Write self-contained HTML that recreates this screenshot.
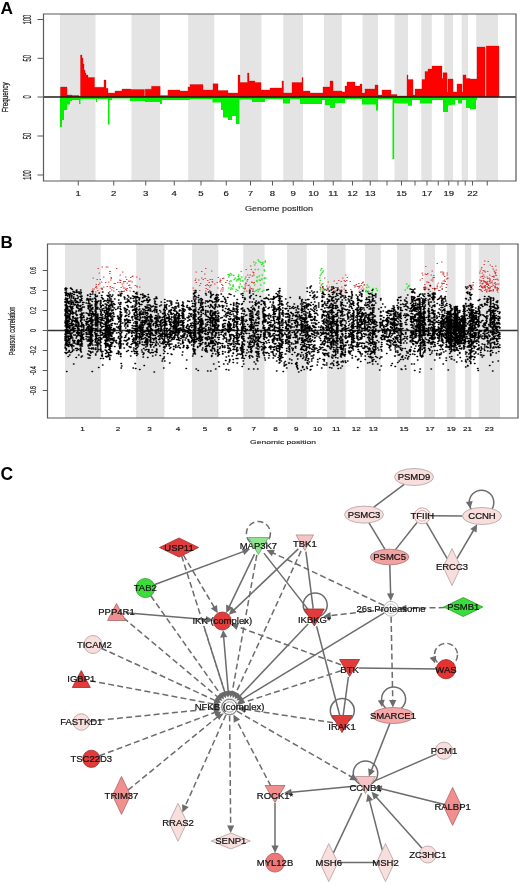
<!DOCTYPE html>
<html><head><meta charset="utf-8"><style>
html,body{margin:0;padding:0;background:#fff;width:520px;height:886px;overflow:hidden}
svg{display:block;filter:blur(0.35px)}
</style></head><body>
<svg width="520" height="886" viewBox="0 0 520 886">
<rect x="60" y="14" width="35.50" height="167" fill="#e4e4e4"/>
<rect x="131.5" y="14" width="28.50" height="167" fill="#e4e4e4"/>
<rect x="188.25" y="14" width="26.00" height="167" fill="#e4e4e4"/>
<rect x="240" y="14" width="21.50" height="167" fill="#e4e4e4"/>
<rect x="283.25" y="14" width="19.75" height="167" fill="#e4e4e4"/>
<rect x="324" y="14" width="17.75" height="167" fill="#e4e4e4"/>
<rect x="362.5" y="14" width="15.50" height="167" fill="#e4e4e4"/>
<rect x="394.5" y="14" width="13.50" height="167" fill="#e4e4e4"/>
<rect x="421.25" y="14" width="10.50" height="167" fill="#e4e4e4"/>
<rect x="444.25" y="14" width="8.75" height="167" fill="#e4e4e4"/>
<rect x="461.75" y="14" width="6.25" height="167" fill="#e4e4e4"/>
<rect x="476.25" y="14" width="21.75" height="167" fill="#e4e4e4"/>
<path d="M60.5 97 L60.5 87 L67 87 L67 95 L72 95 L72 95.5 L79 95.5 L79 96.5 L80.5 96.5 L80.5 55 L82 55 L82 58 L83 58 L83 64 L84 64 L84 70 L85 70 L85 73 L86 73 L86 75 L88 75 L88 77.5 L94.5 77.5 L94.5 87.3 L97 87.3 L97 87.3 L104 87.3 L104 80 L106 80 L106 88.3 L108 88.3 L108 93 L115 93 L115 91 L122 91 L122 89 L131 89 L131 89.5 L144.4 89.5 L144.4 96 L145.2 96 L145.2 89.2 L151.5 89.2 L151.5 86.3 L160.2 86.3 L160.2 95.5 L167.9 95.5 L167.9 90 L180 90 L180 91 L188 91 L188 87 L190 87 L190 84.5 L203 84.5 L203 90 L213 90 L213 83.7 L218 83.7 L218 90.5 L228 90.5 L228 93 L238 93 L238 75 L240 75 L240 82.5 L247.5 82.5 L247.5 73 L249 73 L249 81 L255 81 L255 82.5 L261 82.5 L261 90 L270 90 L270 88 L282 88 L282 81 L283.5 81 L283.5 93 L292 93 L292 82.5 L302 82.5 L302 77.5 L303 77.5 L303 91 L310 91 L310 93 L323 93 L323 87 L330 87 L330 81 L333 81 L333 91 L342 91 L342 92 L345 92 L345 86 L347 86 L347 82 L350 82 L350 82 L355 82 L355 86 L360 86 L360 84 L362 84 L362 93 L365 93 L365 89 L375 89 L375 85 L378 85 L378 95 L382 95 L382 90 L391 90 L391 94.5 L397 94.5 L397 96 L407 96 L407 75 L408 75 L408 79.6 L413 79.6 L413 95 L415 95 L415 89 L422 89 L422 79.6 L425 79.6 L425 71.5 L428 71.5 L428 69 L432 69 L432 66 L442 66 L442 78.5 L443 78.5 L443 72.7 L447 72.7 L447 92 L448 92 L448 79 L453 79 L453 92 L457 92 L457 84 L462 84 L462 92 L463 92 L463 75 L466 75 L466 78.5 L470 78.5 L470 79 L477 79 L477 47 L485 47 L485 96 L486.2 96 L486.2 46 L499 46 L499 97Z" fill="#ff0000" stroke="#c00000" stroke-width="0.3"/>
<path d="M60 97 L60 127 L62 127 L62 120 L64 120 L64 110 L67 110 L67 104.5 L70 104.5 L70 101 L72 101 L72 100 L79 100 L79 104 L80.5 104 L80.5 99 L96 99 L96 102 L97 102 L97 99 L108 99 L108 124.5 L109.5 124.5 L109.5 100 L112 100 L112 98.5 L130 98.5 L130 101 L145 101 L145 102 L160 102 L160 104 L162 104 L162 100 L190 100 L190 99 L212.5 99 L212.5 102.5 L221 102.5 L221 110 L223 110 L223 117.4 L228 117.4 L228 120 L232 120 L232 116 L236 116 L236 124 L239.5 124 L239.5 99.5 L252 99.5 L252 102 L265 102 L265 99 L283 99 L283 103.5 L290 103.5 L290 99 L300 99 L300 104 L322 104 L322 100 L325 100 L325 105 L330 105 L330 108 L335 108 L335 103 L345 103 L345 99 L362 99 L362 104.5 L376 104.5 L376 110.5 L378 110.5 L378 99 L392.5 99 L392.5 159 L394.2 159 L394.2 103 L398 103 L398 103.5 L408 103.5 L408 105.8 L412 105.8 L412 100 L420 100 L420 103.5 L432 103.5 L432 100 L443 100 L443 112 L448 112 L448 105 L452 105 L452 104.7 L455 104.7 L455 100 L458 100 L458 103.5 L462 103.5 L462 100 L466 100 L466 108 L470 108 L470 109.3 L476 109.3 L476 100 L477 100 L477 97Z" fill="#00f000"/>
<line x1="43.5" y1="97" x2="516" y2="97" stroke="#1a1a1a" stroke-width="1.6"/>
<path d="M43.5 14H516V181H43.5Z" fill="none" stroke="#5a5a5a" stroke-width="1.2"/>
<line x1="37.5" y1="19.5" x2="43.5" y2="19.5" stroke="#5a5a5a" stroke-width="1"/>
<text transform="translate(30.6,19.5) scale(1.95,1) rotate(-90)" font-size="6" text-anchor="middle" fill="#222" stroke="#222" stroke-width="0.15" font-family="'Liberation Sans', sans-serif" textLength="9.600000000000001" lengthAdjust="spacingAndGlyphs">100</text>
<line x1="37.5" y1="58.3" x2="43.5" y2="58.3" stroke="#5a5a5a" stroke-width="1"/>
<text transform="translate(30.6,58.3) scale(1.95,1) rotate(-90)" font-size="6" text-anchor="middle" fill="#222" stroke="#222" stroke-width="0.15" font-family="'Liberation Sans', sans-serif" textLength="6.4" lengthAdjust="spacingAndGlyphs">50</text>
<line x1="37.5" y1="97" x2="43.5" y2="97" stroke="#5a5a5a" stroke-width="1"/>
<text transform="translate(30.6,97) scale(1.95,1) rotate(-90)" font-size="6" text-anchor="middle" fill="#222" stroke="#222" stroke-width="0.15" font-family="'Liberation Sans', sans-serif" textLength="3.2" lengthAdjust="spacingAndGlyphs">0</text>
<line x1="37.5" y1="136" x2="43.5" y2="136" stroke="#5a5a5a" stroke-width="1"/>
<text transform="translate(30.6,136) scale(1.95,1) rotate(-90)" font-size="6" text-anchor="middle" fill="#222" stroke="#222" stroke-width="0.15" font-family="'Liberation Sans', sans-serif" textLength="6.4" lengthAdjust="spacingAndGlyphs">50</text>
<line x1="37.5" y1="175" x2="43.5" y2="175" stroke="#5a5a5a" stroke-width="1"/>
<text transform="translate(30.6,175) scale(1.95,1) rotate(-90)" font-size="6" text-anchor="middle" fill="#222" stroke="#222" stroke-width="0.15" font-family="'Liberation Sans', sans-serif" textLength="9.600000000000001" lengthAdjust="spacingAndGlyphs">100</text>
<text transform="translate(7.9,97.3) scale(1.55,1) rotate(-90)" font-size="6.4" text-anchor="middle" fill="#222" stroke="#222" stroke-width="0.2" font-family="'Liberation Sans', sans-serif" textLength="30" lengthAdjust="spacingAndGlyphs">Frequency</text>
<line x1="78.25" y1="181" x2="78.25" y2="185.5" stroke="#5a5a5a" stroke-width="1"/>
<line x1="113.75" y1="181" x2="113.75" y2="185.5" stroke="#5a5a5a" stroke-width="1"/>
<line x1="145.75" y1="181" x2="145.75" y2="185.5" stroke="#5a5a5a" stroke-width="1"/>
<line x1="174.25" y1="181" x2="174.25" y2="185.5" stroke="#5a5a5a" stroke-width="1"/>
<line x1="201" y1="181" x2="201" y2="185.5" stroke="#5a5a5a" stroke-width="1"/>
<line x1="226.25" y1="181" x2="226.25" y2="185.5" stroke="#5a5a5a" stroke-width="1"/>
<line x1="250.5" y1="181" x2="250.5" y2="185.5" stroke="#5a5a5a" stroke-width="1"/>
<line x1="272.5" y1="181" x2="272.5" y2="185.5" stroke="#5a5a5a" stroke-width="1"/>
<line x1="293.25" y1="181" x2="293.25" y2="185.5" stroke="#5a5a5a" stroke-width="1"/>
<line x1="313.5" y1="181" x2="313.5" y2="185.5" stroke="#5a5a5a" stroke-width="1"/>
<line x1="333.25" y1="181" x2="333.25" y2="185.5" stroke="#5a5a5a" stroke-width="1"/>
<line x1="352.5" y1="181" x2="352.5" y2="185.5" stroke="#5a5a5a" stroke-width="1"/>
<line x1="370.25" y1="181" x2="370.25" y2="185.5" stroke="#5a5a5a" stroke-width="1"/>
<line x1="387" y1="181" x2="387" y2="185.5" stroke="#5a5a5a" stroke-width="1"/>
<line x1="401.5" y1="181" x2="401.5" y2="185.5" stroke="#5a5a5a" stroke-width="1"/>
<line x1="415" y1="181" x2="415" y2="185.5" stroke="#5a5a5a" stroke-width="1"/>
<line x1="427" y1="181" x2="427" y2="185.5" stroke="#5a5a5a" stroke-width="1"/>
<line x1="438.25" y1="181" x2="438.25" y2="185.5" stroke="#5a5a5a" stroke-width="1"/>
<line x1="448.75" y1="181" x2="448.75" y2="185.5" stroke="#5a5a5a" stroke-width="1"/>
<line x1="458" y1="181" x2="458" y2="185.5" stroke="#5a5a5a" stroke-width="1"/>
<line x1="465.25" y1="181" x2="465.25" y2="185.5" stroke="#5a5a5a" stroke-width="1"/>
<line x1="472.5" y1="181" x2="472.5" y2="185.5" stroke="#5a5a5a" stroke-width="1"/>
<line x1="487.25" y1="181" x2="487.25" y2="185.5" stroke="#5a5a5a" stroke-width="1"/>
<text x="78.25" y="196" font-size="6.6" text-anchor="middle" fill="#1a1a1a" stroke="#1a1a1a" stroke-width="0.15" font-family="'Liberation Sans', sans-serif" transform="translate(78.25,0) scale(1.45,1) translate(-78.25,0)">1</text>
<text x="113.75" y="196" font-size="6.6" text-anchor="middle" fill="#1a1a1a" stroke="#1a1a1a" stroke-width="0.15" font-family="'Liberation Sans', sans-serif" transform="translate(113.75,0) scale(1.45,1) translate(-113.75,0)">2</text>
<text x="145.75" y="196" font-size="6.6" text-anchor="middle" fill="#1a1a1a" stroke="#1a1a1a" stroke-width="0.15" font-family="'Liberation Sans', sans-serif" transform="translate(145.75,0) scale(1.45,1) translate(-145.75,0)">3</text>
<text x="174.25" y="196" font-size="6.6" text-anchor="middle" fill="#1a1a1a" stroke="#1a1a1a" stroke-width="0.15" font-family="'Liberation Sans', sans-serif" transform="translate(174.25,0) scale(1.45,1) translate(-174.25,0)">4</text>
<text x="201" y="196" font-size="6.6" text-anchor="middle" fill="#1a1a1a" stroke="#1a1a1a" stroke-width="0.15" font-family="'Liberation Sans', sans-serif" transform="translate(201,0) scale(1.45,1) translate(-201,0)">5</text>
<text x="226.25" y="196" font-size="6.6" text-anchor="middle" fill="#1a1a1a" stroke="#1a1a1a" stroke-width="0.15" font-family="'Liberation Sans', sans-serif" transform="translate(226.25,0) scale(1.45,1) translate(-226.25,0)">6</text>
<text x="250.5" y="196" font-size="6.6" text-anchor="middle" fill="#1a1a1a" stroke="#1a1a1a" stroke-width="0.15" font-family="'Liberation Sans', sans-serif" transform="translate(250.5,0) scale(1.45,1) translate(-250.5,0)">7</text>
<text x="272.5" y="196" font-size="6.6" text-anchor="middle" fill="#1a1a1a" stroke="#1a1a1a" stroke-width="0.15" font-family="'Liberation Sans', sans-serif" transform="translate(272.5,0) scale(1.45,1) translate(-272.5,0)">8</text>
<text x="293.25" y="196" font-size="6.6" text-anchor="middle" fill="#1a1a1a" stroke="#1a1a1a" stroke-width="0.15" font-family="'Liberation Sans', sans-serif" transform="translate(293.25,0) scale(1.45,1) translate(-293.25,0)">9</text>
<text x="313.5" y="196" font-size="6.6" text-anchor="middle" fill="#1a1a1a" stroke="#1a1a1a" stroke-width="0.15" font-family="'Liberation Sans', sans-serif" transform="translate(313.5,0) scale(1.45,1) translate(-313.5,0)">10</text>
<text x="333.25" y="196" font-size="6.6" text-anchor="middle" fill="#1a1a1a" stroke="#1a1a1a" stroke-width="0.15" font-family="'Liberation Sans', sans-serif" transform="translate(333.25,0) scale(1.45,1) translate(-333.25,0)">11</text>
<text x="352.5" y="196" font-size="6.6" text-anchor="middle" fill="#1a1a1a" stroke="#1a1a1a" stroke-width="0.15" font-family="'Liberation Sans', sans-serif" transform="translate(352.5,0) scale(1.45,1) translate(-352.5,0)">12</text>
<text x="370.25" y="196" font-size="6.6" text-anchor="middle" fill="#1a1a1a" stroke="#1a1a1a" stroke-width="0.15" font-family="'Liberation Sans', sans-serif" transform="translate(370.25,0) scale(1.45,1) translate(-370.25,0)">13</text>
<text x="401.5" y="196" font-size="6.6" text-anchor="middle" fill="#1a1a1a" stroke="#1a1a1a" stroke-width="0.15" font-family="'Liberation Sans', sans-serif" transform="translate(401.5,0) scale(1.45,1) translate(-401.5,0)">15</text>
<text x="427" y="196" font-size="6.6" text-anchor="middle" fill="#1a1a1a" stroke="#1a1a1a" stroke-width="0.15" font-family="'Liberation Sans', sans-serif" transform="translate(427,0) scale(1.45,1) translate(-427,0)">17</text>
<text x="448.75" y="196" font-size="6.6" text-anchor="middle" fill="#1a1a1a" stroke="#1a1a1a" stroke-width="0.15" font-family="'Liberation Sans', sans-serif" transform="translate(448.75,0) scale(1.45,1) translate(-448.75,0)">19</text>
<text x="472.5" y="196" font-size="6.6" text-anchor="middle" fill="#1a1a1a" stroke="#1a1a1a" stroke-width="0.15" font-family="'Liberation Sans', sans-serif" transform="translate(472.5,0) scale(1.45,1) translate(-472.5,0)">22</text>
<text x="279" y="211" font-size="6.5" text-anchor="middle" fill="#222" stroke="#222" stroke-width="0.12" font-family="'Liberation Sans', sans-serif" textLength="68" lengthAdjust="spacingAndGlyphs">Genome position</text>
<text x="0.6" y="13.5" font-size="17.3" font-weight="bold" fill="#000" font-family="'Liberation Sans', sans-serif">A</text>
<rect x="65" y="244" width="35.75" height="174" fill="#e4e4e4"/>
<rect x="136.25" y="244" width="28.00" height="174" fill="#e4e4e4"/>
<rect x="192" y="244" width="26.25" height="174" fill="#e4e4e4"/>
<rect x="243.25" y="244" width="21.25" height="174" fill="#e4e4e4"/>
<rect x="287" y="244" width="19.75" height="174" fill="#e4e4e4"/>
<rect x="327" y="244" width="18.50" height="174" fill="#e4e4e4"/>
<rect x="365" y="244" width="15.75" height="174" fill="#e4e4e4"/>
<rect x="397" y="244" width="13.75" height="174" fill="#e4e4e4"/>
<rect x="424.25" y="244" width="10.75" height="174" fill="#e4e4e4"/>
<rect x="446.75" y="244" width="8.75" height="174" fill="#e4e4e4"/>
<rect x="465" y="244" width="6.25" height="174" fill="#e4e4e4"/>
<rect x="478.75" y="244" width="21.25" height="174" fill="#e4e4e4"/>
<line x1="47.5" y1="330.5" x2="518" y2="330.5" stroke="#333" stroke-width="1.5"/>
<path d="M130 577h1m-1 3h1m-1 5h1m-1 14h1m-1 4h1m-1 2h1m-1 5h1m-1 9h1m-1 2h1m-1 1h1m-1 6h1m-1 2h1m-1 1h1m-1 11h1m-1 3h1m-1 1h1m-1 6h1m-1 8h1m-1 8h1m-1 1h1m-1 4h1m-1 3h1m-1 1h1m-1 2h1m-1 1h1m-1 1h1m-1 9h1m-1 4h1m-1 2h1m-1 9h1m0 -129h1m-1 1h1m-1 1h1m-1 1h1m-1 1h1m-1 5h1m-1 3h1m-1 3h1m-1 5h1m-1 7h1m-1 1h1m-1 1h1m-1 7h1m-1 4h1m-1 2h1m-1 4h1m-1 1h1m-1 3h1m-1 1h1m-1 2h1m-1 1h1m-1 2h1m-1 2h1m-1 4h1m-1 7h1m-1 2h1m-1 1h1m-1 3h1m-1 9h1m-1 3h1m-1 2h1m-1 4h1m-1 1h1m-1 6h1m-1 4h1m-1 2h1m-1 4h1m-1 2h1m-1 1h1m-1 1h1m0 -110h1m-1 4h1m-1 4h1m-1 2h1m-1 7h1m-1 12h1m-1 1h1m-1 2h1m-1 5h1m-1 4h1m-1 9h1m-1 3h1m-1 1h1m-1 1h1m-1 1h1m-1 2h1m-1 1h1m-1 2h1m-1 2h1m-1 3h1m-1 9h1m-1 7h1m-1 3h1m-1 9h1m-1 1h1m-1 2h1m-1 2h1m-1 6h1m-1 1h1m-1 3h1m-1 8h1m-1 1h1m-1 2h1m-1 7h1m0 -130h1m-1 13h1m-1 10h1m-1 6h1m-1 7h1m-1 1h1m-1 1h1m-1 1h1m-1 1h1m-1 2h1m-1 4h1m-1 1h1m-1 1h1m-1 6h1m-1 1h1m-1 5h1m-1 3h1m-1 3h1m-1 1h1m-1 1h1m-1 1h1m-1 3h1m-1 3h1m-1 1h1m-1 2h1m-1 3h1m-1 5h1m-1 2h1m-1 3h1m-1 5h1m-1 1h1m-1 5h1m-1 3h1m-1 1h1m-1 4h1m-1 1h1m-1 3h1m-1 52h1m0 -156h1m-1 12h1m-1 2h1m-1 11h1m-1 12h1m-1 12h1m-1 17h1m-1 9h1m-1 10h1m-1 33h1m0 -113h1m-1 5h1m-1 6h1m-1 10h1m-1 3h1m-1 1h1m-1 2h1m-1 1h1m-1 6h1m-1 5h1m-1 2h1m-1 8h1m-1 2h1m-1 2h1m-1 2h1m-1 2h1m-1 2h1m-1 2h1m-1 2h1m-1 5h1m-1 6h1m-1 1h1m-1 17h1m-1 4h1m-1 3h1m0 -104h1m-1 18h1m-1 23h1m-1 12h1m-1 2h1m-1 7h1m-1 11h1m-1 3h1m-1 13h1m-1 5h1m-1 11h1m-1 21h1m0 -124h1m-1 17h1m-1 1h1m-1 15h1m-1 6h1m-1 5h1m-1 1h1m-1 2h1m-1 4h1m-1 1h1m-1 14h1m-1 12h1m-1 5h1m-1 1h1m-1 4h1m-1 1h1m-1 12h1m-1 3h1m-1 11h1m0 -101h1m-1 19h1m-1 21h1m-1 10h1m-1 13h1m-1 1h1m-1 18h1m-1 16h1m-1 1h1m0 -113h1m-1 2h1m-1 2h1m-1 3h1m-1 7h1m-1 10h1m-1 7h1m-1 3h1m-1 6h1m-1 2h1m-1 3h1m-1 3h1m-1 2h1m-1 8h1m-1 4h1m-1 4h1m-1 2h1m-1 6h1m-1 10h1m-1 7h1m-1 4h1m-1 4h1m-1 22h1m0 -124h1m-1 22h1m-1 4h1m-1 2h1m-1 9h1m-1 5h1m-1 10h1m-1 9h1m-1 21h1m-1 4h1m-1 5h1m0 -101h1m-1 1h1m-1 11h1m-1 12h1m-1 4h1m-1 11h1m-1 1h1m-1 6h1m-1 3h1m-1 1h1m-1 26h1m-1 8h1m-1 1h1m-1 5h1m-1 2h1m-1 6h1m-1 15h1m-1 2h1m-1 14h1m0 -128h1m-1 28h1m-1 9h1m-1 2h1m-1 11h1m-1 23h1m-1 1h1m-1 19h1m0 -79h1m-1 2h1m-1 3h1m-1 5h1m-1 4h1m-1 1h1m-1 3h1m-1 10h1m-1 21h1m-1 4h1m-1 2h1m-1 13h1m-1 1h1m-1 13h1m-1 3h1m-1 13h1m-1 4h1m0 -114h1m-1 8h1m-1 17h1m-1 10h1m-1 8h1m-1 20h1m-1 1h1m-1 5h1m-1 3h1m-1 5h1m-1 4h1m-1 6h1m-1 25h1m-1 5h1m-1 7h1m0 -90h1m-1 4h1m-1 7h1m-1 1h1m-1 3h1m-1 5h1m-1 3h1m-1 4h1m-1 1h1m-1 9h1m-1 7h1m-1 19h1m-1 4h1m-1 11h1m-1 9h1m0 -117h1m-1 22h1m-1 28h1m-1 2h1m-1 1h1m-1 12h1m-1 6h1m-1 1h1m-1 27h1m-1 4h1m0 -103h1m-1 1h1m-1 5h1m-1 5h1m-1 3h1m-1 11h1m-1 18h1m-1 10h1m-1 5h1m-1 8h1m-1 5h1m-1 3h1m-1 3h1m-1 3h1m-1 1h1m-1 6h1m-1 12h1m-1 4h1m-1 6h1m-1 8h1m-1 28h1m0 -139h1m-1 13h1m-1 8h1m-1 73h1m-1 2h1m0 -100h1m-1 58h1m-1 19h1m-1 19h1m-1 5h1m0 -87h1m-1 10h1m-1 17h1m-1 11h1m-1 5h1m-1 10h1m-1 5h1m-1 13h1m0 -73h1m-1 4h1m-1 4h1m-1 21h1m-1 10h1m-1 4h1m-1 2h1m-1 1h1m-1 1h1m-1 4h1m-1 3h1m-1 46h1m0 -115h1m-1 22h1m-1 1h1m-1 17h1m-1 1h1m-1 6h1m-1 13h1m-1 34h1m-1 12h1m-1 27h1m0 -135h1m-1 5h1m-1 26h1m-1 2h1m-1 2h1m-1 16h1m-1 6h1m-1 8h1m-1 8h1m-1 12h1m-1 1h1m-1 6h1m-1 1h1m-1 24h1m-1 4h1m0 -117h1m-1 7h1m-1 12h1m-1 27h1m-1 10h1m-1 4h1m-1 6h1m-1 14h1m-1 3h1m-1 17h1m-1 13h1m0 -100h1m-1 8h1m-1 4h1m-1 5h1m-1 22h1m-1 7h1m-1 3h1m-1 8h1m-1 1h1m-1 2h1m-1 4h1m-1 2h1m-1 1h1m-1 3h1m-1 1h1m-1 13h1m-1 6h1m-1 1h1m-1 1h1m0 -95h1m-1 23h1m-1 28h1m-1 14h1m-1 12h1m-1 9h1m-1 1h1m-1 18h1m0 -115h1m-1 21h1m-1 6h1m-1 10h1m-1 1h1m-1 24h1m-1 2h1m-1 1h1m-1 3h1m-1 5h1m-1 8h1m-1 2h1m-1 16h1m-1 1h1m-1 2h1m-1 3h1m-1 21h1m0 -123h1m-1 73h1m-1 5h1m-1 1h1m-1 4h1m0 -70h1m-1 19h1m-1 34h1m-1 28h1m0 -97h1m-1 9h1m-1 11h1m-1 9h1m-1 4h1m-1 1h1m-1 11h1m-1 6h1m-1 17h1m-1 14h1m-1 6h1m-1 18h1m-1 2h1m-1 5h1m-1 3h1m0 -120h1m-1 4h1m-1 4h1m-1 6h1m-1 7h1m-1 10h1m-1 11h1m-1 11h1m-1 3h1m-1 5h1m-1 2h1m-1 19h1m-1 4h1m-1 7h1m-1 1h1m-1 4h1m-1 2h1m-1 3h1m-1 5h1m-1 8h1m-1 3h1m-1 3h1m0 -117h1m-1 7h1m-1 7h1m-1 19h1m-1 10h1m-1 3h1m-1 5h1m-1 3h1m-1 1h1m-1 29h1m-1 1h1m-1 7h1m-1 2h1m-1 2h1m-1 8h1m-1 3h1m-1 12h1m-1 10h1m0 -122h1m-1 1h1m-1 4h1m-1 4h1m-1 15h1m-1 4h1m-1 6h1m-1 1h1m-1 4h1m-1 4h1m-1 1h1m-1 2h1m-1 1h1m-1 1h1m-1 5h1m-1 1h1m-1 1h1m-1 2h1m-1 1h1m-1 1h1m-1 3h1m-1 5h1m-1 1h1m-1 4h1m-1 1h1m-1 3h1m-1 7h1m-1 7h1m-1 2h1m-1 3h1m-1 1h1m0 -61h1m-1 2h1m-1 42h1m-1 2h1m-1 5h1m-1 10h1m-1 4h1m-1 20h1m0 -107h1m-1 4h1m-1 5h1m-1 21h1m-1 16h1m-1 9h1m-1 9h1m0 -20h1m-1 26h1m-1 2h1m0 -72h1m-1 21h1m-1 6h1m-1 3h1m-1 16h1m-1 2h1m-1 2h1m-1 3h1m-1 5h1m-1 5h1m-1 11h1m0 -65h1m-1 26h1m2 3h1m-1 17h1m0 -54h1m-1 20h1m-1 21h1m-1 3h1m-1 9h1m-1 1h1m-1 5h1m-1 3h1m-1 5h1m-1 5h1m0 -78h1m-1 39h1m-1 4h1m-1 2h1m-1 2h1m-1 1h1m-1 8h1m-1 13h1m0 -72h1m-1 2h1m-1 37h1m-1 46h1m0 -92h1m-1 1h1m-1 36h1m-1 10h1m-1 6h1m-1 2h1m-1 8h1m-1 15h1m-1 6h1m-1 34h1m0 -110h1m-1 9h1m-1 4h1m-1 1h1m-1 2h1m-1 3h1m-1 11h1m-1 21h1m-1 5h1m-1 3h1m-1 1h1m-1 2h1m-1 4h1m-1 15h1m-1 11h1m-1 2h1m-1 24h1m0 -115h1m-1 3h1m-1 8h1m-1 3h1m-1 3h1m-1 13h1m-1 12h1m-1 6h1m-1 8h1m-1 7h1m-1 4h1m-1 6h1m-1 5h1m-1 2h1m-1 1h1m-1 9h1m-1 5h1m-1 6h1m0 -71h1m-1 10h1m-1 1h1m-1 9h1m-1 2h1m-1 1h1m-1 6h1m-1 1h1m-1 8h1m-1 9h1m-1 4h1m-1 8h1m-1 20h1m0 -112h1m-1 9h1m-1 1h1m-1 13h1m-1 3h1m-1 4h1m-1 9h1m-1 4h1m-1 17h1m-1 4h1m-1 1h1m-1 2h1m-1 2h1m-1 7h1m-1 8h1m-1 5h1m-1 2h1m-1 8h1m-1 19h1m0 -128h1m-1 5h1m-1 18h1m-1 2h1m-1 7h1m-1 2h1m-1 5h1m-1 9h1m-1 2h1m-1 2h1m-1 14h1m-1 9h1m-1 12h1m-1 4h1m-1 2h1m-1 2h1m-1 8h1m-1 12h1m-1 8h1m0 -122h1m-1 9h1m-1 1h1m-1 1h1m-1 12h1m-1 4h1m-1 4h1m-1 7h1m-1 13h1m-1 3h1m-1 4h1m-1 8h1m-1 4h1m-1 2h1m-1 1h1m-1 4h1m-1 2h1m-1 1h1m-1 1h1m-1 1h1m-1 2h1m-1 1h1m-1 3h1m-1 9h1m-1 1h1m-1 2h1m-1 16h1m-1 1h1m0 -86h1m-1 7h1m-1 4h1m-1 9h1m-1 2h1m-1 2h1m-1 4h1m-1 4h1m-1 4h1m-1 1h1m-1 3h1m-1 2h1m-1 3h1m-1 2h1m-1 1h1m-1 4h1m-1 6h1m-1 1h1m-1 2h1m0 -71h1m-1 1h1m-1 7h1m-1 11h1m-1 4h1m-1 1h1m-1 1h1m-1 3h1m-1 6h1m-1 2h1m-1 7h1m-1 1h1m-1 2h1m-1 4h1m-1 1h1m-1 1h1m-1 7h1m-1 7h1m-1 3h1m-1 1h1m-1 4h1m-1 3h1m-1 9h1m-1 1h1m-1 1h1m0 -115h1m-1 20h1m-1 14h1m-1 6h1m-1 6h1m-1 12h1m-1 2h1m-1 1h1m-1 7h1m-1 5h1m-1 4h1m-1 4h1m-1 5h1m-1 3h1m-1 10h1m-1 1h1m-1 21h1m-1 39h1m0 -160h1m-1 1h1m-1 4h1m-1 10h1m-1 17h1m-1 3h1m-1 6h1m-1 2h1m-1 2h1m-1 12h1m-1 2h1m-1 2h1m-1 5h1m-1 2h1m-1 7h1m-1 14h1m-1 9h1m-1 9h1m-1 14h1m0 -77h1m-1 13h1m-1 56h1m0 -67h1m-1 3h1m-1 25h1m-1 41h1m1 -102h1m-1 32h1m-1 37h1m0 -76h1m-1 1h1m-1 7h1m-1 6h1m-1 5h1m-1 1h1m-1 3h1m-1 8h1m-1 2h1m-1 1h1m-1 4h1m-1 3h1m-1 6h1m-1 1h1m-1 1h1m-1 1h1m-1 2h1m-1 5h1m-1 3h1m-1 1h1m-1 10h1m-1 1h1m-1 7h1m-1 11h1m-1 5h1m-1 6h1m0 -97h1m-1 6h1m-1 1h1m-1 4h1m-1 1h1m-1 1h1m-1 1h1m-1 1h1m-1 6h1m-1 2h1m-1 1h1m-1 2h1m-1 2h1m-1 5h1m-1 1h1m-1 1h1m-1 3h1m-1 1h1m-1 2h1m-1 2h1m-1 2h1m-1 4h1m-1 3h1m-1 3h1m-1 3h1m-1 1h1m-1 5h1m-1 4h1m-1 1h1m-1 5h1m-1 1h1m-1 2h1m-1 2h1m-1 1h1m-1 4h1m-1 1h1m-1 1h1m-1 2h1m-1 2h1m-1 1h1m-1 12h1m-1 3h1m-1 9h1m-1 2h1m0 -95h1m-1 9h1m-1 5h1m-1 4h1m-1 1h1m-1 3h1m-1 3h1m-1 9h1m-1 2h1m-1 7h1m-1 2h1m-1 9h1m-1 6h1m-1 3h1m0 -85h1m-1 10h1m-1 7h1m-1 4h1m-1 1h1m-1 20h1m-1 2h1m-1 9h1m-1 6h1m-1 15h1m-1 1h1m-1 2h1m-1 2h1m-1 14h1m-1 4h1m-1 14h1m0 -112h1m-1 14h1m-1 12h1m-1 21h1m-1 5h1m-1 7h1m-1 26h1m-1 8h1m-1 3h1m0 -85h1m-1 12h1m-1 13h1m-1 2h1m-1 1h1m-1 1h1m-1 2h1m-1 2h1m-1 5h1m-1 1h1m-1 2h1m-1 2h1m-1 3h1m-1 3h1m-1 4h1m-1 4h1m-1 3h1m-1 19h1m-1 9h1m-1 3h1m-1 4h1m-1 4h1m0 -65h1m-1 1h1m-1 33h1m-1 7h1m-1 3h1m-1 7h1m0 -86h1m-1 41h1m-1 43h1m-1 13h1m-1 36h1m0 -149h1m-1 32h1m-1 26h1m-1 31h1m0 -40h1m-1 27h1m-1 18h1m-1 8h1m0 -80h1m-1 31h1m-1 9h1m-1 10h1m-1 8h1m-1 5h1m-1 4h1m-1 7h1m0 -81h1m-1 2h1m-1 2h1m-1 2h1m-1 4h1m-1 1h1m-1 3h1m-1 5h1m-1 3h1m-1 5h1m-1 2h1m-1 5h1m-1 4h1m-1 1h1m-1 4h1m-1 2h1m-1 4h1m-1 2h1m-1 6h1m-1 3h1m-1 2h1m-1 7h1m-1 1h1m-1 5h1m-1 1h1m-1 2h1m-1 5h1m-1 1h1m-1 6h1m-1 1h1m-1 4h1m-1 3h1m-1 2h1m-1 1h1m-1 15h1m0 -105h1m-1 1h1m-1 11h1m-1 2h1m-1 9h1m-1 42h1m-1 25h1m0 -111h1m-1 4h1m-1 36h1m-1 10h1m-1 14h1m-1 23h1m-1 26h1m-1 7h1m0 -115h1m-1 22h1m-1 19h1m-1 2h1m-1 7h1m-1 7h1m-1 12h1m-1 4h1m-1 1h1m-1 38h1m-1 3h1m-1 2h1m0 -129h1m-1 13h1m-1 1h1m-1 12h1m-1 11h1m-1 8h1m-1 5h1m-1 13h1m-1 6h1m-1 15h1m-1 2h1m-1 33h1m-1 27h1m0 -132h1m-1 13h1m-1 42h1m-1 14h1m-1 8h1m-1 42h1m0 -114h1m-1 14h1m-1 24h1m-1 19h1m-1 7h1m-1 6h1m0 -49h1m-1 13h1m-1 12h1m-1 18h1m0 -66h1m-1 20h1m-1 39h1m-1 11h1m-1 16h1m0 -79h1m-1 6h1m-1 7h1m-1 5h1m-1 5h1m-1 3h1m-1 10h1m-1 2h1m-1 2h1m-1 5h1m-1 5h1m-1 3h1m-1 3h1m-1 5h1m-1 1h1m-1 2h1m-1 3h1m-1 5h1m-1 1h1m-1 6h1m-1 1h1m-1 12h1m0 -92h1m-1 6h1m-1 15h1m-1 6h1m-1 10h1m-1 5h1m-1 1h1m-1 1h1m-1 1h1m-1 1h1m-1 2h1m-1 1h1m-1 1h1m-1 2h1m-1 1h1m-1 3h1m-1 1h1m-1 3h1m-1 1h1m-1 5h1m-1 6h1m-1 2h1m-1 1h1m-1 2h1m-1 1h1m-1 1h1m-1 2h1m-1 1h1m-1 1h1m-1 1h1m-1 3h1m-1 12h1m-1 6h1m0 -111h1m-1 15h1m-1 10h1m-1 6h1m-1 5h1m-1 9h1m-1 2h1m-1 2h1m-1 4h1m-1 4h1m-1 1h1m-1 15h1m-1 6h1m-1 1h1m-1 5h1m-1 14h1m0 -92h1m-1 2h1m-1 5h1m-1 1h1m-1 3h1m-1 3h1m-1 2h1m-1 2h1m-1 13h1m-1 2h1m-1 2h1m-1 1h1m-1 2h1m-1 5h1m-1 3h1m-1 3h1m-1 2h1m-1 2h1m-1 2h1m-1 4h1m-1 3h1m-1 3h1m-1 1h1m-1 1h1m-1 1h1m-1 3h1m-1 1h1m-1 11h1m-1 10h1m-1 1h1m-1 10h1m-1 1h1m0 -123h1m-1 35h1m-1 2h1m-1 5h1m-1 4h1m-1 4h1m-1 1h1m-1 1h1m-1 9h1m-1 6h1m-1 1h1m-1 11h1m-1 5h1m-1 2h1m-1 5h1m-1 5h1m-1 1h1m-1 3h1m-1 14h1m0 -107h1m-1 3h1m-1 4h1m-1 13h1m-1 6h1m-1 2h1m-1 2h1m-1 2h1m-1 2h1m-1 4h1m-1 2h1m-1 1h1m-1 12h1m-1 3h1m-1 1h1m-1 4h1m-1 3h1m-1 4h1m-1 8h1m-1 13h1m-1 1h1m-1 1h1m-1 3h1m-1 20h1m0 -120h1m-1 1h1m-1 37h1m-1 3h1m-1 5h1m-1 5h1m-1 3h1m-1 4h1m-1 1h1m-1 4h1m-1 8h1m-1 5h1m-1 11h1m-1 2h1m-1 25h1m0 -120h1m-1 16h1m-1 4h1m-1 5h1m-1 1h1m-1 2h1m-1 3h1m-1 3h1m-1 2h1m-1 4h1m-1 6h1m-1 8h1m-1 3h1m-1 1h1m-1 6h1m-1 6h1m-1 1h1m-1 9h1m-1 5h1m-1 2h1m-1 5h1m-1 12h1m-1 9h1m-1 6h1m-1 4h1m-1 4h1m0 -123h1m-1 27h1m-1 42h1m-1 4h1m-1 2h1m-1 11h1m-1 6h1m-1 11h1m-1 1h1m-1 16h1m0 -116h1m-1 2h1m-1 4h1m-1 2h1m-1 8h1m-1 3h1m-1 6h1m-1 1h1m-1 7h1m-1 1h1m-1 1h1m-1 3h1m-1 18h1m-1 2h1m-1 1h1m-1 3h1m-1 4h1m-1 1h1m-1 1h1m-1 7h1m-1 7h1m-1 19h1m-1 3h1m-1 18h1m-1 3h1m0 -129h1m-1 39h1m-1 2h1m-1 10h1m-1 2h1m-1 14h1m-1 1h1m-1 6h1m-1 3h1m-1 5h1m-1 5h1m-1 1h1m-1 12h1m-1 7h1m-1 4h1m-1 4h1m0 -94h1m-1 5h1m-1 10h1m-1 6h1m-1 2h1m-1 5h1m-1 3h1m-1 25h1m-1 3h1m-1 2h1m-1 8h1m-1 5h1m-1 4h1m-1 3h1m-1 1h1m-1 9h1m-1 9h1m0 -113h1m-1 4h1m-1 4h1m-1 3h1m-1 19h1m-1 20h1m-1 7h1m0 -62h1m-1 11h1m-1 16h1m-1 2h1m-1 5h1m-1 11h1m-1 13h1m-1 8h1m-1 6h1m-1 5h1m-1 3h1m-1 4h1m-1 1h1m-1 1h1m-1 6h1m-1 1h1m-1 2h1m-1 4h1m-1 12h1m0 -92h1m-1 9h1m-1 11h1m-1 4h1m-1 2h1m-1 9h1m0 -57h1m-1 13h1m-1 7h1m-1 4h1m-1 6h1m-1 12h1m-1 4h1m-1 4h1m-1 1h1m-1 24h1m-1 2h1m-1 10h1m-1 1h1m-1 2h1m-1 5h1m-1 1h1m0 -79h1m-1 13h1m-1 5h1m-1 35h1m-1 4h1m0 -57h1m-1 21h1m-1 29h1m-1 19h1m-1 6h1m0 -66h1m-1 17h1m-1 43h1m-1 4h1m-1 1h1m0 -83h1m-1 11h1m-1 38h1m-1 11h1m-1 1h1m-1 3h1m-1 31h1m0 -45h1m0 -29h1m-1 65h1m0 -3h1m0 -27h1m-1 12h1m-1 20h1m-1 21h1m0 -59h1m0 -31h1m-1 15h1m-1 1h1m0 -43h1m-1 24h1m-1 22h1m-1 1h1m-1 19h1m-1 20h1m-1 26h1m-1 4h1m0 -115h1m-1 9h1m-1 6h1m-1 29h1m-1 2h1m-1 1h1m-1 1h1m-1 5h1m-1 9h1m-1 3h1m-1 9h1m-1 8h1m-1 15h1m-1 16h1m-1 4h1m0 -22h1m-1 6h1m-1 12h1m0 -95h1m-1 26h1m-1 7h1m-1 10h1m-1 1h1m-1 5h1m-1 1h1m-1 19h1m-1 5h1m-1 1h1m-1 4h1m-1 4h1m-1 3h1m-1 2h1m0 -109h1m-1 25h1m-1 4h1m-1 6h1m-1 1h1m-1 4h1m-1 2h1m-1 4h1m-1 1h1m-1 1h1m-1 1h1m-1 6h1m-1 6h1m-1 7h1m-1 2h1m-1 4h1m-1 5h1m-1 1h1m-1 2h1m-1 6h1m-1 2h1m-1 2h1m-1 5h1m0 -95h1m-1 1h1m-1 1h1m-1 13h1m-1 3h1m-1 11h1m-1 6h1m-1 4h1m-1 3h1m-1 1h1m-1 2h1m-1 1h1m-1 3h1m-1 1h1m-1 3h1m-1 1h1m-1 3h1m-1 5h1m-1 1h1m-1 1h1m-1 4h1m-1 12h1m-1 2h1m-1 4h1m-1 5h1m-1 2h1m-1 4h1m-1 4h1m-1 2h1m-1 3h1m-1 11h1m-1 2h1m-1 4h1m0 -88h1m-1 8h1m-1 33h1m-1 22h1m-1 39h1m-1 9h1m0 -153h1m-1 4h1m-1 43h1m-1 34h1m-1 10h1m-1 58h1m1 -86h1m0 42h1m1 -94h1m-1 22h1m-1 65h1m-1 15h1m0 -101h1m-1 3h1m-1 22h1m-1 19h1m-1 3h1m-1 10h1m-1 23h1m-1 6h1m0 -64h1m-1 7h1m-1 9h1m-1 7h1m-1 6h1m-1 3h1m0 -44h1m-1 26h1m-1 1h1m-1 24h1m-1 15h1m-1 3h1m-1 8h1m0 -60h1m-1 25h1m-1 15h1m-1 20h1m0 -63h1m-1 7h1m-1 5h1m-1 7h1m-1 2h1m-1 28h1m-1 20h1m-1 1h1m-1 14h1m0 -105h1m-1 6h1m-1 7h1m-1 8h1m-1 26h1m-1 7h1m-1 28h1m-1 10h1m0 -99h1m-1 11h1m-1 10h1m-1 28h1m-1 3h1m-1 1h1m-1 6h1m-1 3h1m-1 7h1m-1 3h1m-1 23h1m0 -72h1m-1 28h1m-1 37h1m-1 22h1m0 -107h1m-1 6h1m-1 29h1m-1 4h1m-1 7h1m-1 1h1m-1 4h1m-1 18h1m-1 3h1m-1 10h1m-1 2h1m-1 1h1m0 -76h1m-1 19h1m-1 55h1m-1 16h1m0 -67h1m-1 15h1m-1 19h1m-1 4h1m-1 30h1m0 -53h1m-1 4h1m0 -49h1m-1 1h1m-1 8h1m-1 89h1m-1 1h1m-1 17h1m0 -98h1m-1 75h1m0 -55h1m-1 30h1m-1 3h1m-1 6h1m-1 30h1m0 -67h1m-1 15h1m-1 5h1m-1 6h1m-1 9h1m-1 16h1m0 -95h1m-1 20h1m-1 2h1m-1 6h1m-1 1h1m-1 12h1m-1 7h1m-1 24h1m-1 15h1m-1 4h1m0 -86h1m-1 55h1m-1 84h1m0 -153h1m-1 10h1m-1 9h1m-1 17h1m-1 27h1m-1 11h1m-1 8h1m-1 11h1m-1 5h1m-1 5h1m-1 10h1m-1 4h1m0 -80h1m-1 6h1m-1 3h1m-1 37h1m-1 12h1m-1 25h1m0 -108h1m-1 19h1m-1 4h1m-1 1h1m-1 11h1m-1 2h1m-1 29h1m-1 23h1m-1 23h1m0 -114h1m-1 9h1m-1 8h1m-1 3h1m-1 6h1m-1 6h1m-1 10h1m-1 1h1m-1 1h1m-1 6h1m-1 8h1m-1 2h1m-1 4h1m-1 3h1m-1 1h1m-1 10h1m-1 13h1m-1 2h1m-1 41h1m0 -140h1m-1 6h1m-1 5h1m-1 8h1m-1 5h1m-1 10h1m-1 2h1m-1 2h1m-1 6h1m-1 7h1m-1 5h1m-1 1h1m-1 3h1m-1 4h1m-1 2h1m-1 9h1m-1 1h1m-1 8h1m-1 2h1m-1 2h1m-1 2h1m-1 3h1m-1 5h1m-1 1h1m-1 1h1m-1 1h1m-1 4h1m-1 5h1m-1 1h1m-1 5h1m-1 34h1m0 -135h1m-1 3h1m-1 12h1m-1 19h1m-1 2h1m-1 8h1m-1 7h1m-1 5h1m-1 1h1m-1 2h1m-1 3h1m-1 1h1m-1 2h1m-1 2h1m-1 2h1m-1 3h1m-1 1h1m-1 2h1m-1 1h1m-1 1h1m-1 11h1m-1 8h1m-1 5h1m0 -118h1m-1 2h1m-1 1h1m-1 7h1m-1 6h1m-1 1h1m-1 5h1m-1 1h1m-1 8h1m-1 3h1m-1 4h1m-1 3h1m-1 4h1m-1 1h1m-1 12h1m-1 1h1m-1 2h1m-1 4h1m-1 3h1m-1 4h1m-1 9h1m-1 1h1m-1 2h1m-1 3h1m-1 1h1m-1 1h1m-1 2h1m-1 1h1m-1 9h1m-1 1h1m-1 1h1m-1 1h1m-1 1h1m-1 16h1m-1 1h1m-1 4h1m0 -123h1m-1 5h1m-1 36h1m-1 5h1m-1 5h1m-1 5h1m-1 3h1m-1 9h1m-1 5h1m-1 1h1m-1 1h1m-1 9h1m-1 23h1m-1 8h1m0 -70h1m-1 1h1m-1 4h1m-1 14h1m-1 5h1m-1 1h1m-1 2h1m-1 2h1m-1 12h1m-1 9h1m-1 25h1m0 -113h1m-1 93h1m-1 4h1m0 -87h1m-1 1h1m-1 14h1m-1 35h1m-1 12h1m0 -71h1m-1 3h1m-1 1h1m-1 7h1m-1 6h1m-1 15h1m-1 1h1m-1 11h1m-1 33h1m-1 2h1m-1 3h1m0 -82h1m-1 13h1m-1 9h1m-1 6h1m-1 1h1m-1 6h1m-1 8h1m-1 2h1m-1 9h1m-1 3h1m-1 3h1m-1 2h1m-1 4h1m-1 6h1m-1 1h1m-1 2h1m-1 11h1m-1 3h1m-1 2h1m-1 52h1m0 -105h1m-1 2h1m-1 39h1m0 -86h1m-1 37h1m-1 2h1m-1 1h1m-1 7h1m-1 10h1m-1 4h1m-1 3h1m-1 1h1m-1 2h1m-1 3h1m-1 2h1m-1 3h1m-1 8h1m-1 3h1m0 -66h1m-1 13h1m-1 7h1m-1 15h1m-1 8h1m-1 14h1m-1 10h1m-1 3h1m0 -76h1m-1 6h1m-1 51h1m-1 1h1m-1 8h1m-1 5h1m-1 26h1m0 -97h1m-1 25h1m-1 13h1m-1 5h1m-1 3h1m-1 6h1m-1 3h1m-1 7h1m-1 2h1m-1 1h1m-1 16h1m-1 5h1m-1 15h1m0 -116h1m-1 2h1m-1 5h1m-1 1h1m-1 8h1m-1 14h1m-1 8h1m-1 8h1m-1 1h1m-1 6h1m-1 3h1m-1 7h1m-1 5h1m-1 3h1m-1 2h1m-1 1h1m-1 3h1m-1 3h1m-1 3h1m-1 1h1m-1 6h1m0 -54h1m-1 4h1m-1 1h1m-1 15h1m-1 10h1m-1 14h1m-1 22h1m-1 19h1m-1 5h1m0 -120h1m-1 8h1m-1 18h1m-1 24h1m-1 1h1m-1 5h1m-1 27h1m-1 20h1m-1 9h1m-1 1h1m0 -116h1m-1 10h1m-1 18h1m-1 45h1m-1 5h1m-1 62h1m0 -139h1m-1 2h1m-1 30h1m-1 9h1m-1 3h1m-1 5h1m-1 2h1m-1 1h1m-1 4h1m-1 15h1m-1 1h1m-1 20h1m-1 1h1m-1 5h1m0 -98h1m-1 21h1m-1 15h1m-1 6h1m-1 8h1m-1 4h1m-1 29h1m-1 25h1m0 -107h1m-1 23h1m-1 5h1m-1 4h1m-1 15h1m-1 1h1m-1 1h1m-1 2h1m-1 36h1m-1 2h1m-1 1h1m-1 2h1m-1 9h1m0 -93h1m-1 37h1m-1 3h1m-1 3h1m-1 18h1m-1 5h1m-1 4h1m-1 7h1m-1 3h1m-1 1h1m-1 6h1m0 -90h1m-1 16h1m-1 12h1m-1 5h1m-1 4h1m-1 2h1m-1 1h1m-1 4h1m-1 1h1m-1 1h1m-1 12h1m-1 11h1m-1 10h1m-1 1h1m-1 1h1m-1 2h1m-1 3h1m-1 5h1m-1 10h1m0 -101h1m-1 12h1m-1 4h1m-1 2h1m-1 9h1m-1 11h1m-1 1h1m-1 11h1m-1 8h1m-1 1h1m-1 3h1m-1 2h1m-1 6h1m-1 1h1m-1 3h1m-1 12h1m-1 5h1m-1 1h1m-1 2h1m0 -91h1m-1 4h1m-1 11h1m-1 5h1m-1 6h1m-1 1h1m-1 21h1m-1 8h1m-1 11h1m-1 11h1m-1 1h1m-1 2h1m-1 2h1m-1 1h1m-1 1h1m-1 29h1m0 -126h1m-1 5h1m-1 10h1m-1 16h1m-1 13h1m-1 7h1m-1 14h1m-1 6h1m-1 43h1m0 -108h1m-1 7h1m-1 8h1m-1 5h1m-1 4h1m-1 2h1m-1 12h1m-1 1h1m-1 7h1m-1 6h1m-1 1h1m-1 2h1m-1 3h1m-1 7h1m-1 3h1m-1 3h1m-1 7h1m-1 2h1m-1 24h1m-1 2h1m-1 2h1m-1 1h1m0 -103h1m-1 43h1m-1 4h1m0 -49h1m-1 1h1m-1 10h1m-1 23h1m-1 36h1m-1 13h1m0 -65h1m-1 5h1m-1 10h1m-1 1h1m-1 2h1m-1 1h1m-1 2h1m-1 9h1m-1 4h1m-1 1h1m-1 2h1m-1 1h1m-1 6h1m-1 2h1m-1 4h1m-1 5h1m-1 3h1m-1 4h1m-1 10h1m-1 17h1m0 -94h1m-1 8h1m-1 9h1m-1 2h1m-1 3h1m-1 2h1m-1 2h1m-1 1h1m-1 3h1m-1 5h1m-1 3h1m-1 1h1m-1 1h1m-1 1h1m-1 4h1m-1 2h1m-1 1h1m-1 4h1m-1 3h1m-1 1h1m-1 1h1m-1 2h1m-1 4h1m-1 3h1m-1 2h1m-1 3h1m-1 1h1m-1 1h1m-1 6h1m-1 3h1m0 -80h1m-1 17h1m-1 1h1m-1 10h1m-1 15h1m0 -23h1m-1 5h1m-1 3h1m-1 2h1m-1 15h1m-1 6h1m-1 1h1m-1 39h1m0 -82h1m-1 11h1m-1 27h1m-1 6h1m-1 22h1m-1 11h1m0 -87h1m-1 29h1m-1 18h1m-1 10h1m-1 7h1m-1 8h1m-1 27h1m0 -100h1m-1 37h1m-1 2h1m-1 20h1m-1 34h1m0 -84h1m-1 26h1m-1 23h1m-1 9h1m-1 1h1m-1 5h1m-1 9h1m0 -96h1m-1 146h1m0 -142h1m-1 4h1m-1 12h1m-1 6h1m-1 13h1m-1 40h1m0 -74h1m-1 5h1m-1 5h1m-1 2h1m-1 5h1m-1 15h1m-1 2h1m-1 1h1m-1 6h1m-1 17h1m-1 3h1m-1 7h1m-1 20h1m-1 12h1m0 -106h1m-1 18h1m-1 5h1m-1 11h1m-1 13h1m-1 3h1m-1 4h1m-1 2h1m-1 2h1m-1 6h1m-1 6h1m-1 8h1m-1 3h1m-1 10h1m-1 22h1m0 -116h1m-1 15h1m-1 27h1m-1 6h1m-1 5h1m-1 3h1m-1 10h1m-1 2h1m-1 2h1m-1 2h1m-1 11h1m-1 5h1m-1 2h1m-1 7h1m0 -95h1m-1 1h1m-1 12h1m-1 5h1m-1 5h1m-1 3h1m-1 1h1m-1 2h1m-1 10h1m-1 2h1m-1 1h1m-1 3h1m-1 4h1m-1 3h1m-1 12h1m-1 2h1m-1 2h1m-1 1h1m-1 3h1m-1 17h1m-1 13h1m-1 1h1m-1 3h1m-1 3h1m0 -73h1m-1 17h1m-1 1h1m0 2h1m-1 7h1m0 -31h1m-1 8h1m-1 4h1m-1 3h1m-1 10h1m-1 20h1m-1 15h1m0 -56h1m-1 25h1m-1 1h1m-1 3h1m-1 3h1m-1 8h1m-1 7h1m0 -30h1m-1 18h1m-1 4h1m0 -59h1m-1 9h1m-1 13h1m-1 2h1m-1 8h1m-1 23h1m-1 9h1m-1 2h1m-1 1h1m-1 5h1m-1 8h1m0 -58h1m-1 18h1m-1 59h1m0 -87h1m-1 17h1m-1 2h1m-1 3h1m-1 3h1m-1 7h1m-1 4h1m-1 1h1m-1 2h1m-1 6h1m-1 1h1m-1 2h1m-1 1h1m0 -69h1m-1 6h1m-1 31h1m-1 15h1m-1 2h1m-1 29h1m0 -47h1m-1 1h1m-1 11h1m-1 1h1m-1 6h1m-1 17h1m0 -41h1m-1 4h1m-1 7h1m-1 21h1m-1 3h1m-1 7h1m-1 45h1m0 -95h1m-1 18h1m-1 19h1m-1 3h1m-1 6h1m-1 11h1m-1 2h1m-1 32h1m0 -90h1m-1 22h1m-1 29h1m-1 9h1m0 -69h1m-1 1h1m-1 13h1m-1 1h1m-1 10h1m-1 24h1m-1 14h1m-1 13h1m-1 5h1m-1 7h1m-1 10h1m-1 19h1m0 -118h1m-1 6h1m-1 2h1m-1 13h1m-1 2h1m-1 2h1m-1 8h1m-1 6h1m-1 2h1m-1 2h1m-1 18h1m-1 7h1m-1 7h1m-1 21h1m0 -115h1m-1 6h1m-1 5h1m-1 2h1m-1 3h1m-1 9h1m-1 1h1m-1 6h1m-1 3h1m-1 3h1m-1 1h1m-1 3h1m-1 1h1m-1 1h1m-1 3h1m-1 3h1m-1 1h1m-1 2h1m-1 2h1m-1 2h1m-1 5h1m-1 3h1m-1 2h1m-1 1h1m-1 2h1m-1 2h1m-1 2h1m-1 3h1m-1 6h1m-1 3h1m-1 9h1m-1 2h1m-1 7h1m-1 19h1m0 -101h1m-1 7h1m-1 12h1m-1 8h1m-1 3h1m-1 18h1m-1 1h1m0 -39h1m-1 12h1m-1 3h1m-1 26h1m-1 17h1m0 -77h1m-1 3h1m-1 34h1m-1 8h1m-1 4h1m-1 23h1m-1 5h1m-1 3h1m0 -83h1m-1 9h1m-1 17h1m-1 2h1m-1 6h1m-1 5h1m-1 2h1m-1 8h1m-1 8h1m-1 2h1m-1 2h1m0 -68h1m-1 55h1m-1 6h1m-1 9h1m-1 1h1m-1 1h1m-1 2h1m0 -48h1m-1 7h1m-1 1h1m-1 1h1m-1 32h1m-1 16h1m-1 3h1m-1 19h1m0 -33h1m-1 5h1m-1 3h1m0 -58h1m-1 6h1m-1 11h1m-1 27h1m-1 15h1m-1 1h1m-1 5h1m0 -87h1m-1 10h1m-1 9h1m-1 12h1m-1 3h1m-1 3h1m-1 4h1m-1 16h1m-1 2h1m-1 8h1m-1 19h1m-1 4h1m0 -49h1m-1 2h1m-1 4h1m-1 9h1m-1 7h1m-1 8h1m-1 2h1m-1 2h1m-1 5h1m-1 7h1m-1 8h1m-1 29h1m0 -104h1m-1 24h1m-1 22h1m-1 1h1m-1 1h1m-1 18h1m0 -86h1m-1 4h1m-1 15h1m-1 4h1m-1 3h1m-1 10h1m-1 10h1m-1 3h1m-1 1h1m-1 4h1m-1 6h1m-1 3h1m-1 7h1m-1 2h1m-1 8h1m-1 13h1m0 -85h1m-1 9h1m-1 2h1m-1 5h1m-1 2h1m-1 16h1m-1 5h1m-1 59h1m0 -104h1m-1 4h1m-1 21h1m-1 5h1m-1 1h1m-1 5h1m-1 4h1m-1 19h1m-1 6h1m-1 2h1m-1 4h1m-1 4h1m-1 9h1m-1 21h1m0 -94h1m-1 38h1m-1 14h1m-1 9h1m0 -10h1m-1 13h1m0 -63h1m-1 11h1m-1 18h1m-1 1h1m-1 6h1m-1 4h1m-1 2h1m-1 5h1m0 -42h1m-1 13h1m-1 9h1m-1 1h1m-1 2h1m-1 1h1m-1 4h1m-1 2h1m-1 1h1m-1 2h1m-1 9h1m-1 9h1m-1 1h1m-1 18h1m-1 5h1m-1 1h1m0 -67h1m-1 3h1m-1 1h1m-1 2h1m-1 3h1m-1 1h1m-1 11h1m-1 3h1m-1 10h1m-1 1h1m-1 11h1m0 -64h1m-1 4h1m-1 1h1m-1 3h1m-1 7h1m-1 15h1m-1 5h1m-1 2h1m-1 3h1m-1 2h1m-1 2h1m-1 8h1m-1 1h1m-1 4h1m-1 3h1m-1 1h1m0 -37h1m-1 6h1m-1 2h1m-1 6h1m-1 11h1m-1 6h1m0 -56h1m-1 9h1m-1 10h1m-1 3h1m-1 5h1m-1 1h1m-1 1h1m-1 8h1m-1 4h1m-1 2h1m-1 1h1m-1 1h1m-1 1h1m-1 2h1m-1 2h1m-1 27h1m-1 1h1m-1 1h1m-1 3h1m0 -89h1m-1 10h1m-1 14h1m-1 23h1m-1 1h1m-1 11h1m-1 1h1m-1 4h1m0 -46h1m-1 3h1m-1 11h1m-1 4h1m-1 4h1m-1 2h1m-1 4h1m-1 1h1m-1 2h1m-1 3h1m-1 2h1m-1 1h1m-1 18h1m0 -78h1m-1 36h1m-1 1h1m-1 6h1m-1 2h1m-1 12h1m-1 6h1m0 -52h1m-1 14h1m-1 9h1m-1 1h1m-1 8h1m-1 3h1m-1 5h1m-1 7h1m-1 5h1m-1 1h1m-1 5h1m-1 1h1m-1 3h1m-1 5h1m-1 15h1m0 -88h1m-1 1h1m-1 24h1m-1 1h1m-1 5h1m-1 5h1m-1 1h1m-1 2h1m-1 3h1m-1 3h1m-1 16h1m-1 8h1m-1 5h1m-1 6h1m0 -76h1m-1 4h1m-1 14h1m-1 3h1m-1 1h1m-1 3h1m-1 3h1m-1 3h1m-1 1h1m-1 1h1m-1 1h1m-1 1h1m-1 1h1m-1 4h1m-1 7h1m-1 2h1m-1 1h1m-1 1h1m-1 3h1m-1 2h1m-1 1h1m-1 1h1m-1 7h1m-1 1h1m-1 3h1m-1 7h1m-1 5h1m0 -69h1m-1 6h1m-1 5h1m-1 24h1m-1 4h1m0 -41h1m-1 1h1m-1 10h1m-1 6h1m-1 20h1m-1 7h1m-1 17h1m-1 14h1m0 -50h1m-1 11h1m-1 1h1m-1 39h1m0 -75h1m-1 21h1m-1 8h1m-1 10h1m-1 12h1m-1 5h1m-1 11h1m0 -47h1m-1 18h1m0 -48h1m-1 20h1m-1 29h1m0 -43h1m-1 7h1m-1 2h1m-1 1h1m-1 7h1m-1 10h1m-1 1h1m-1 4h1m-1 2h1m-1 5h1m-1 16h1m-1 2h1m-1 1h1m-1 35h1m0 -106h1m-1 5h1m-1 8h1m-1 1h1m-1 2h1m-1 4h1m-1 1h1m-1 4h1m-1 3h1m-1 5h1m-1 5h1m-1 5h1m-1 1h1m-1 14h1m-1 2h1m-1 11h1m-1 5h1m-1 3h1m-1 1h1m-1 1h1m-1 2h1m-1 17h1m0 -98h1m-1 5h1m-1 1h1m-1 1h1m-1 8h1m-1 6h1m-1 2h1m-1 18h1m-1 6h1m-1 2h1m-1 4h1m-1 11h1m-1 1h1m-1 3h1m-1 11h1m-1 10h1m0 -82h1m-1 5h1m-1 1h1m-1 11h1m-1 4h1m-1 2h1m-1 5h1m-1 4h1m-1 6h1m-1 3h1m-1 4h1m-1 1h1m-1 4h1m-1 7h1m-1 3h1m-1 2h1m-1 16h1m-1 2h1m0 -70h1m-1 44h1m-1 4h1m0 -11h1m0 -40h1m-1 18h1m-1 26h1m-1 4h1m-1 12h1m0 -18h1m-1 14h1m0 -21h1m-1 21h1m-1 61h1m0 -123h1m-1 39h1m-1 42h1m-1 25h1m0 -109h1m-1 24h1m-1 16h1m-1 6h1m-1 5h1m-1 3h1m-1 5h1m-1 3h1m-1 18h1m-1 6h1m0 -95h1m-1 13h1m-1 27h1m-1 7h1m-1 2h1m-1 13h1m-1 28h1m0 -56h1m-1 43h1m-1 3h1m-1 13h1m0 -77h1m-1 14h1m-1 25h1m-1 3h1m-1 3h1m-1 4h1m-1 13h1m-1 2h1m0 -79h1m-1 24h1m-1 7h1m-1 6h1m-1 13h1m-1 1h1m-1 11h1m-1 18h1m-1 1h1m0 -69h1m-1 5h1m-1 19h1m-1 1h1m-1 13h1m-1 6h1m-1 7h1m-1 5h1m-1 15h1m0 -69h1m-1 51h1m-1 4h1m-1 1h1m0 -45h1m-1 2h1m-1 17h1m-1 4h1m-1 10h1m-1 3h1m-1 5h1m-1 5h1m0 -55h1m-1 9h1m-1 5h1m-1 17h1m-1 15h1m-1 2h1m-1 5h1m-1 3h1m-1 9h1m0 -82h1m-1 26h1m-1 23h1m-1 4h1m-1 17h1m-1 5h1m-1 4h1m-1 9h1m0 -77h1m-1 33h1m0 -39h1m-1 5h1m-1 52h1m-1 15h1m-1 3h1m-1 30h1m0 -91h1m-1 10h1m-1 4h1m-1 3h1m-1 13h1m-1 1h1m-1 15h1m-1 8h1m-1 5h1m-1 2h1m-1 15h1m-1 1h1m-1 1h1m-1 9h1m0 -121h1m-1 1h1m-1 6h1m-1 4h1m-1 23h1m-1 3h1m-1 5h1m-1 5h1m-1 2h1m-1 11h1m-1 12h1m-1 9h1m-1 3h1m-1 14h1m-1 4h1m-1 3h1m-1 1h1m-1 5h1m-1 2h1m-1 2h1m0 -89h1m-1 6h1m-1 14h1m-1 3h1m-1 6h1m-1 1h1m-1 1h1m-1 3h1m-1 3h1m-1 2h1m-1 3h1m-1 3h1m-1 1h1m-1 5h1m-1 3h1m-1 1h1m-1 1h1m-1 2h1m-1 7h1m-1 1h1m-1 3h1m-1 2h1m-1 2h1m-1 17h1m-1 3h1m0 -121h1m-1 1h1m-1 5h1m-1 1h1m-1 1h1m-1 8h1m-1 1h1m-1 1h1m-1 4h1m-1 12h1m-1 3h1m-1 2h1m-1 3h1m-1 1h1m-1 5h1m-1 1h1m-1 2h1m-1 1h1m-1 2h1m-1 1h1m-1 2h1m-1 2h1m-1 3h1m-1 1h1m-1 3h1m-1 1h1m-1 1h1m-1 2h1m-1 2h1m-1 3h1m-1 1h1m-1 2h1m-1 1h1m-1 4h1m-1 1h1m-1 2h1m-1 1h1m-1 1h1m-1 1h1m-1 1h1m-1 4h1m-1 1h1m-1 3h1m-1 2h1m-1 1h1m-1 13h1m-1 1h1m-1 4h1m-1 2h1m0 -125h1m-1 3h1m-1 25h1m-1 1h1m-1 2h1m-1 11h1m-1 5h1m-1 3h1m-1 1h1m-1 8h1m-1 2h1m-1 1h1m-1 4h1m-1 1h1m-1 2h1m-1 1h1m-1 3h1m-1 2h1m-1 6h1m-1 1h1m-1 1h1m-1 2h1m-1 2h1m-1 3h1m-1 8h1m-1 5h1m-1 16h1m-1 8h1m0 -127h1m-1 2h1m-1 2h1m-1 13h1m-1 8h1m-1 10h1m-1 4h1m-1 2h1m-1 7h1m-1 1h1m-1 3h1m-1 6h1m-1 3h1m-1 6h1m-1 4h1m-1 2h1m-1 1h1m-1 2h1m-1 1h1m-1 8h1m-1 4h1m-1 3h1m0 -79h1m-1 89h1m-1 55h1m0 -94h1m-1 4h1m-1 28h1m-1 3h1m1 -55h1m-1 42h1m-1 12h1m-1 15h1m-1 2h1m0 -100h1m-1 41h1m-1 2h1m-1 9h1m-1 10h1m-1 4h1m-1 4h1m-1 1h1m-1 75h1m0 -150h1m-1 9h1m-1 4h1m-1 1h1m-1 14h1m-1 6h1m-1 3h1m-1 7h1m-1 9h1m-1 15h1m-1 8h1m-1 1h1m-1 8h1m-1 5h1m0 -42h1m-1 22h1m-1 1h1m-1 10h1m-1 2h1m-1 13h1m0 -71h1m-1 18h1m-1 6h1m-1 2h1m-1 2h1m-1 6h1m-1 4h1m-1 1h1m-1 3h1m-1 2h1m-1 4h1m-1 1h1m-1 1h1m-1 1h1m-1 2h1m-1 7h1m-1 2h1m-1 14h1m0 -94h1m-1 17h1m-1 39h1m-1 10h1m-1 7h1m-1 12h1m-1 5h1m-1 3h1m0 -85h1m-1 2h1m-1 3h1m-1 11h1m-1 11h1m-1 5h1m-1 4h1m-1 3h1m-1 2h1m-1 1h1m-1 1h1m-1 2h1m-1 2h1m-1 7h1m-1 2h1m-1 8h1m-1 2h1m-1 3h1m-1 5h1m-1 7h1m-1 2h1m0 -92h1m-1 4h1m-1 3h1m-1 21h1m-1 4h1m-1 1h1m-1 23h1m-1 21h1m-1 5h1m-1 9h1m0 -87h1m-1 12h1m-1 7h1m-1 17h1m-1 2h1m-1 1h1m-1 2h1m-1 1h1m-1 4h1m-1 3h1m-1 1h1m-1 1h1m-1 4h1m-1 3h1m-1 6h1m-1 10h1m-1 2h1m-1 4h1m-1 7h1m-1 25h1m0 -114h1m-1 9h1m-1 7h1m-1 6h1m-1 19h1m-1 17h1m-1 2h1m-1 4h1m-1 3h1m-1 13h1m-1 21h1m0 -95h1m-1 1h1m-1 7h1m-1 2h1m-1 1h1m-1 2h1m-1 1h1m-1 23h1m-1 2h1m-1 1h1m-1 3h1m-1 8h1m-1 7h1m-1 11h1m-1 11h1m-1 11h1m0 -77h1m-1 2h1m-1 6h1m-1 21h1m-1 9h1m-1 6h1m1 -7h1m0 11h1m-1 33h1m0 -94h1m-1 23h1m-1 32h1m-1 2h1m-1 13h1m-1 10h1m-1 2h1m0 -101h1m-1 15h1m-1 11h1m-1 8h1m-1 1h1m-1 3h1m-1 1h1m-1 13h1m-1 1h1m-1 8h1m-1 4h1m-1 1h1m-1 5h1m-1 1h1m-1 2h1m-1 1h1m-1 5h1m-1 1h1m-1 1h1m-1 9h1m-1 7h1m-1 1h1m-1 1h1m-1 1h1m-1 5h1m-1 4h1m-1 3h1m-1 3h1m0 -113h1m-1 40h1m-1 2h1m-1 43h1m-1 22h1m-1 2h1m0 -23h1m-1 16h1m-1 1h1m-1 8h1m0 -99h1m-1 37h1m-1 6h1m-1 5h1m-1 30h1m-1 11h1m-1 13h1m0 -100h1m-1 18h1m-1 2h1m-1 9h1m-1 6h1m-1 10h1m-1 16h1m-1 4h1m-1 9h1m-1 64h1m0 -130h1m-1 12h1m-1 10h1m-1 9h1m-1 25h1m-1 5h1m-1 1h1m0 -90h1m-1 19h1m-1 32h1m-1 20h1m-1 3h1m-1 1h1m-1 6h1m-1 21h1m-1 1h1m-1 2h1m-1 2h1m0 -17h1m-1 4h1m0 -77h1m-1 14h1m-1 23h1m-1 2h1m-1 5h1m-1 19h1m-1 23h1m-1 6h1m0 -69h1m-1 3h1m-1 2h1m-1 6h1m-1 15h1m-1 9h1m-1 17h1m0 -92h1m-1 3h1m-1 6h1m-1 2h1m-1 14h1m-1 1h1m-1 2h1m-1 9h1m-1 2h1m-1 2h1m-1 6h1m-1 6h1m-1 3h1m-1 2h1m-1 3h1m-1 1h1m-1 6h1m-1 4h1m-1 24h1m-1 3h1m-1 2h1m-1 15h1m-1 1h1m-1 41h1m0 -152h1m-1 12h1m-1 34h1m-1 30h1m-1 21h1m0 -97h1m-1 1h1m-1 21h1m-1 21h1m-1 2h1m-1 23h1m-1 12h1m-1 4h1m-1 3h1m-1 6h1m-1 17h1m-1 2h1m-1 9h1m-1 2h1m0 -110h1m-1 19h1m-1 8h1m-1 12h1m-1 4h1m-1 20h1m-1 2h1m-1 14h1m-1 1h1m-1 2h1m-1 11h1m0 -92h1m-1 1h1m-1 9h1m-1 1h1m-1 11h1m-1 1h1m-1 4h1m-1 4h1m-1 3h1m-1 3h1m-1 2h1m-1 1h1m-1 2h1m-1 2h1m-1 1h1m-1 1h1m-1 2h1m-1 1h1m-1 8h1m-1 3h1m-1 1h1m-1 5h1m-1 5h1m-1 2h1m-1 4h1m-1 5h1m-1 1h1m-1 5h1m-1 2h1m-1 3h1m-1 10h1m0 -118h1m-1 39h1m-1 23h1m-1 8h1m-1 16h1m-1 8h1m0 -44h1m-1 47h1m-1 5h1m-1 37h1m0 -111h1m-1 7h1m-1 3h1m-1 9h1m-1 3h1m-1 1h1m-1 10h1m-1 2h1m-1 8h1m-1 1h1m-1 2h1m-1 34h1m0 -99h1m-1 6h1m-1 6h1m-1 6h1m-1 2h1m-1 7h1m-1 3h1m-1 1h1m-1 9h1m-1 2h1m-1 4h1m-1 5h1m-1 4h1m-1 2h1m-1 2h1m-1 15h1m-1 8h1m-1 7h1m-1 13h1m-1 2h1m0 -105h1m-1 17h1m-1 17h1m-1 12h1m-1 3h1m-1 5h1m-1 4h1m-1 5h1m-1 10h1m-1 4h1m-1 15h1m-1 1h1m0 -95h1m-1 4h1m-1 4h1m-1 5h1m-1 2h1m-1 3h1m-1 10h1m-1 1h1m-1 2h1m-1 5h1m-1 1h1m-1 3h1m-1 4h1m-1 6h1m-1 7h1m-1 8h1m-1 5h1m-1 2h1m-1 1h1m-1 2h1m-1 1h1m-1 12h1m-1 25h1m-1 30h1m0 -147h1m-1 4h1m-1 37h1m-1 10h1m-1 5h1m-1 9h1m-1 11h1m-1 17h1m0 -95h1m-1 8h1m-1 3h1m-1 1h1m-1 3h1m-1 34h1m-1 4h1m-1 8h1m-1 11h1m-1 5h1m0 -72h1m-1 47h1m-1 14h1m-1 3h1m-1 1h1m-1 27h1m-1 17h1m0 -108h1m-1 19h1m-1 8h1m-1 5h1m-1 8h1m-1 4h1m-1 4h1m-1 11h1m-1 2h1m-1 19h1m-1 12h1m-1 2h1m-1 5h1m-1 5h1m-1 2h1m-1 4h1m-1 7h1m0 -122h1m-1 12h1m-1 29h1m-1 8h1m-1 11h1m-1 3h1m-1 54h1m-1 3h1m0 -111h1m-1 11h1m-1 16h1m-1 7h1m-1 5h1m-1 4h1m-1 1h1m-1 8h1m-1 9h1m-1 5h1m-1 1h1m-1 4h1m-1 5h1m-1 4h1m-1 6h1m-1 20h1m-1 19h1m0 -54h1m-1 5h1m-1 34h1m-1 24h1m0 -121h1m-1 1h1m-1 73h1m-1 11h1m0 -36h1m-1 33h1m0 -58h1m-1 51h1m0 -99h1m-1 15h1m-1 62h1m-1 4h1m1 -58h1m-1 1h1m-1 23h1m-1 24h1m-1 2h1m-1 1h1m-1 29h1m0 -88h1m-1 12h1m-1 5h1m-1 1h1m-1 28h1m-1 2h1m-1 3h1m-1 10h1m-1 23h1m-1 6h1m-1 2h1m-1 8h1m-1 4h1m-1 1h1m0 -115h1m-1 55h1m-1 7h1m-1 5h1m-1 11h1m-1 7h1m0 -66h1m-1 29h1m-1 13h1m-1 5h1m-1 11h1m-1 3h1m-1 55h1m0 -96h1m-1 8h1m-1 13h1m-1 21h1m0 -78h1m-1 2h1m-1 25h1m-1 24h1m-1 5h1m-1 15h1m-1 9h1m-1 16h1m-1 3h1m0 -90h1m-1 42h1m-1 10h1m-1 47h1m0 -104h1m-1 3h1m-1 14h1m-1 12h1m-1 12h1m-1 25h1m-1 1h1m-1 3h1m-1 51h1m0 -95h1m-1 6h1m-1 2h1m-1 25h1m-1 17h1m-1 7h1m-1 31h1m-1 25h1m0 -132h1m-1 5h1m-1 14h1m-1 53h1m-1 1h1m-1 4h1m1 -89h1m-1 24h1m-1 8h1m-1 4h1m-1 17h1m-1 1h1m-1 2h1m-1 3h1m-1 4h1m-1 2h1m-1 2h1m-1 1h1m-1 28h1m-1 5h1m-1 32h1m0 -104h1m-1 2h1m-1 24h1m-1 2h1m-1 10h1m-1 25h1m-1 5h1m-1 13h1m0 -88h1m-1 21h1m-1 5h1m-1 2h1m-1 8h1m-1 7h1m-1 3h1m-1 2h1m-1 17h1m-1 14h1m-1 1h1m-1 5h1m-1 3h1m-1 7h1m-1 28h1m0 -152h1m-1 32h1m-1 25h1m-1 6h1m-1 1h1m-1 4h1m-1 23h1m-1 17h1m-1 28h1m0 -96h1m-1 5h1m-1 14h1m-1 1h1m-1 3h1m-1 7h1m-1 5h1m-1 6h1m-1 2h1m-1 1h1m-1 10h1m-1 5h1m-1 10h1m-1 5h1m-1 17h1m-1 2h1m0 -100h1m-1 4h1m-1 14h1m-1 13h1m-1 2h1m-1 3h1m-1 17h1m-1 5h1m-1 11h1m-1 8h1m0 -109h1m-1 20h1m-1 28h1m-1 11h1m-1 2h1m-1 10h1m-1 10h1m-1 4h1m-1 3h1m-1 24h1m0 -72h1m-1 21h1m-1 7h1m-1 2h1m-1 30h1m0 -67h1m-1 47h1m-1 18h1m0 -64h1m-1 47h1m-1 42h1m0 -73h1m-1 3h1m-1 18h1m0 -44h1m-1 3h1m-1 4h1m-1 5h1m-1 27h1m-1 15h1m-1 11h1m-1 3h1m-1 9h1m-1 6h1m-1 7h1m-1 1h1m-1 12h1m-1 6h1m0 -119h1m-1 2h1m-1 2h1m-1 1h1m-1 21h1m-1 6h1m-1 8h1m-1 3h1m-1 1h1m-1 3h1m-1 1h1m-1 6h1m-1 12h1m-1 1h1m-1 4h1m-1 3h1m-1 8h1m-1 1h1m-1 9h1m0 -106h1m-1 46h1m-1 2h1m-1 10h1m-1 5h1m-1 17h1m-1 12h1m-1 10h1m-1 5h1m0 -81h1m-1 4h1m-1 10h1m-1 4h1m-1 6h1m-1 2h1m-1 17h1m-1 14h1m0 17h1m0 -5h1m0 -79h1m-1 4h1m-1 12h1m-1 8h1m-1 3h1m-1 1h1m-1 7h1m-1 2h1m-1 5h1m-1 3h1m-1 13h1m-1 5h1m-1 4h1m-1 1h1m-1 7h1m-1 5h1m-1 11h1m-1 18h1m0 -112h1m-1 8h1m-1 4h1m-1 2h1m-1 7h1m-1 7h1m-1 3h1m-1 3h1m-1 9h1m-1 5h1m-1 8h1m-1 8h1m-1 8h1m-1 2h1m-1 9h1m-1 8h1m-1 6h1m-1 1h1m-1 8h1m0 -112h1m-1 15h1m-1 8h1m-1 7h1m-1 6h1m-1 4h1m-1 6h1m-1 2h1m-1 6h1m-1 2h1m-1 1h1m-1 1h1m-1 4h1m-1 3h1m-1 7h1m-1 3h1m-1 9h1m-1 12h1m-1 1h1m-1 30h1m0 -119h1m-1 5h1m-1 1h1m-1 1h1m-1 5h1m-1 4h1m-1 2h1m-1 10h1m-1 2h1m-1 6h1m-1 5h1m-1 9h1m-1 2h1m-1 1h1m-1 7h1m-1 8h1m-1 2h1m-1 4h1m-1 3h1m-1 3h1m-1 1h1m-1 12h1m-1 1h1m-1 7h1m-1 9h1m0 -57h1m0 8h1m-1 7h1m-1 6h1m0 -73h1m-1 28h1m-1 3h1m-1 33h1m-1 16h1m-1 1h1m-1 19h1m0 -39h1m0 -20h1m-1 47h1m0 -1h1m-1 5h1m-1 9h1m0 -121h1m-1 30h1m-1 18h1m-1 5h1m-1 5h1m-1 19h1m-1 2h1m-1 2h1m-1 26h1m-1 2h1m-1 11h1m0 -99h1m-1 8h1m-1 10h1m-1 6h1m-1 1h1m-1 1h1m-1 5h1m-1 6h1m-1 8h1m-1 2h1m-1 2h1m-1 3h1m-1 3h1m-1 9h1m-1 1h1m-1 2h1m-1 15h1m-1 3h1m-1 2h1m-1 1h1m-1 1h1m-1 4h1m-1 2h1m-1 4h1m-1 8h1m0 -109h1m-1 11h1m-1 20h1m-1 3h1m-1 2h1m-1 1h1m-1 20h1m-1 20h1m-1 2h1m-1 3h1m-1 3h1m-1 2h1m-1 3h1m-1 10h1m-1 1h1m-1 25h1m0 -146h1m-1 4h1m-1 4h1m-1 21h1m-1 6h1m-1 13h1m-1 4h1m-1 6h1m-1 3h1m-1 1h1m-1 2h1m-1 3h1m-1 1h1m-1 1h1m-1 2h1m-1 2h1m-1 12h1m-1 2h1m-1 4h1m-1 15h1m-1 2h1m-1 3h1m-1 5h1m-1 2h1m-1 6h1m-1 2h1m-1 3h1m0 -79h1m-1 30h1m-1 6h1m-1 27h1m-1 22h1m0 -119h1m-1 18h1m-1 7h1m-1 5h1m-1 7h1m-1 2h1m-1 10h1m-1 2h1m-1 2h1m-1 5h1m-1 7h1m-1 5h1m-1 4h1m-1 3h1m-1 2h1m-1 6h1m-1 11h1m-1 5h1m-1 24h1m0 -108h1m-1 8h1m-1 20h1m-1 5h1m-1 36h1m-1 1h1m-1 27h1m0 -121h1m-1 3h1m-1 24h1m-1 40h1m-1 19h1m0 -84h1m-1 55h1m-1 4h1m0 -26h1m-1 12h1m-1 17h1m-1 2h1m-1 4h1m-1 45h1m0 -71h1m0 -10h1m-1 11h1m-1 26h1m-1 39h1m0 -47h1m-1 41h1m0 -83h1m-1 32h1m-1 35h1m0 -8h1m-1 17h1m0 -74h1m-1 58h1m-1 18h1m-1 9h1m-1 34h1m0 -116h1m-1 31h1m-1 14h1m-1 20h1m-1 1h1m-1 2h1m-1 4h1m-1 19h1m0 -132h1m-1 2h1m-1 3h1m-1 8h1m-1 10h1m-1 24h1m-1 4h1m-1 5h1m-1 2h1m-1 13h1m-1 2h1m-1 18h1m-1 2h1m-1 11h1m-1 2h1m-1 24h1m-1 5h1m0 -120h1m-1 27h1m-1 14h1m-1 4h1m-1 18h1m-1 1h1m-1 22h1m-1 2h1m-1 11h1m0 -103h1m-1 29h1m-1 6h1m-1 1h1m-1 5h1m-1 7h1m-1 9h1m-1 3h1m-1 2h1m-1 3h1m-1 1h1m-1 14h1m-1 4h1m-1 13h1m-1 4h1m-1 6h1m-1 4h1m0 -112h1m-1 24h1m-1 11h1m-1 5h1m-1 6h1m-1 3h1m-1 2h1m-1 3h1m-1 5h1m-1 9h1m-1 19h1m-1 19h1m-1 8h1m0 -66h1m-1 6h1m-1 3h1m-1 2h1m-1 1h1m-1 1h1m-1 2h1m-1 2h1m-1 15h1m-1 1h1m-1 5h1m-1 8h1m-1 16h1m-1 2h1m-1 9h1m0 -108h1m-1 19h1m-1 12h1m-1 14h1m-1 33h1m-1 11h1m-1 1h1m0 -82h1m-1 6h1m-1 1h1m-1 7h1m-1 4h1m-1 3h1m-1 2h1m-1 4h1m-1 15h1m-1 30h1m-1 8h1m-1 22h1m0 -126h1m-1 47h1m-1 6h1m-1 16h1m-1 5h1m-1 3h1m-1 5h1m-1 4h1m-1 4h1m0 -80h1m-1 18h1m-1 36h1m-1 1h1m-1 13h1m-1 14h1m-1 12h1m-1 46h1m0 -121h1m-1 29h1m-1 2h1m-1 6h1m-1 19h1m-1 12h1m-1 2h1m-1 2h1m-1 35h1m0 -105h1m-1 2h1m-1 46h1m-1 3h1m-1 2h1m-1 9h1m0 -76h1m-1 4h1m-1 35h1m-1 14h1m-1 25h1m-1 1h1m0 -77h1m-1 4h1m-1 18h1m-1 11h1m-1 5h1m-1 6h1m-1 9h1m-1 4h1m-1 11h1m-1 3h1m-1 26h1m-1 24h1m0 -137h1m-1 11h1m-1 5h1m-1 33h1m-1 5h1m-1 1h1m-1 16h1m-1 3h1m-1 9h1m-1 2h1m-1 20h1m-1 7h1m0 -95h1m-1 19h1m-1 3h1m-1 16h1m-1 5h1m-1 31h1m-1 7h1m-1 7h1m-1 9h1m-1 7h1m-1 8h1m0 -96h1m-1 12h1m-1 15h1m-1 9h1m-1 2h1m-1 7h1m-1 7h1m-1 10h1m-1 6h1m-1 16h1m-1 9h1m0 -86h1m-1 20h1m-1 6h1m-1 4h1m-1 19h1m-1 1h1m-1 8h1m-1 3h1m-1 6h1m-1 5h1m-1 10h1m-1 9h1m-1 16h1m0 -133h1m-1 1h1m-1 16h1m-1 14h1m-1 1h1m-1 8h1m-1 16h1m-1 1h1m-1 7h1m-1 4h1m-1 6h1m-1 1h1m-1 8h1m-1 3h1m-1 2h1m-1 5h1m-1 6h1m0 -100h1m-1 1h1m-1 8h1m-1 3h1m-1 8h1m-1 4h1m-1 6h1m-1 2h1m-1 2h1m-1 6h1m-1 3h1m-1 28h1m-1 8h1m-1 15h1m-1 5h1m-1 4h1m-1 3h1m0 -104h1m-1 31h1m-1 40h1m-1 37h1m0 -39h1m-1 8h1m-1 11h1m0 -101h1m-1 81h1m0 -12h1m-1 7h1m-1 3h1m0 -70h1m-1 7h1m-1 55h1m-1 21h1m0 -84h1m-1 92h1m-1 7h1m0 -2h1m0 -80h1m-1 6h1m-1 19h1m-1 2h1m-1 3h1m-1 50h1m0 -95h1m-1 15h1m-1 3h1m-1 1h1m-1 5h1m-1 3h1m-1 4h1m-1 8h1m-1 12h1m-1 1h1m-1 1h1m-1 1h1m-1 28h1m-1 4h1m-1 6h1m-1 3h1m-1 7h1m-1 2h1m0 -101h1m-1 1h1m-1 8h1m-1 12h1m-1 3h1m-1 2h1m-1 4h1m-1 4h1m-1 4h1m-1 7h1m-1 6h1m-1 9h1m-1 2h1m-1 2h1m-1 3h1m-1 4h1m-1 11h1m-1 14h1m-1 6h1m0 -111h1m-1 7h1m-1 14h1m-1 24h1m-1 1h1m-1 14h1m-1 4h1m-1 10h1m-1 1h1m-1 2h1m-1 5h1m-1 7h1m-1 1h1m-1 5h1m-1 6h1m-1 13h1m0 -107h1m-1 3h1m-1 3h1m-1 11h1m-1 10h1m-1 2h1m-1 2h1m-1 3h1m-1 2h1m-1 3h1m-1 1h1m-1 11h1m-1 3h1m-1 1h1m-1 2h1m-1 5h1m-1 1h1m-1 1h1m-1 7h1m-1 18h1m-1 2h1m-1 1h1m-1 20h1m0 -106h1m-1 19h1m-1 3h1m-1 12h1m-1 17h1m-1 3h1m-1 4h1m-1 2h1m-1 4h1m-1 31h1m-1 15h1m0 -123h1m-1 17h1m-1 26h1m-1 3h1m-1 18h1m-1 22h1m-1 12h1m0 -100h1m-1 45h1m-1 66h1m0 -126h1m-1 51h1m-1 1h1m-1 43h1m-1 1h1m-1 10h1m0 -27h1m-1 5h1m-1 41h1m0 -108h1m-1 47h1m-1 3h1m0 -68h1m-1 38h1m-1 14h1m-1 5h1m-1 22h1m-1 10h1m-1 13h1m0 -91h1m-1 9h1m-1 32h1m-1 1h1m-1 13h1m-1 10h1m-1 10h1m-1 7h1m-1 8h1m-1 27h1m-1 9h1m0 -101h1m-1 13h1m-1 10h1m-1 13h1m-1 6h1m-1 2h1m-1 26h1m-1 10h1m-1 16h1m0 -67h1m-1 6h1m-1 6h1m-1 10h1m-1 3h1m-1 2h1m-1 22h1m0 -89h1m-1 47h1m-1 10h1m-1 7h1m-1 5h1m-1 1h1m0 -76h1m-1 33h1m-1 3h1m-1 11h1m-1 4h1m-1 4h1m-1 20h1m-1 19h1m-1 3h1m-1 3h1m0 -57h1m-1 11h1m-1 42h1m-1 10h1m0 -90h1m-1 58h1m0 -74h1m-1 12h1m-1 44h1m-1 26h1m0 -60h1m-1 31h1m-1 9h1m-1 1h1m-1 10h1m-1 8h1m-1 4h1m-1 2h1m-1 9h1m-1 9h1m-1 2h1m0 -106h1m-1 5h1m-1 2h1m-1 23h1m-1 4h1m-1 2h1m-1 6h1m-1 8h1m-1 19h1m-1 10h1m-1 30h1m-1 8h1m0 -123h1m-1 3h1m-1 15h1m-1 3h1m-1 2h1m-1 3h1m-1 3h1m-1 3h1m-1 2h1m-1 1h1m-1 6h1m-1 3h1m-1 3h1m-1 37h1m-1 4h1m-1 1h1m-1 13h1m-1 4h1m-1 12h1m0 -115h1m-1 1h1m-1 17h1m-1 5h1m-1 8h1m-1 14h1m-1 13h1m-1 3h1m-1 1h1m-1 9h1m-1 5h1m-1 2h1m-1 1h1m-1 3h1m-1 9h1m-1 12h1m-1 1h1m0 -86h1m-1 1h1m-1 1h1m-1 2h1m-1 5h1m-1 4h1m-1 1h1m-1 1h1m-1 15h1m-1 2h1m-1 1h1m-1 5h1m-1 3h1m-1 6h1m-1 14h1m-1 2h1m-1 11h1m-1 5h1m0 -98h1m-1 32h1m-1 6h1m-1 22h1m-1 8h1m-1 25h1m-1 24h1m0 -42h1m-1 8h1m-1 9h1m0 -100h1m-1 7h1m-1 24h1m-1 4h1m-1 72h1m-1 4h1m-1 10h1m0 -89h1m-1 20h1m-1 6h1m-1 10h1m-1 15h1m-1 8h1m-1 19h1m-1 4h1m-1 21h1m-1 20h1m0 -149h1m-1 41h1m-1 22h1m-1 15h1m-1 6h1m-1 4h1m-1 10h1m0 -102h1m-1 3h1m-1 1h1m-1 26h1m-1 18h1m-1 26h1m-1 8h1m-1 9h1m-1 23h1m0 -120h1m-1 27h1m-1 6h1m-1 3h1m-1 20h1m-1 7h1m-1 2h1m-1 45h1m-1 4h1m-1 18h1m0 -123h1m-1 9h1m-1 33h1m-1 3h1m-1 2h1m-1 3h1m-1 3h1m-1 12h1m-1 5h1m-1 7h1m-1 1h1m-1 16h1m-1 5h1m0 -105h1m-1 10h1m-1 1h1m-1 12h1m-1 6h1m-1 2h1m-1 5h1m-1 4h1m-1 2h1m-1 2h1m-1 2h1m-1 6h1m-1 6h1m-1 1h1m-1 2h1m-1 7h1m-1 1h1m-1 5h1m-1 1h1m-1 2h1m-1 9h1m-1 4h1m-1 1h1m-1 16h1m-1 9h1m-1 9h1m-1 8h1m-1 7h1m0 -149h1m-1 4h1m-1 1h1m-1 9h1m-1 1h1m-1 1h1m-1 2h1m-1 1h1m-1 1h1m-1 2h1m-1 2h1m-1 1h1m-1 1h1m-1 3h1m-1 7h1m-1 4h1m-1 8h1m-1 1h1m-1 4h1m-1 2h1m-1 1h1m-1 1h1m-1 2h1m-1 2h1m-1 6h1m-1 1h1m-1 1h1m-1 1h1m-1 1h1m-1 3h1m-1 3h1m-1 1h1m-1 3h1m-1 2h1m-1 1h1m-1 3h1m-1 1h1m-1 3h1m-1 4h1m-1 3h1m-1 2h1m-1 3h1m-1 7h1m-1 1h1m-1 3h1m-1 4h1m-1 2h1m-1 1h1m-1 1h1m-1 6h1m-1 2h1m-1 1h1m-1 5h1m-1 4h1m-1 2h1m-1 2h1m-1 4h1m0 -128h1m-1 23h1m-1 44h1m-1 30h1m-1 12h1m-1 2h1m0 -89h1m-1 59h1m-1 36h1m-1 3h1m0 -110h1m-1 2h1m-1 50h1m-1 7h1m-1 14h1m-1 2h1m-1 6h1m-1 4h1m-1 19h1m-1 11h1m0 -129h1m-1 9h1m-1 1h1m-1 4h1m-1 3h1m-1 18h1m-1 13h1m-1 2h1m-1 3h1m-1 4h1m-1 1h1m-1 8h1m-1 3h1m-1 4h1m-1 2h1m-1 2h1m-1 4h1m-1 8h1m-1 2h1m-1 4h1m-1 2h1m-1 5h1m-1 10h1m-1 4h1m-1 5h1m0 -89h1m-1 1h1m-1 12h1m-1 30h1m-1 1h1m-1 1h1m-1 20h1m-1 5h1m-1 10h1m0 -96h1m-1 1h1m-1 6h1m-1 5h1m-1 3h1m-1 5h1m-1 10h1m-1 3h1m-1 8h1m-1 5h1m-1 6h1m-1 11h1m-1 7h1m-1 4h1m-1 2h1m-1 1h1m-1 29h1m0 -89h1m-1 6h1m-1 14h1m-1 24h1m-1 16h1m-1 57h1m1 -17h1m-1 4h1m-1 2h1m0 -66h1m0 -49h1m-1 11h1m-1 17h1m-1 24h1m-1 39h1m-1 15h1m0 -125h1m-1 20h1m-1 16h1m-1 8h1m-1 3h1m-1 1h1m-1 8h1m-1 3h1m-1 12h1m-1 11h1m-1 2h1m-1 1h1m-1 4h1m-1 21h1m-1 22h1m0 -84h1m-1 8h1m-1 26h1m-1 5h1m-1 44h1m0 -121h1m-1 9h1m-1 10h1m-1 1h1m-1 21h1m-1 3h1m-1 5h1m-1 1h1m-1 4h1m-1 8h1m-1 3h1m-1 2h1m-1 11h1m-1 11h1m-1 4h1m-1 1h1m-1 34h1m0 -102h1m-1 15h1m-1 30h1m0 -74h1m-1 7h1m-1 21h1m-1 17h1m0 -29h1m-1 1h1m-1 5h1m-1 2h1m-1 13h1m-1 7h1m-1 8h1m-1 3h1m-1 8h1m-1 6h1m-1 1h1m-1 7h1m-1 2h1m-1 4h1m0 -49h1m-1 1h1m-1 1h1m-1 2h1m-1 2h1m-1 5h1m-1 15h1m-1 7h1m-1 3h1m-1 2h1m-1 6h1m-1 1h1m-1 10h1m-1 9h1m-1 23h1m0 -96h1m-1 5h1m-1 5h1m-1 12h1m-1 1h1m-1 24h1m-1 5h1m-1 3h1m-1 12h1m-1 2h1m-1 27h1m0 -113h1m-1 4h1m-1 14h1m-1 1h1m-1 4h1m-1 4h1m-1 4h1m-1 8h1m-1 11h1m-1 3h1m-1 6h1m-1 1h1m-1 2h1m-1 2h1m-1 8h1m-1 5h1m-1 3h1m-1 7h1m-1 4h1m-1 14h1m0 -123h1m-1 57h1m-1 22h1m-1 2h1m0 -51h1m-1 27h1m-1 1h1m-1 3h1m-1 14h1m0 -45h1m0 -9h1m-1 11h1m-1 14h1m-1 7h1m-1 38h1m-1 2h1m-1 8h1m-1 24h1m-1 7h1m0 -112h1m-1 22h1m-1 11h1m-1 6h1m-1 11h1m-1 44h1m0 -77h1m-1 67h1m-1 2h1m0 -88h1m-1 15h1m-1 2h1m-1 45h1m-1 22h1m0 -80h1m-1 24h1m-1 47h1m0 -80h1m-1 46h1m-1 9h1m-1 2h1m0 -24h1m-1 4h1m-1 21h1m-1 3h1m-1 1h1m-1 35h1m0 -90h1m-1 16h1m-1 16h1m-1 21h1m-1 6h1m-1 1h1m-1 7h1m-1 12h1m0 -69h1m-1 8h1m-1 9h1m-1 2h1m-1 7h1m-1 19h1m-1 5h1m-1 8h1m-1 3h1m-1 1h1m-1 6h1m-1 3h1m-1 31h1m-1 1h1m0 -108h1m-1 13h1m-1 7h1m-1 19h1m-1 13h1m-1 12h1m-1 45h1m0 -99h1m-1 12h1m-1 9h1m-1 2h1m-1 1h1m-1 5h1m-1 7h1m-1 5h1m-1 2h1m-1 12h1m-1 27h1m-1 13h1m-1 2h1m-1 6h1m0 -117h1m-1 8h1m-1 9h1m-1 5h1m-1 5h1m-1 1h1m-1 7h1m-1 3h1m-1 20h1m-1 57h1m-1 4h1m0 -123h1m-1 1h1m-1 13h1m-1 8h1m-1 11h1m-1 1h1m-1 2h1m-1 15h1m-1 1h1m-1 14h1m-1 4h1m-1 2h1m-1 2h1m-1 22h1m-1 2h1m-1 8h1m-1 19h1m-1 1h1m0 -104h1m0 -16h1m-1 6h1m-1 36h1m-1 48h1m-1 36h1m0 -114h1m-1 4h1m-1 4h1m-1 12h1m-1 10h1m-1 18h1m0 -84h1m-1 3h1m-1 35h1m-1 2h1m-1 4h1m-1 22h1m-1 16h1m0 -8h1m-1 2h1m0 -62h1m-1 26h1m-1 2h1m-1 5h1m-1 8h1m-1 40h1m-1 10h1m-1 11h1m-1 3h1m0 -93h1m-1 15h1m-1 11h1m-1 2h1m-1 4h1m-1 1h1m-1 2h1m-1 2h1m-1 4h1m-1 36h1m-1 2h1m-1 42h1m0 -141h1m-1 2h1m-1 2h1m-1 4h1m-1 4h1m-1 4h1m-1 2h1m-1 3h1m-1 4h1m-1 6h1m-1 4h1m-1 2h1m-1 5h1m-1 1h1m-1 6h1m-1 3h1m-1 5h1m-1 3h1m-1 3h1m-1 3h1m-1 10h1m-1 2h1m-1 3h1m-1 4h1m-1 9h1m-1 1h1m-1 2h1m-1 2h1m-1 6h1m0 -106h1m-1 23h1m-1 16h1m-1 13h1m-1 4h1m-1 3h1m-1 13h1m-1 5h1m0 -68h1m-1 10h1m-1 1h1m-1 16h1m-1 3h1m-1 5h1m-1 5h1m-1 5h1m-1 23h1m-1 2h1m-1 3h1m-1 1h1m-1 3h1m-1 5h1m-1 27h1m-1 16h1m-1 2h1m0 -122h1m-1 23h1m-1 3h1m-1 15h1m-1 8h1m-1 31h1m-1 6h1m-1 11h1m0 -105h1m-1 8h1m-1 10h1m-1 5h1m-1 22h1m-1 4h1m-1 4h1m-1 4h1m-1 3h1m-1 6h1m-1 11h1m-1 3h1m-1 29h1m0 -71h1m-1 17h1m-1 30h1m-1 11h1m-1 38h1m0 -127h1m-1 2h1m-1 1h1m-1 3h1m-1 4h1m-1 14h1m-1 2h1m-1 3h1m-1 2h1m-1 3h1m-1 5h1m-1 8h1m-1 6h1m-1 14h1m-1 1h1m-1 7h1m-1 4h1m-1 2h1m0 -87h1m-1 22h1m-1 3h1m-1 5h1m-1 6h1m-1 10h1m-1 4h1m-1 13h1m-1 11h1m-1 2h1m-1 38h1m0 -120h1m-1 6h1m-1 18h1m-1 5h1m-1 6h1m-1 4h1m-1 11h1m-1 2h1m-1 2h1m-1 4h1m-1 4h1m-1 10h1m-1 2h1m-1 5h1m-1 14h1m-1 5h1m-1 9h1m-1 11h1m-1 2h1m0 -109h1m-1 21h1m-1 6h1m-1 7h1m-1 6h1m-1 5h1m-1 10h1m-1 4h1m-1 11h1m-1 17h1m-1 3h1m-1 10h1m-1 1h1m-1 3h1m0 -106h1m-1 3h1m-1 1h1m-1 2h1m-1 1h1m-1 20h1m-1 7h1m-1 3h1m-1 10h1m-1 1h1m-1 1h1m-1 5h1m-1 7h1m-1 2h1m-1 5h1m-1 12h1m-1 5h1m-1 1h1m-1 3h1m-1 11h1m-1 4h1m-1 21h1m0 -158h1m-1 7h1m-1 29h1m-1 14h1m-1 18h1m-1 7h1m-1 43h1m-1 11h1m-1 5h1m-1 15h1m-1 1h1m-1 11h1m0 -138h1m-1 9h1m-1 4h1m-1 31h1m-1 6h1m-1 1h1m-1 4h1m-1 3h1m-1 6h1m-1 2h1m-1 3h1m-1 10h1m-1 4h1m-1 2h1m-1 37h1m0 -109h1m-1 7h1m-1 35h1m-1 4h1m-1 12h1m-1 5h1m-1 9h1m-1 33h1m-1 11h1m0 -129h1m-1 9h1m-1 2h1m-1 22h1m-1 2h1m-1 22h1m-1 17h1m-1 10h1m-1 6h1m-1 6h1m-1 8h1m-1 15h1m0 -92h1m-1 4h1m-1 4h1m-1 19h1m-1 3h1m-1 36h1m-1 14h1m-1 18h1m0 -139h1m-1 24h1m-1 14h1m-1 9h1m-1 20h1m-1 5h1m-1 2h1m-1 3h1m-1 9h1m-1 8h1m-1 1h1m-1 16h1m-1 1h1m-1 10h1m-1 1h1m0 -134h1m-1 2h1m-1 15h1m-1 37h1m-1 3h1m-1 4h1m-1 20h1m-1 18h1m-1 4h1m-1 7h1m-1 6h1m-1 50h1m0 -129h1m-1 7h1m-1 11h1m-1 5h1m-1 6h1m-1 32h1m-1 11h1m-1 1h1m-1 49h1m-1 6h1m0 -167h1m-1 33h1m-1 28h1m-1 7h1m-1 64h1m-1 8h1m0 -130h1m-1 59h1m-1 5h1m-1 11h1m-1 3h1m-1 7h1m-1 14h1m-1 8h1m-1 9h1m-1 20h1m-1 4h1m0 -102h1m-1 14h1m-1 6h1m-1 22h1m-1 6h1m-1 1h1m-1 11h1m-1 19h1m-1 33h1m0 -146h1m-1 9h1m-1 56h1m-1 1h1m-1 22h1m-1 20h1m-1 9h1m-1 9h1m0 -103h1m-1 107h1m0 -124h1m-1 2h1m-1 22h1m-1 6h1m-1 16h1m-1 8h1m-1 6h1m-1 2h1m-1 9h1m-1 6h1m-1 14h1m-1 8h1m-1 3h1m-1 1h1m-1 7h1m-1 8h1m0 -126h1m-1 14h1m-1 25h1m-1 16h1m-1 16h1m-1 10h1m-1 31h1m-1 3h1m-1 4h1m0 -113h1m-1 2h1m-1 12h1m-1 9h1m-1 6h1m-1 8h1m-1 6h1m-1 3h1m-1 3h1m-1 2h1m-1 13h1m-1 12h1m-1 5h1m-1 5h1m-1 6h1m-1 8h1m-1 1h1m-1 8h1m0 -65h1m-1 12h1m-1 14h1m-1 1h1m-1 14h1m0 -64h1m-1 15h1m-1 21h1m-1 2h1m-1 6h1m-1 11h1m-1 30h1m0 -101h1m-1 17h1m-1 4h1m0 5h1m-1 6h1m-1 14h1m-1 7h1m-1 24h1m-1 25h1m0 -113h1m-1 10h1m-1 70h1m-1 4h1m-1 62h1m0 -100h1m-1 71h1m-1 4h1m-1 14h1m-1 5h1m0 -58h1m0 -60h1m-1 4h1m-1 4h1m-1 31h1m-1 9h1m-1 14h1m-1 36h1m0 -30h1m-1 25h1m0 -5h1m-1 23h1m0 -40h1m0 -22h1m-1 4h1m-1 6h1m-1 6h1m-1 10h1m-1 8h1m-1 7h1m-1 2h1m0 -79h1m-1 33h1m0 -49h1m-1 16h1m-1 17h1m-1 31h1m-1 2h1m-1 20h1m-1 47h1m0 -149h1m-1 5h1m-1 3h1m-1 6h1m-1 2h1m-1 7h1m-1 3h1m-1 17h1m-1 2h1m-1 1h1m-1 2h1m-1 7h1m-1 44h1m-1 9h1m0 -121h1m-1 10h1m-1 27h1m-1 1h1m-1 1h1m-1 16h1m-1 13h1m-1 12h1m-1 2h1m-1 2h1m-1 8h1m-1 2h1m-1 16h1m-1 11h1m-1 11h1m0 -120h1m-1 23h1m-1 13h1m-1 1h1m-1 6h1m-1 14h1m-1 4h1m-1 8h1m-1 9h1m-1 36h1m-1 19h1m-1 10h1m0 -140h1m-1 5h1m-1 31h1m-1 5h1m-1 10h1m-1 1h1m-1 2h1m-1 1h1m-1 1h1m-1 2h1m-1 9h1m-1 3h1m-1 9h1m-1 14h1m-1 6h1m-1 1h1m-1 19h1m-1 1h1m0 -85h1m-1 7h1m-1 17h1m-1 41h1m-1 1h1m-1 10h1m-1 19h1m-1 3h1m0 -143h1m-1 10h1m-1 15h1m-1 3h1m-1 9h1m-1 7h1m-1 9h1m-1 6h1m-1 6h1m-1 22h1m-1 7h1m-1 4h1m-1 1h1m-1 3h1m-1 6h1m-1 12h1m-1 8h1m-1 3h1m-1 1h1m-1 19h1m0 -108h1m-1 52h1m-1 9h1m-1 24h1m0 -97h1m-1 34h1m-1 7h1m-1 5h1m-1 9h1m-1 8h1m-1 11h1m-1 23h1m0 -83h1m-1 7h1m-1 10h1m-1 5h1m-1 21h1m-1 1h1m-1 4h1m-1 3h1m-1 26h1m0 -90h1m-1 23h1m-1 4h1m-1 2h1m-1 12h1m-1 2h1m-1 5h1m-1 2h1m-1 6h1m-1 11h1m-1 48h1m-1 4h1m0 -132h1m-1 9h1m-1 8h1m-1 33h1m-1 10h1m-1 10h1m-1 8h1m-1 16h1m-1 15h1m-1 3h1m0 -132h1m-1 25h1m-1 3h1m-1 20h1m-1 3h1m-1 12h1m-1 3h1m-1 34h1m-1 4h1m-1 3h1m-1 6h1m-1 2h1m0 -90h1m-1 20h1m-1 7h1m-1 4h1m-1 18h1m-1 3h1m-1 5h1m-1 7h1m-1 2h1m-1 24h1m-1 17h1m0 -121h1m-1 11h1m-1 3h1m-1 12h1m-1 1h1m-1 13h1m-1 2h1m-1 5h1m-1 13h1m-1 5h1m-1 12h1m-1 2h1m-1 8h1m-1 30h1m-1 6h1m-1 1h1m0 -131h1m-1 11h1m-1 7h1m-1 13h1m-1 20h1m-1 3h1m-1 2h1m-1 4h1m-1 4h1m-1 11h1m-1 3h1m-1 18h1m-1 3h1m0 -89h1m-1 10h1m-1 10h1m-1 12h1m-1 18h1m-1 7h1m-1 13h1m-1 10h1m-1 8h1m-1 5h1m-1 9h1m-1 41h1m0 -142h1m-1 17h1m-1 5h1m-1 6h1m-1 5h1m-1 20h1m-1 16h1m-1 9h1m-1 6h1m-1 20h1m0 -82h1m-1 22h1m-1 7h1m-1 5h1m-1 6h1m-1 10h1m-1 19h1m-1 4h1m-1 2h1m-1 8h1m-1 30h1m0 -148h1m-1 27h1m-1 18h1m-1 9h1m-1 11h1m-1 3h1m-1 3h1m-1 1h1m-1 5h1m-1 15h1m-1 4h1m-1 8h1m-1 3h1m-1 1h1m0 -114h1m-1 20h1m-1 4h1m-1 2h1m-1 1h1m-1 18h1m-1 2h1m-1 1h1m-1 1h1m-1 6h1m-1 14h1m-1 9h1m-1 1h1m-1 1h1m-1 2h1m-1 2h1m-1 1h1m-1 2h1m-1 1h1m-1 6h1m-1 2h1m-1 2h1m-1 11h1m-1 4h1m-1 1h1m-1 2h1m-1 3h1m-1 2h1m-1 19h1m-1 22h1m0 -158h1m-1 7h1m-1 12h1m-1 4h1m-1 8h1m-1 2h1m-1 3h1m-1 4h1m-1 3h1m-1 3h1m-1 2h1m-1 8h1m-1 5h1m-1 5h1m-1 2h1m-1 1h1m-1 1h1m-1 6h1m-1 4h1m-1 6h1m-1 1h1m-1 1h1m-1 5h1m-1 15h1m-1 24h1m-1 6h1m-1 10h1m0 -137h1m-1 12h1m-1 1h1m-1 7h1m-1 7h1m-1 1h1m-1 15h1m-1 1h1m-1 1h1m-1 2h1m-1 1h1m-1 5h1m-1 1h1m-1 2h1m-1 3h1m-1 10h1m-1 7h1m-1 9h1m-1 4h1m-1 3h1m-1 35h1m0 -142h1m-1 21h1m-1 17h1m-1 5h1m-1 7h1m-1 12h1m-1 2h1m-1 40h1m-1 4h1m-1 21h1m-1 25h1m0 -151h1m-1 6h1m-1 3h1m-1 8h1m-1 7h1m-1 1h1m-1 9h1m-1 5h1m-1 9h1m-1 6h1m-1 1h1m-1 3h1m-1 1h1m-1 3h1m-1 2h1m-1 3h1m-1 1h1m-1 7h1m-1 8h1m-1 5h1m-1 7h1m-1 6h1m-1 3h1m-1 1h1m-1 2h1m-1 2h1m-1 3h1m-1 1h1m-1 5h1m-1 4h1m-1 5h1m-1 7h1m-1 1h1m-1 10h1m-1 9h1m0 -125h1m-1 27h1m-1 15h1m-1 17h1m0 -81h1m-1 63h1m-1 16h1m-1 19h1m-1 20h1m0 -59h1m-1 68h1m0 -118h1m-1 5h1m-1 8h1m-1 5h1m-1 3h1m-1 3h1m-1 12h1m-1 4h1m-1 17h1m-1 16h1m-1 1h1m-1 1h1m-1 3h1m-1 13h1m-1 2h1m-1 4h1m-1 10h1m-1 3h1m-1 3h1m-1 3h1m-1 6h1m0 -98h1m-1 16h1m-1 14h1m-1 1h1m-1 17h1m-1 6h1m-1 5h1m-1 10h1m-1 10h1m0 -109h1m-1 1h1m-1 2h1m-1 13h1m-1 8h1m-1 31h1m-1 3h1m-1 1h1m-1 6h1m-1 3h1m-1 1h1m-1 1h1m-1 1h1m-1 2h1m-1 3h1m-1 3h1m-1 1h1m-1 9h1m-1 2h1m-1 3h1m-1 5h1m-1 6h1m-1 33h1m0 -144h1m-1 19h1m-1 12h1m-1 15h1m-1 3h1m-1 1h1m-1 1h1m-1 7h1m-1 3h1m-1 9h1m-1 2h1m-1 15h1m-1 6h1m-1 8h1m-1 17h1m-1 25h1m-1 2h1m-1 5h1m0 -155h1m-1 3h1m-1 12h1m-1 8h1m-1 16h1m-1 6h1m-1 4h1m-1 7h1m-1 10h1m-1 1h1m-1 6h1m-1 5h1m-1 2h1m-1 1h1m-1 3h1m-1 3h1m-1 1h1m-1 1h1m-1 4h1m-1 2h1m-1 3h1m-1 3h1m-1 4h1m-1 2h1m-1 5h1m-1 7h1m-1 4h1m-1 1h1m-1 3h1m-1 3h1m-1 10h1m-1 7h1m-1 3h1m0 -75h1m-1 86h1m0 -139h1m-1 22h1m-1 16h1m-1 93h1m0 -142h1m-1 34h1m0 56h1m-1 2h1m-1 16h1m0 -73h1m-1 2h1m-1 18h1m-1 3h1m-1 39h1m0 -102h1m-1 4h1m-1 3h1m-1 5h1m-1 1h1m-1 9h1m-1 6h1m-1 12h1m-1 3h1m-1 6h1m-1 1h1m-1 5h1m-1 5h1m-1 4h1m-1 1h1m-1 4h1m-1 11h1m-1 11h1m-1 2h1m-1 6h1m-1 5h1m-1 5h1m-1 2h1m-1 5h1m-1 12h1m-1 3h1m-1 23h1m0 -155h1m-1 2h1m-1 24h1m-1 5h1m-1 31h1m-1 1h1m-1 5h1m-1 1h1m-1 11h1m-1 2h1m-1 12h1m-1 19h1m-1 2h1m-1 11h1m-1 7h1m-1 10h1m0 -108h1m-1 6h1m-1 1h1m-1 6h1m-1 23h1m-1 11h1m-1 5h1m-1 8h1m-1 5h1m-1 10h1m-1 7h1m-1 1h1m-1 4h1m-1 7h1m0 -119h1m-1 1h1m-1 8h1m-1 5h1m-1 4h1m-1 10h1m-1 7h1m-1 2h1m-1 13h1m-1 1h1m-1 7h1m-1 8h1m-1 2h1m-1 8h1m-1 12h1m-1 5h1m-1 1h1m-1 19h1m-1 3h1m-1 25h1m0 -116h1m-1 7h1m-1 9h1m-1 6h1m-1 11h1m-1 8h1m-1 2h1m-1 10h1m-1 3h1m-1 8h1m-1 4h1m-1 3h1m-1 10h1m-1 9h1m-1 2h1m-1 1h1m-1 13h1m0 -130h1m-1 104h1m-1 4h1m-1 24h1m0 -113h1m-1 27h1m-1 18h1m-1 34h1m-1 3h1m-1 16h1m-1 1h1m0 -114h1m-1 22h1m-1 12h1m-1 11h1m0 -11h1m-1 21h1m-1 8h1m-1 15h1m-1 18h1m-1 20h1m0 -141h1m-1 21h1m-1 27h1m-1 31h1m-1 4h1m-1 44h1m-1 4h1m-1 3h1m-1 4h1m-1 13h1m0 -141h1m-1 4h1m-1 10h1m-1 5h1m-1 12h1m-1 30h1m-1 11h1m-1 4h1m-1 1h1m-1 1h1m-1 4h1m-1 4h1m-1 4h1m-1 2h1m-1 4h1m-1 8h1m-1 5h1m-1 1h1m-1 34h1m0 -105h1m-1 26h1m-1 30h1m0 -91h1m0 21h1m-1 13h1m-1 9h1m-1 29h1m-1 27h1m-1 1h1m0 -55h1m-1 2h1m-1 2h1m-1 4h1m-1 36h1m-1 8h1m-1 40h1m0 -124h1m-1 26h1m-1 2h1m0 -33h1m-1 9h1m-1 18h1m-1 5h1m-1 9h1m-1 2h1m-1 7h1m-1 8h1m-1 5h1m-1 11h1m-1 5h1m-1 18h1m-1 12h1m-1 2h1m0 -90h1m-1 12h1m-1 35h1m-1 7h1m-1 6h1m-1 22h1m-1 8h1m-1 2h1m0 -113h1m-1 7h1m-1 4h1m-1 6h1m-1 11h1m-1 4h1m-1 23h1m-1 14h1m-1 8h1m-1 25h1m-1 8h1m0 -63h1m-1 20h1m-1 9h1m-1 4h1m-1 31h1m-1 4h1m0 -101h1m-1 6h1m-1 17h1m-1 4h1m-1 26h1m-1 5h1m-1 3h1m-1 22h1m-1 4h1m0 -98h1m-1 1h1m-1 16h1m-1 40h1m-1 1h1m-1 5h1m-1 1h1m-1 7h1m-1 6h1m-1 16h1m-1 13h1m0 -119h1m-1 1h1m-1 2h1m-1 8h1m-1 2h1m-1 5h1m-1 8h1m-1 7h1m-1 17h1m-1 5h1m-1 8h1m-1 5h1m-1 2h1m-1 13h1m-1 2h1m-1 1h1m-1 3h1m-1 1h1m-1 3h1m-1 3h1m-1 4h1m-1 1h1m-1 2h1m-1 4h1m-1 5h1m-1 1h1m0 -107h1m-1 2h1m-1 26h1m-1 14h1m-1 2h1m-1 16h1m-1 2h1m-1 2h1m-1 3h1m-1 10h1m-1 4h1m-1 4h1m-1 1h1m-1 4h1m-1 1h1m-1 5h1m-1 11h1m-1 15h1m-1 5h1m0 -110h1m-1 1h1m-1 1h1m-1 19h1m-1 4h1m-1 13h1m-1 5h1m-1 4h1m-1 1h1m-1 2h1m-1 1h1m-1 4h1m-1 3h1m-1 7h1m-1 7h1m-1 7h1m-1 7h1m-1 2h1m-1 3h1m0 -94h1m-1 5h1m-1 13h1m-1 7h1m-1 6h1m-1 4h1m-1 2h1m-1 5h1m-1 6h1m-1 13h1m-1 5h1m-1 11h1m-1 5h1m-1 8h1m-1 7h1m0 -94h1m-1 5h1m-1 11h1m-1 2h1m-1 1h1m-1 3h1m-1 3h1m-1 1h1m-1 4h1m-1 6h1m-1 6h1m-1 5h1m-1 3h1m-1 7h1m-1 2h1m-1 6h1m-1 2h1m-1 3h1m-1 1h1m-1 4h1m-1 2h1m-1 9h1m0 -50h1m-1 6h1m-1 29h1m0 7h1m0 -22h1m0 -43h1m-1 15h1m-1 6h1m-1 13h1m-1 40h1m-1 20h1m0 -123h1m0 41h1m-1 36h1m-1 5h1m-1 4h1m-1 14h1m0 -93h1m-1 11h1m-1 8h1m-1 1h1m-1 3h1m-1 2h1m-1 4h1m-1 10h1m-1 6h1m-1 3h1m-1 1h1m-1 4h1m-1 4h1m-1 2h1m-1 1h1m-1 11h1m-1 4h1m-1 1h1m-1 2h1m-1 10h1m-1 2h1m-1 1h1m-1 6h1m0 -101h1m-1 3h1m-1 2h1m-1 3h1m-1 6h1m-1 2h1m-1 7h1m-1 4h1m-1 1h1m-1 4h1m-1 3h1m-1 2h1m-1 3h1m-1 6h1m-1 7h1m-1 2h1m-1 1h1m-1 2h1m-1 1h1m-1 9h1m-1 1h1m-1 2h1m-1 1h1m-1 2h1m-1 5h1m-1 1h1m-1 1h1m-1 3h1m-1 1h1m-1 11h1m-1 2h1m-1 28h1m-1 1h1m-1 15h1m0 -135h1m-1 5h1m-1 6h1m-1 16h1m-1 1h1m-1 1h1m-1 19h1m-1 32h1m-1 19h1m-1 4h1m0 -104h1m-1 15h1m-1 6h1m-1 25h1m-1 4h1m-1 5h1m-1 7h1m-1 4h1m-1 1h1m-1 23h1m-1 4h1m-1 25h1m0 -94h1m-1 34h1m-1 28h1m-1 17h1m0 -118h1m-1 5h1m-1 11h1m-1 23h1m-1 3h1m-1 5h1m-1 1h1m-1 6h1m-1 1h1m-1 2h1m-1 8h1m-1 3h1m-1 12h1m-1 14h1m-1 25h1m0 -103h1m-1 16h1m-1 1h1m-1 20h1m-1 2h1m-1 9h1m-1 6h1m-1 9h1m-1 1h1m-1 10h1m-1 30h1m-1 1h1m0 -104h1m-1 13h1m-1 4h1m-1 3h1m-1 11h1m-1 3h1m-1 8h1m-1 6h1m-1 2h1m-1 25h1m-1 9h1m-1 22h1m-1 15h1m0 -136h1m-1 16h1m-1 12h1m-1 24h1m-1 28h1m-1 11h1m-1 15h1m-1 19h1m0 -124h1m-1 1h1m-1 1h1m-1 3h1m-1 8h1m-1 18h1m-1 8h1m-1 3h1m-1 2h1m-1 3h1m-1 5h1m-1 3h1m-1 4h1m-1 1h1m-1 1h1m-1 7h1m-1 2h1m-1 5h1m-1 6h1m-1 1h1m-1 1h1m-1 4h1m-1 2h1m-1 10h1m-1 5h1m0 -67h1m-1 19h1m-1 13h1m-1 1h1m-1 15h1m-1 35h1m0 -127h1m-1 1h1m-1 34h1m-1 11h1m-1 5h1m-1 15h1m-1 1h1m-1 38h1m-1 10h1m0 -69h1m-1 2h1m0 -13h1m-1 12h1m-1 1h1m-1 1h1m-1 9h1m-1 1h1m-1 3h1m-1 14h1m-1 10h1m-1 30h1m0 -77h1m-1 36h1m-1 17h1m-1 14h1m-1 9h1m0 -86h1m-1 24h1m-1 3h1m-1 3h1m-1 1h1m-1 4h1m-1 2h1m-1 2h1m-1 3h1m-1 1h1m-1 2h1m-1 1h1m-1 4h1m-1 1h1m-1 8h1m-1 23h1m-1 3h1m0 -69h1m-1 15h1m-1 13h1m-1 49h1m-1 9h1m-1 7h1m0 -113h1m-1 4h1m-1 1h1m-1 15h1m-1 1h1m-1 4h1m-1 11h1m-1 2h1m-1 14h1m-1 10h1m-1 37h1m0 -106h1m-1 35h1m-1 11h1m-1 25h1m-1 14h1m-1 9h1m0 -97h1m-1 3h1m-1 12h1m-1 19h1m-1 20h1m-1 7h1m-1 46h1m0 -88h1m-1 42h1m-1 2h1m-1 35h1m0 -89h1m-1 4h1m-1 26h1m-1 3h1m-1 7h1m-1 5h1m-1 4h1m-1 1h1m-1 20h1m-1 10h1m-1 23h1m-1 18h1m0 -143h1m-1 46h1m-1 6h1m-1 8h1m-1 20h1m-1 7h1m-1 27h1m-1 6h1m0 -116h1m-1 7h1m-1 5h1m-1 11h1m-1 22h1m-1 5h1m-1 1h1m-1 3h1m-1 4h1m-1 8h1m-1 16h1m-1 5h1m-1 4h1m-1 10h1m-1 14h1m-1 11h1m0 -114h1m-1 4h1m-1 10h1m-1 5h1m-1 11h1m-1 19h1m-1 12h1m-1 1h1m-1 7h1m-1 13h1m-1 15h1m-1 3h1m0 -111h1m-1 6h1m-1 8h1m-1 4h1m-1 22h1m-1 1h1m-1 2h1m-1 5h1m-1 3h1m-1 15h1m-1 1h1m-1 14h1m-1 7h1m-1 7h1m-1 4h1m-1 38h1m0 -84h1m-1 24h1m-1 1h1m-1 4h1m-1 1h1m-1 27h1m-1 11h1m-1 6h1m0 -128h1m-1 29h1m-1 2h1m-1 7h1m-1 2h1m-1 1h1m-1 15h1m-1 6h1m-1 7h1m-1 10h1m-1 13h1m-1 6h1m-1 6h1m-1 11h1m-1 5h1m-1 6h1m0 -109h1m-1 35h1m-1 48h1m-1 16h1m-1 4h1m0 -96h1m-1 28h1m-1 7h1m-1 15h1m-1 42h1m-1 3h1m-1 9h1m-1 1h1m0 -135h1m-1 8h1m-1 5h1m-1 6h1m-1 9h1m-1 2h1m-1 15h1m-1 1h1m-1 1h1m-1 2h1m-1 5h1m-1 10h1m-1 22h1m-1 6h1m-1 1h1m-1 1h1m-1 2h1m-1 1h1m-1 7h1m-1 18h1m-1 17h1m-1 3h1m0 -144h1m-1 12h1m-1 7h1m-1 1h1m-1 3h1m-1 15h1m-1 3h1m-1 1h1m-1 3h1m-1 1h1m-1 9h1m-1 2h1m-1 2h1m-1 1h1m-1 2h1m-1 2h1m-1 11h1m-1 5h1m-1 2h1m-1 1h1m-1 2h1m-1 5h1m-1 1h1m-1 2h1m-1 7h1m-1 3h1m-1 3h1m-1 3h1m-1 8h1m-1 8h1m-1 1h1m-1 10h1m-1 7h1m-1 6h1m0 -131h1m-1 18h1m-1 15h1m-1 4h1m-1 13h1m-1 14h1m-1 4h1m-1 10h1m-1 24h1m0 -97h1m-1 9h1m-1 9h1m-1 4h1m-1 6h1m-1 13h1m-1 2h1m-1 8h1m-1 3h1m-1 11h1m-1 22h1m-1 4h1m-1 9h1m-1 3h1m-1 14h1m0 -128h1m-1 19h1m-1 6h1m-1 26h1m-1 2h1m-1 1h1m-1 3h1m-1 7h1m-1 7h1m-1 2h1m-1 3h1m-1 1h1m-1 16h1m0 -82h1m-1 31h1m-1 7h1m-1 2h1m-1 25h1m-1 2h1m-1 15h1m-1 2h1m-1 7h1m-1 6h1m-1 2h1m-1 1h1m-1 3h1m-1 3h1m0 -76h1m-1 11h1m-1 6h1m-1 14h1m-1 25h1m-1 7h1m0 -107h1m-1 2h1m-1 4h1m-1 12h1m-1 37h1m-1 5h1m-1 1h1m-1 4h1m-1 5h1m-1 2h1m-1 2h1m-1 10h1m-1 2h1m-1 16h1m-1 3h1m-1 1h1m-1 4h1m-1 1h1m-1 14h1m-1 10h1m0 -79h1m-1 30h1m-1 12h1m0 -41h1m-1 27h1m0 -21h1m-1 30h1m-1 34h1m0 -19h1m-1 32h1m0 -64h1m0 -46h1m-1 66h1m-1 16h1m0 -38h1m0 -17h1m-1 72h1m-1 23h1m0 -108h1m-1 16h1m-1 2h1m-1 3h1m-1 2h1m0 -58h1m-1 3h1m-1 23h1m-1 2h1m-1 6h1m-1 7h1m-1 1h1m-1 6h1m-1 31h1m-1 18h1m-1 20h1m0 -99h1m-1 36h1m-1 24h1m-1 1h1m-1 23h1m-1 33h1m0 -100h1m-1 14h1m-1 12h1m-1 13h1m-1 8h1m-1 6h1m-1 4h1m-1 4h1m-1 9h1m-1 12h1m0 -70h1m-1 2h1m-1 3h1m-1 22h1m0 -63h1m-1 33h1m-1 9h1m-1 11h1m-1 1h1m-1 3h1m-1 8h1m-1 6h1m0 -57h1m-1 30h1m-1 7h1m-1 11h1m0 -35h1m-1 6h1m-1 1h1m-1 13h1m-1 17h1m0 -20h1m-1 9h1m-1 15h1m0 -18h1m-1 1h1m-1 3h1m-1 1h1m-1 3h1m-1 1h1m-1 5h1m-1 3h1m-1 3h1m-1 1h1m0 -65h1m-1 52h1m0 -25h1m-1 12h1m0 -29h1m-1 15h1m-1 2h1m-1 8h1m-1 13h1m-1 10h1m-1 2h1m0 -50h1m-1 1h1m-1 12h1m-1 2h1m-1 4h1m-1 6h1m-1 3h1m-1 7h1m-1 1h1m-1 4h1m-1 4h1m-1 5h1m-1 9h1m-1 6h1m-1 19h1m0 -76h1m-1 5h1m-1 3h1m-1 10h1m0 -26h1m-1 2h1m-1 1h1m-1 9h1m-1 5h1m-1 1h1m-1 1h1m-1 1h1m-1 3h1m-1 1h1m-1 3h1m-1 7h1m-1 18h1m-1 6h1m-1 2h1m-1 6h1m0 -68h1m-1 14h1m-1 8h1m-1 1h1m-1 15h1m-1 16h1m-1 5h1m0 -53h1m-1 8h1m-1 1h1m-1 6h1m-1 2h1m-1 29h1m0 -3h1m-1 1h1m-1 1h1m-1 8h1m-1 1h1m-1 10h1m-1 4h1m0 -74h1m-1 1h1m-1 1h1m-1 8h1m-1 29h1m-1 1h1m-1 1h1m-1 5h1m-1 1h1m-1 12h1m-1 2h1m-1 1h1m-1 1h1m-1 9h1m-1 3h1m0 -58h1m-1 10h1m-1 17h1m-1 2h1m-1 33h1m0 -72h1m-1 11h1m-1 5h1m-1 2h1m-1 1h1m-1 6h1m-1 1h1m-1 1h1m-1 5h1m-1 2h1m-1 5h1m-1 7h1m-1 7h1m-1 5h1m-1 4h1m-1 2h1m-1 8h1m0 -77h1m-1 7h1m-1 8h1m-1 8h1m-1 9h1m-1 76h1m0 -110h1m-1 16h1m-1 1h1m-1 1h1m-1 7h1m-1 3h1m-1 7h1m-1 15h1m-1 10h1m0 -64h1m-1 23h1m-1 15h1m-1 2h1m-1 25h1m-1 45h1m0 -110h1m-1 29h1m-1 2h1m-1 3h1m-1 16h1m-1 1h1m-1 20h1m0 -76h1m-1 11h1m-1 5h1m-1 8h1m-1 2h1m-1 6h1m-1 2h1m-1 2h1m-1 2h1m-1 9h1m-1 18h1m0 -65h1m-1 5h1m-1 1h1m-1 1h1m-1 8h1m-1 5h1m-1 2h1m-1 1h1m-1 1h1m-1 1h1m-1 10h1m-1 1h1m-1 2h1m-1 9h1m-1 1h1m-1 3h1m-1 16h1m-1 6h1m-1 5h1m0 -75h1m-1 6h1m-1 17h1m-1 2h1m-1 1h1m-1 2h1m-1 2h1m-1 4h1m-1 4h1m-1 1h1m-1 12h1m-1 24h1m0 -70h1m-1 6h1m-1 2h1m-1 2h1m-1 7h1m-1 2h1m-1 1h1m-1 5h1m-1 2h1m-1 5h1m-1 4h1m-1 3h1m-1 4h1m-1 4h1m-1 7h1m-1 9h1m-1 29h1m0 -87h1m-1 5h1m-1 9h1m-1 11h1m-1 32h1m-1 2h1m-1 1h1m-1 6h1m-1 3h1m-1 4h1m-1 14h1m-1 21h1m0 -110h1m-1 2h1m-1 3h1m-1 5h1m-1 6h1m-1 1h1m-1 8h1m-1 9h1m-1 1h1m-1 5h1m-1 13h1m-1 1h1m-1 8h1m-1 17h1m-1 2h1m0 -66h1m-1 3h1m-1 7h1m-1 16h1m-1 10h1m-1 2h1m-1 2h1m-1 11h1m-1 1h1m0 -58h1m-1 19h1m-1 4h1m-1 3h1m-1 6h1m-1 14h1m-1 12h1m-1 4h1m0 -83h1m-1 25h1m-1 22h1m-1 5h1m-1 8h1m0 -72h1m-1 1h1m-1 1h1m-1 14h1m-1 10h1m-1 3h1m-1 15h1m-1 6h1m-1 26h1m-1 1h1m-1 4h1m-1 2h1m-1 20h1m-1 3h1m-1 20h1m0 -119h1m-1 11h1m-1 1h1m-1 16h1m-1 10h1m-1 4h1m-1 18h1m-1 26h1m-1 18h1m0 -115h1m-1 19h1m-1 16h1m-1 3h1m-1 1h1m-1 4h1m-1 19h1m-1 4h1m-1 5h1m-1 4h1m-1 14h1m-1 8h1m-1 2h1m0 -63h1m-1 28h1m-1 51h1m-1 12h1m0 -127h1m-1 33h1m-1 44h1m-1 13h1m0 -55h1m-1 2h1m-1 3h1m-1 6h1m-1 6h1m-1 2h1m-1 2h1m-1 11h1m-1 12h1m-1 5h1m-1 6h1m-1 11h1m-1 12h1m0 -114h1m-1 7h1m-1 8h1m-1 6h1m-1 3h1m-1 3h1m-1 5h1m-1 2h1m-1 3h1m-1 1h1m-1 1h1m-1 10h1m-1 6h1m-1 2h1m-1 2h1m-1 4h1m-1 5h1m-1 4h1m-1 4h1m-1 1h1m-1 3h1m-1 2h1m-1 4h1m-1 3h1m-1 4h1m-1 4h1m-1 5h1m-1 3h1m-1 20h1m0 -82h1m-1 22h1m-1 5h1m-1 22h1m-1 52h1m0 -91h1m-1 1h1m-1 4h1m-1 16h1m-1 12h1m-1 20h1m-1 1h1m-1 13h1m-1 25h1m0 -118h1m-1 46h1m-1 48h1m0 -107h1m-1 49h1m-1 40h1m-1 15h1m0 -43h1m-1 9h1m-1 41h1m0 -110h1m-1 22h1m-1 55h1m0 -73h1m-1 64h1m0 -77h1m-1 28h1m-1 45h1m0 -71h1m-1 33h1m-1 10h1m-1 37h1m-1 15h1m-1 19h1m-1 16h1m0 -124h1m-1 2h1m-1 2h1m-1 7h1m-1 12h1m-1 14h1m-1 4h1m-1 16h1m-1 1h1m-1 2h1m-1 70h1m0 -142h1m-1 36h1m-1 9h1m-1 35h1m-1 35h1m0 -108h1m-1 17h1m-1 8h1m-1 21h1m-1 9h1m-1 28h1m-1 17h1m0 -97h1m-1 7h1m-1 18h1m-1 8h1m-1 34h1m-1 5h1m-1 28h1m0 -116h1m-1 24h1m-1 15h1m-1 31h1m-1 56h1m-1 2h1m0 -102h1m-1 90h1m0 -75h1m-1 82h1m0 -11h1m0 -80h1m-1 78h1m0 -122h1m-1 39h1m-1 55h1m-1 3h1m-1 7h1m-1 1h1m-1 16h1m-1 4h1m-1 6h1m0 -102h1m-1 11h1m-1 15h1m-1 3h1m-1 2h1m-1 1h1m-1 4h1m-1 7h1m-1 14h1m-1 7h1m-1 10h1m-1 19h1m0 -83h1m-1 5h1m-1 5h1m-1 12h1m-1 3h1m-1 24h1m-1 4h1m-1 14h1m-1 10h1m0 -115h1m-1 5h1m-1 9h1m-1 2h1m-1 3h1m-1 2h1m-1 4h1m-1 7h1m-1 4h1m-1 8h1m-1 4h1m-1 7h1m-1 3h1m-1 8h1m-1 4h1m-1 6h1m-1 8h1m-1 2h1m-1 10h1m-1 53h1m0 -144h1m-1 1h1m-1 25h1m-1 2h1m-1 9h1m-1 12h1m-1 3h1m-1 1h1m-1 7h1m-1 6h1m-1 17h1m-1 1h1m-1 2h1m-1 2h1m-1 4h1m-1 3h1m0 -96h1m-1 19h1m-1 2h1m-1 5h1m-1 2h1m-1 3h1m-1 6h1m-1 8h1m-1 5h1m-1 12h1m-1 7h1m-1 13h1m-1 1h1m-1 3h1m-1 12h1m-1 2h1m-1 4h1m-1 21h1m0 -128h1m-1 14h1m-1 4h1m-1 1h1m-1 20h1m-1 2h1m-1 31h1m-1 4h1m-1 8h1m-1 18h1m-1 7h1m0 -105h1m-1 13h1m-1 10h1m-1 6h1m-1 4h1m-1 1h1m-1 18h1m-1 3h1m-1 1h1m-1 3h1m-1 14h1m-1 6h1m-1 6h1m-1 8h1m-1 11h1m-1 14h1m0 -108h1m-1 3h1m-1 14h1m-1 6h1m-1 17h1m-1 5h1m-1 2h1m-1 7h1m-1 18h1m-1 8h1m-1 54h1m0 -150h1m-1 8h1m-1 9h1m-1 6h1m-1 14h1m-1 4h1m-1 3h1m-1 8h1m-1 1h1m-1 9h1m-1 30h1m-1 13h1m-1 14h1m-1 6h1m-1 6h1m-1 32h1m0 -139h1m-1 13h1m-1 15h1m-1 3h1m-1 2h1m-1 17h1m-1 2h1m-1 5h1m-1 7h1m-1 17h1m0 -77h1m-1 2h1m-1 3h1m-1 7h1m-1 2h1m-1 2h1m-1 8h1m-1 9h1m-1 3h1m-1 10h1m-1 1h1m-1 10h1m-1 9h1m-1 3h1m-1 10h1m-1 7h1m0 -92h1m-1 28h1m-1 11h1m-1 1h1m-1 18h1m-1 2h1m-1 3h1m-1 5h1m-1 3h1m-1 13h1m-1 2h1m-1 1h1m0 -87h1m-1 16h1m-1 2h1m-1 5h1m-1 17h1m-1 2h1m-1 4h1m-1 4h1m-1 4h1m-1 4h1m-1 2h1m-1 1h1m-1 6h1m-1 5h1m0 -74h1m-1 16h1m-1 4h1m-1 9h1m-1 16h1m-1 10h1m-1 1h1m-1 1h1m-1 32h1m-1 26h1m0 -120h1m-1 5h1m-1 10h1m-1 1h1m-1 1h1m-1 4h1m-1 1h1m-1 15h1m-1 6h1m-1 5h1m-1 8h1m-1 1h1m-1 3h1m-1 1h1m-1 30h1m-1 19h1m-1 17h1m0 -122h1m-1 1h1m-1 1h1m-1 20h1m-1 6h1m-1 13h1m-1 24h1m-1 21h1m-1 17h1m0 -101h1m-1 14h1m-1 2h1m-1 9h1m-1 4h1m-1 15h1m-1 3h1m-1 2h1m-1 3h1m-1 3h1m-1 2h1m-1 3h1m-1 11h1m-1 1h1m-1 9h1m-1 11h1m-1 7h1m0 -107h1m-1 5h1m-1 7h1m-1 4h1m-1 1h1m-1 6h1m-1 8h1m-1 5h1m-1 4h1m-1 1h1m-1 1h1m-1 2h1m-1 4h1m-1 2h1m-1 2h1m-1 1h1m-1 5h1m-1 4h1m-1 1h1m-1 2h1m-1 1h1m-1 1h1m-1 2h1m-1 5h1m-1 2h1m-1 7h1m-1 1h1m-1 3h1m-1 12h1m0 -102h1m-1 10h1m-1 2h1m-1 6h1m-1 2h1m-1 1h1m-1 2h1m-1 1h1m-1 2h1m-1 2h1m-1 1h1m-1 8h1m-1 4h1m-1 1h1m-1 1h1m-1 7h1m-1 2h1m-1 2h1m-1 1h1m-1 1h1m-1 5h1m-1 2h1m-1 1h1m-1 1h1m-1 4h1m-1 1h1m-1 4h1m-1 2h1m-1 1h1m-1 4h1m-1 3h1m-1 2h1m-1 4h1m-1 17h1m-1 2h1m-1 46h1m0 -140h1m-1 4h1m-1 7h1m-1 10h1m-1 2h1m-1 3h1m-1 7h1m-1 1h1m-1 3h1m-1 3h1m-1 1h1m-1 4h1m-1 1h1m-1 2h1m-1 3h1m-1 2h1m-1 3h1m-1 6h1m-1 5h1m-1 7h1m-1 1h1m-1 2h1m-1 6h1m-1 4h1m-1 7h1m-1 3h1m-1 2h1m-1 1h1m-1 3h1m-1 3h1m-1 28h1m0 -150h1m-1 26h1m-1 2h1m-1 1h1m-1 2h1m-1 2h1m-1 2h1m-1 1h1m-1 1h1m-1 1h1m-1 6h1m-1 2h1m-1 3h1m-1 1h1m-1 4h1m-1 1h1m-1 3h1m-1 1h1m-1 1h1m-1 3h1m-1 3h1m-1 1h1m-1 3h1m-1 2h1m-1 3h1m-1 1h1m-1 2h1m-1 3h1m-1 2h1m-1 1h1m-1 1h1m-1 1h1m-1 5h1m-1 6h1m-1 3h1m-1 3h1m-1 1h1m-1 2h1m-1 2h1m-1 16h1m0 -116h1m-1 32h1m-1 3h1m-1 3h1m0 -7h1m-1 14h1m-1 1h1m-1 5h1m-1 4h1m-1 63h1m0 -109h1m-1 4h1m-1 4h1m-1 23h1m-1 1h1m-1 5h1m-1 7h1m-1 21h1m-1 2h1m-1 4h1m-1 7h1m-1 2h1m-1 1h1m-1 13h1m-1 12h1m0 -123h1m-1 10h1m-1 3h1m-1 3h1m-1 4h1m-1 2h1m-1 2h1m-1 21h1m-1 10h1m-1 1h1m-1 1h1m-1 4h1m-1 3h1m-1 3h1m-1 3h1m-1 1h1m-1 2h1m-1 3h1m-1 2h1m-1 5h1m-1 8h1m-1 2h1m-1 2h1m-1 9h1m-1 18h1m-1 3h1m0 -122h1m-1 7h1m-1 21h1m-1 5h1m-1 1h1m-1 4h1m-1 4h1m-1 3h1m-1 4h1m-1 5h1m-1 5h1m-1 1h1m-1 6h1m-1 2h1m-1 3h1m-1 7h1m-1 20h1m-1 7h1m-1 10h1m0 -103h1m-1 4h1m-1 9h1m-1 3h1m-1 6h1m-1 2h1m-1 5h1m-1 5h1m-1 4h1m-1 1h1m-1 3h1m-1 4h1m-1 1h1m-1 3h1m-1 4h1m-1 2h1m-1 1h1m-1 6h1m-1 5h1m-1 9h1m-1 1h1m-1 4h1m-1 4h1m0 -96h1m-1 9h1m-1 4h1m-1 8h1m-1 2h1m-1 6h1m-1 6h1m-1 4h1m-1 3h1m-1 1h1m-1 1h1m-1 3h1m-1 4h1m-1 5h1m-1 4h1m-1 1h1m-1 4h1m-1 2h1m-1 5h1m-1 21h1m-1 5h1m-1 12h1m-1 1h1m0 -129h1m-1 4h1m-1 9h1m-1 11h1m-1 3h1m-1 3h1m-1 8h1m-1 4h1m-1 7h1m-1 2h1m-1 1h1m-1 8h1m-1 1h1m-1 3h1m-1 2h1m-1 4h1m-1 2h1m-1 2h1m-1 7h1m-1 1h1m-1 1h1m-1 2h1m-1 3h1m-1 5h1m-1 3h1m-1 12h1m-1 3h1m-1 2h1m-1 3h1m-1 4h1m-1 2h1m-1 4h1m-1 2h1m-1 1h1m0 -94h1m-1 14h1m-1 23h1m-1 15h1m-1 14h1m-1 15h1m-1 9h1m0 -103h1m-1 4h1m-1 49h1m-1 18h1m0 -5h1m-1 16h1m0 -44h1m-1 22h1m-1 4h1m0 24h1m0 -16h1m-1 2h1m0 -84h1m-1 4h1m-1 9h1m-1 21h1m-1 2h1m-1 9h1m-1 7h1m-1 4h1m-1 16h1m-1 1h1m-1 1h1m-1 3h1m-1 4h1m-1 12h1m-1 5h1m0 -106h1m-1 12h1m-1 1h1m-1 12h1m-1 2h1m-1 2h1m-1 1h1m-1 8h1m-1 3h1m-1 2h1m-1 4h1m-1 4h1m-1 3h1m-1 1h1m-1 1h1m-1 3h1m-1 1h1m-1 1h1m-1 1h1m-1 1h1m-1 8h1m-1 5h1m-1 1h1m-1 2h1m-1 5h1m-1 3h1m-1 1h1m-1 2h1m-1 1h1m-1 1h1m-1 10h1m-1 5h1m-1 11h1m0 -74h1m-1 4h1m-1 6h1m-1 6h1m-1 11h1m-1 31h1m-1 2h1m0 -93h1m-1 8h1m-1 14h1m-1 15h1m-1 5h1m-1 8h1m-1 8h1m-1 28h1m-1 1h1m-1 22h1m-1 2h1m0 -130h1m-1 21h1m-1 48h1m-1 1h1m-1 3h1m-1 4h1m-1 19h1m-1 10h1m-1 32h1m0 -105h1m-1 45h1m-1 7h1m-1 2h1m-1 13h1m-1 14h1m-1 3h1m0 -84h1m-1 32h1m-1 35h1m-1 4h1m-1 19h1m-1 44h1m0 -143h1m-1 20h1m-1 5h1m-1 6h1m-1 17h1m-1 11h1m-1 19h1m-1 4h1m-1 1h1m-1 9h1m-1 19h1m0 -118h1m-1 31h1m-1 2h1m-1 24h1m-1 17h1m-1 8h1m-1 5h1m-1 4h1m-1 5h1m-1 1h1m-1 1h1m-1 2h1m-1 14h1m0 -105h1m-1 2h1m-1 13h1m-1 15h1m-1 9h1m-1 7h1m-1 6h1m-1 1h1m-1 6h1m-1 2h1m-1 2h1m-1 6h1m-1 1h1m-1 5h1m-1 2h1m-1 1h1m-1 4h1m-1 5h1m0 -98h1m-1 4h1m-1 3h1m-1 2h1m-1 5h1m-1 21h1m-1 1h1m-1 3h1m-1 20h1m-1 10h1m-1 3h1m-1 5h1m-1 6h1m-1 7h1m-1 7h1m-1 2h1m0 -96h1m-1 3h1m-1 6h1m-1 13h1m-1 17h1m-1 7h1m-1 5h1m-1 8h1m-1 4h1m-1 2h1m-1 2h1m-1 2h1m-1 1h1m-1 9h1m-1 1h1m-1 2h1m-1 7h1m-1 15h1m0 -89h1m-1 26h1m-1 3h1m-1 13h1m-1 2h1m-1 5h1m-1 3h1m-1 8h1m-1 1h1m-1 5h1m-1 7h1m-1 1h1m0 -101h1m-1 9h1m-1 8h1m-1 1h1m-1 15h1m-1 3h1m-1 9h1m-1 5h1m-1 1h1m-1 1h1m-1 3h1m-1 3h1m-1 4h1m-1 1h1m-1 1h1m-1 5h1m-1 7h1m-1 5h1m-1 2h1m-1 2h1m-1 1h1m-1 2h1m-1 2h1m-1 7h1m-1 1h1m-1 10h1m-1 4h1m-1 12h1m-1 19h1m0 -132h1m-1 78h1m-1 10h1m-1 16h1m0 -31h1m0 -17h1m-1 17h1m-1 1h1m0 -30h1m-1 5h1m-1 6h1m-1 16h1m-1 3h1m-1 7h1m-1 38h1m-1 3h1m0 -103h1m-1 28h1m-1 32h1m-1 34h1m0 -102h1m-1 46h1m-1 26h1m-1 4h1m-1 1h1m-1 11h1m0 -62h1m-1 1h1m-1 28h1m-1 4h1m-1 1h1m-1 11h1m-1 13h1m0 -85h1m-1 28h1m-1 15h1m-1 4h1m-1 4h1m-1 6h1m-1 4h1m-1 5h1m-1 1h1m-1 6h1m-1 6h1m-1 5h1m0 -64h1m-1 15h1m-1 30h1m-1 7h1m-1 3h1m-1 7h1m-1 11h1m-1 17h1m-1 2h1m0 -114h1m-1 14h1m-1 19h1m-1 28h1m-1 11h1m-1 4h1m-1 4h1m-1 40h1m0 -71h1m-1 1h1m-1 19h1m-1 3h1m-1 1h1m-1 30h1m0 -106h1m-1 27h1m-1 23h1m-1 1h1m-1 2h1m-1 2h1m-1 4h1m-1 5h1m-1 3h1m-1 1h1m-1 2h1m-1 3h1m-1 24h1m-1 2h1m-1 17h1m0 -117h1m-1 23h1m-1 22h1m-1 5h1m-1 5h1m-1 7h1m-1 8h1m-1 20h1m-1 12h1m-1 12h1m0 -110h1m-1 5h1m-1 2h1m-1 1h1m-1 3h1m-1 4h1m-1 13h1m-1 10h1m-1 11h1m-1 5h1m-1 2h1m-1 2h1m-1 4h1m-1 10h1m-1 2h1m-1 1h1m-1 1h1m-1 1h1m-1 3h1m-1 3h1m0 -81h1m-1 31h1m-1 3h1m-1 5h1m-1 6h1m-1 4h1m-1 9h1m-1 14h1m-1 8h1m-1 1h1m-1 12h1m-1 7h1m0 -98h1m-1 7h1m-1 8h1m-1 6h1m-1 8h1m-1 3h1m-1 7h1m-1 1h1m-1 8h1m-1 1h1m-1 14h1m-1 4h1m-1 1h1m-1 1h1m-1 11h1m-1 1h1m-1 1h1m-1 3h1m-1 5h1m-1 9h1m0 -89h1m-1 43h1m-1 75h1m0 -131h1m-1 7h1m-1 15h1m-1 15h1m-1 7h1m-1 3h1m-1 1h1m-1 3h1m-1 3h1m-1 2h1m-1 7h1m-1 10h1m-1 3h1m-1 13h1m-1 18h1m0 -73h1m-1 8h1m-1 1h1m-1 14h1m-1 1h1m0 -59h1m-1 17h1m-1 5h1m-1 3h1m-1 1h1m-1 4h1m-1 18h1m-1 3h1m-1 1h1m-1 6h1m-1 12h1m-1 4h1m-1 5h1m0 -82h1m-1 5h1m-1 39h1m-1 11h1m-1 13h1m-1 8h1m0 -67h1m-1 8h1m-1 33h1m-1 2h1m-1 7h1m-1 4h1m-1 19h1m-1 2h1m-1 17h1m-1 8h1m0 -70h1m-1 3h1m-1 8h1m-1 2h1m-1 11h1m-1 1h1m-1 4h1m-1 2h1m-1 4h1m-1 1h1m-1 4h1m-1 2h1m-1 2h1m-1 1h1m-1 5h1m-1 3h1m-1 4h1m-1 27h1m-1 5h1m0 -114h1m-1 4h1m-1 16h1m-1 6h1m-1 2h1m-1 1h1m-1 1h1m-1 2h1m-1 1h1m-1 1h1m-1 2h1m-1 6h1m-1 2h1m-1 1h1m-1 4h1m-1 3h1m-1 2h1m-1 1h1m-1 2h1m-1 3h1m-1 1h1m-1 1h1m-1 3h1m-1 1h1m-1 1h1m-1 6h1m-1 1h1m-1 2h1m-1 9h1m-1 2h1m0 -71h1m-1 3h1m-1 13h1m-1 1h1m-1 3h1m-1 3h1m-1 7h1m-1 6h1m-1 3h1m-1 3h1m-1 2h1m-1 5h1m-1 1h1m-1 5h1m-1 1h1m-1 1h1m0 -57h1m-1 6h1m-1 1h1m-1 4h1m-1 1h1m-1 1h1m-1 2h1m-1 1h1m-1 1h1m-1 2h1m-1 1h1m-1 1h1m-1 1h1m-1 2h1m-1 1h1m-1 1h1m-1 1h1m-1 2h1m-1 2h1m-1 3h1m-1 1h1m-1 1h1m-1 1h1m-1 2h1m-1 2h1m-1 2h1m-1 1h1m-1 1h1m-1 4h1m-1 4h1m-1 1h1m-1 1h1m-1 3h1m-1 1h1m-1 1h1m-1 11h1m0 -71h1m-1 1h1m-1 13h1m-1 2h1m-1 3h1m-1 1h1m-1 1h1m-1 1h1m-1 1h1m-1 1h1m-1 1h1m-1 3h1m-1 3h1m-1 2h1m-1 1h1m-1 4h1m-1 2h1m-1 4h1m-1 1h1m-1 4h1m-1 1h1m-1 5h1m-1 1h1m-1 3h1m-1 12h1m-1 46h1m0 -115h1m-1 2h1m-1 6h1m-1 1h1m-1 1h1m-1 3h1m-1 1h1m-1 1h1m-1 2h1m-1 1h1m-1 2h1m-1 2h1m-1 2h1m-1 1h1m-1 2h1m-1 3h1m-1 1h1m-1 1h1m-1 3h1m-1 1h1m-1 4h1m-1 2h1m-1 3h1m-1 1h1m-1 1h1m-1 1h1m-1 1h1m-1 1h1m-1 8h1m-1 2h1m-1 8h1m-1 2h1m0 -66h1m-1 6h1m-1 3h1m-1 1h1m-1 1h1m-1 2h1m-1 5h1m-1 3h1m-1 6h1m-1 3h1m-1 8h1m-1 10h1m-1 4h1m-1 6h1m-1 8h1m0 -86h1m-1 14h1m-1 1h1m-1 8h1m-1 1h1m-1 3h1m-1 2h1m-1 1h1m-1 1h1m-1 2h1m-1 3h1m-1 2h1m-1 1h1m-1 4h1m-1 2h1m-1 1h1m-1 2h1m-1 3h1m-1 2h1m-1 1h1m-1 1h1m-1 1h1m-1 1h1m-1 1h1m-1 4h1m-1 6h1m-1 2h1m-1 3h1m-1 6h1m-1 4h1m-1 3h1m-1 4h1m-1 8h1m-1 7h1m0 -101h1m-1 13h1m-1 2h1m-1 1h1m-1 5h1m-1 6h1m-1 1h1m-1 2h1m-1 1h1m-1 1h1m-1 4h1m-1 3h1m-1 1h1m-1 7h1m-1 1h1m-1 4h1m-1 6h1m-1 4h1m-1 6h1m-1 1h1m-1 2h1m-1 3h1m-1 4h1m-1 1h1m-1 4h1m0 -85h1m-1 2h1m-1 3h1m-1 5h1m-1 3h1m-1 5h1m-1 2h1m-1 2h1m-1 5h1m-1 2h1m-1 1h1m-1 4h1m-1 2h1m-1 2h1m-1 2h1m-1 4h1m-1 3h1m-1 1h1m-1 1h1m-1 3h1m-1 3h1m-1 1h1m-1 2h1m-1 2h1m-1 2h1m-1 1h1m-1 3h1m-1 11h1m-1 3h1m-1 12h1m-1 1h1m0 -83h1m-1 7h1m-1 3h1m-1 3h1m-1 7h1m-1 4h1m-1 9h1m-1 4h1m-1 6h1m-1 3h1m-1 1h1m-1 1h1m-1 10h1m-1 4h1m-1 13h1m-1 6h1m-1 16h1m0 -101h1m-1 2h1m-1 2h1m-1 7h1m-1 5h1m-1 1h1m-1 4h1m-1 4h1m-1 1h1m-1 2h1m-1 2h1m-1 1h1m-1 3h1m-1 4h1m-1 2h1m-1 1h1m-1 2h1m-1 4h1m-1 2h1m-1 5h1m-1 1h1m-1 1h1m-1 1h1m-1 1h1m-1 3h1m-1 3h1m-1 1h1m-1 1h1m-1 2h1m-1 3h1m-1 3h1m-1 2h1m-1 6h1m-1 3h1m-1 11h1m-1 5h1m0 -100h1m-1 34h1m-1 20h1m-1 3h1m-1 4h1m0 -50h1m-1 11h1m-1 15h1m-1 10h1m0 -18h1m-1 1h1m-1 6h1m-1 1h1m-1 13h1m-1 6h1m-1 8h1m-1 10h1m0 -65h1m-1 1h1m-1 1h1m-1 6h1m-1 7h1m-1 2h1m-1 4h1m-1 3h1m-1 2h1m-1 1h1m-1 1h1m-1 3h1m-1 2h1m-1 1h1m-1 1h1m-1 1h1m-1 1h1m-1 5h1m-1 7h1m-1 2h1m-1 9h1m-1 7h1m-1 5h1m-1 2h1m0 -87h1m-1 4h1m-1 10h1m-1 2h1m-1 4h1m-1 2h1m-1 1h1m-1 3h1m-1 5h1m-1 1h1m-1 1h1m-1 3h1m-1 1h1m-1 4h1m-1 3h1m-1 1h1m-1 1h1m-1 1h1m-1 2h1m-1 2h1m-1 1h1m-1 1h1m-1 1h1m-1 2h1m-1 5h1m-1 2h1m-1 2h1m-1 3h1m-1 4h1m-1 1h1m-1 1h1m-1 2h1m-1 8h1m-1 22h1m0 -106h1m-1 1h1m-1 4h1m-1 2h1m-1 1h1m-1 1h1m-1 1h1m-1 1h1m-1 1h1m-1 6h1m-1 5h1m-1 3h1m-1 1h1m-1 3h1m-1 1h1m-1 1h1m-1 1h1m-1 1h1m-1 4h1m-1 1h1m-1 1h1m-1 1h1m-1 1h1m-1 2h1m-1 1h1m-1 4h1m-1 2h1m-1 3h1m-1 6h1m-1 1h1m-1 1h1m-1 2h1m-1 9h1m-1 4h1m-1 1h1m-1 1h1m-1 1h1m-1 7h1m-1 1h1m0 -88h1m-1 9h1m-1 3h1m-1 6h1m-1 2h1m-1 4h1m-1 2h1m-1 2h1m-1 2h1m-1 4h1m-1 4h1m-1 1h1m-1 1h1m-1 2h1m-1 3h1m-1 7h1m-1 2h1m-1 1h1m-1 1h1m-1 1h1m-1 3h1m-1 7h1m-1 1h1m-1 1h1m-1 1h1m-1 4h1m-1 1h1m-1 1h1m0 -77h1m-1 3h1m-1 2h1m-1 4h1m-1 4h1m-1 2h1m-1 8h1m-1 1h1m-1 2h1m-1 1h1m-1 3h1m-1 1h1m-1 2h1m-1 1h1m-1 1h1m-1 7h1m-1 4h1m-1 2h1m-1 1h1m-1 1h1m-1 1h1m-1 2h1m-1 1h1m-1 2h1m-1 2h1m-1 3h1m-1 1h1m-1 5h1m-1 2h1m-1 3h1m-1 6h1m-1 9h1m0 -81h1m-1 11h1m-1 3h1m-1 1h1m-1 1h1m-1 4h1m-1 1h1m-1 1h1m-1 1h1m-1 8h1m-1 1h1m-1 2h1m-1 1h1m-1 4h1m-1 2h1m-1 2h1m-1 4h1m-1 1h1m-1 5h1m-1 1h1m-1 1h1m-1 3h1m-1 1h1m-1 5h1m-1 13h1m0 -81h1m-1 5h1m-1 12h1m-1 4h1m-1 2h1m-1 1h1m-1 1h1m-1 2h1m-1 1h1m-1 2h1m-1 2h1m-1 1h1m-1 1h1m-1 2h1m-1 1h1m-1 3h1m-1 1h1m-1 2h1m-1 1h1m-1 1h1m-1 1h1m-1 7h1m-1 4h1m-1 13h1m-1 10h1m-1 29h1m0 -111h1m-1 4h1m-1 2h1m-1 9h1m-1 4h1m-1 1h1m-1 3h1m-1 5h1m-1 4h1m-1 1h1m-1 2h1m-1 1h1m-1 3h1m-1 3h1m-1 2h1m-1 2h1m-1 2h1m-1 6h1m-1 3h1m-1 3h1m-1 3h1m-1 1h1m-1 4h1m-1 2h1m-1 4h1m-1 11h1m-1 2h1m0 -79h1m-1 2h1m-1 1h1m-1 3h1m-1 1h1m-1 2h1m-1 3h1m-1 1h1m-1 4h1m-1 2h1m-1 1h1m-1 3h1m-1 2h1m-1 1h1m-1 4h1m-1 2h1m-1 2h1m-1 1h1m-1 1h1m-1 1h1m-1 3h1m-1 1h1m-1 17h1m-1 2h1m-1 4h1m-1 4h1m-1 21h1m0 -58h1m-1 3h1m-1 1h1m-1 2h1m-1 21h1m-1 1h1m-1 1h1m-1 20h1m0 -62h1m-1 11h1m-1 6h1m-1 5h1m-1 4h1m-1 6h1m-1 2h1m-1 1h1m-1 1h1m-1 8h1m-1 3h1m-1 1h1m0 -62h1m-1 10h1m-1 3h1m-1 7h1m-1 3h1m-1 3h1m-1 3h1m-1 4h1m-1 2h1m-1 2h1m-1 3h1m-1 1h1m-1 1h1m-1 2h1m-1 4h1m-1 1h1m-1 4h1m-1 4h1m-1 1h1m-1 9h1m-1 1h1m0 -72h1m-1 3h1m-1 19h1m-1 2h1m-1 2h1m-1 1h1m-1 2h1m-1 1h1m-1 3h1m-1 2h1m-1 1h1m-1 1h1m-1 1h1m-1 1h1m-1 3h1m-1 1h1m-1 1h1m-1 1h1m-1 1h1m-1 2h1m-1 2h1m-1 1h1m-1 1h1m-1 2h1m-1 2h1m-1 3h1m-1 2h1m-1 4h1m-1 1h1m-1 1h1m-1 9h1m-1 8h1m-1 2h1m0 -68h1m-1 1h1m-1 1h1m-1 4h1m-1 2h1m-1 1h1m-1 1h1m-1 1h1m-1 2h1m-1 2h1m-1 8h1m-1 1h1m-1 1h1m-1 5h1m-1 5h1m-1 1h1m-1 1h1m-1 4h1m-1 4h1m-1 3h1m-1 5h1m-1 23h1m0 -77h1m-1 1h1m-1 11h1m-1 4h1m-1 2h1m-1 1h1m-1 3h1m-1 1h1m-1 1h1m-1 1h1m-1 5h1m-1 2h1m-1 2h1m-1 2h1m-1 1h1m-1 6h1m-1 3h1m0 -51h1m-1 7h1m-1 1h1m-1 11h1m-1 4h1m-1 1h1m-1 9h1m-1 1h1m-1 1h1m-1 4h1m-1 5h1m-1 4h1m-1 6h1m-1 10h1m-1 1h1m0 -66h1m-1 5h1m-1 6h1m-1 7h1m-1 3h1m-1 3h1m-1 4h1m-1 2h1m-1 3h1m-1 6h1m-1 2h1m-1 1h1m-1 10h1m-1 12h1m-1 26h1m0 -88h1m-1 6h1m-1 10h1m-1 1h1m-1 3h1m-1 17h1m-1 9h1m0 -48h1m-1 1h1m-1 2h1m-1 4h1m-1 2h1m-1 4h1m-1 2h1m-1 10h1m-1 1h1m-1 6h1m-1 1h1m-1 1h1m-1 6h1m-1 1h1m-1 2h1m-1 1h1m-1 1h1m-1 3h1m-1 7h1m0 -75h1m-1 11h1m-1 10h1m-1 1h1m-1 2h1m-1 2h1m-1 3h1m-1 1h1m-1 2h1m-1 1h1m-1 1h1m-1 4h1m-1 1h1m-1 4h1m-1 1h1m-1 2h1m-1 8h1m-1 3h1m-1 12h1m0 -70h1m-1 2h1m-1 2h1m-1 4h1m-1 2h1m-1 6h1m-1 1h1m-1 4h1m-1 3h1m-1 3h1m-1 1h1m-1 1h1m-1 2h1m-1 1h1m-1 1h1m-1 1h1m-1 2h1m-1 2h1m-1 2h1m-1 2h1m-1 4h1m-1 3h1m-1 1h1m-1 1h1m-1 1h1m-1 2h1m-1 3h1m-1 3h1m-1 2h1m-1 2h1m-1 5h1m-1 5h1m-1 2h1m-1 4h1m-1 1h1m-1 2h1m-1 4h1m0 -83h1m-1 2h1m-1 4h1m-1 3h1m-1 3h1m-1 5h1m-1 1h1m-1 8h1m-1 3h1m-1 4h1m-1 2h1m-1 1h1m-1 6h1m-1 1h1m-1 1h1m-1 3h1m-1 1h1m-1 1h1m-1 3h1m-1 2h1m-1 2h1m-1 1h1m-1 2h1m-1 11h1m-1 11h1m0 -84h1m-1 4h1m-1 1h1m-1 2h1m-1 3h1m-1 1h1m-1 5h1m-1 3h1m-1 2h1m-1 2h1m-1 1h1m-1 3h1m-1 1h1m-1 1h1m-1 1h1m-1 1h1m-1 1h1m-1 2h1m-1 1h1m-1 1h1m-1 1h1m-1 1h1m-1 1h1m-1 1h1m-1 1h1m-1 3h1m-1 1h1m-1 5h1m-1 1h1m-1 1h1m-1 1h1m-1 1h1m-1 2h1m-1 1h1m-1 3h1m-1 2h1m-1 1h1m-1 4h1m-1 1h1m-1 3h1m-1 4h1m-1 1h1m-1 5h1m0 -70h1m-1 14h1m-1 3h1m-1 2h1m-1 10h1m-1 15h1m-1 13h1m-1 5h1m0 -111h1m-1 23h1m-1 10h1m-1 1h1m-1 32h1m-1 5h1m-1 6h1m-1 1h1m-1 25h1m-1 6h1m-1 21h1m-1 4h1m-1 12h1m-1 3h1m-1 11h1m0 -137h1m-1 1h1m-1 54h1m-1 17h1m-1 55h1m0 -147h1m-1 8h1m-1 27h1m-1 1h1m-1 17h1m-1 1h1m-1 31h1m-1 11h1m-1 1h1m-1 31h1m-1 8h1m0 -92h1m-1 27h1m-1 20h1m-1 26h1m0 -120h1m-1 10h1m-1 3h1m-1 50h1m-1 10h1m-1 18h1m-1 12h1m-1 6h1m-1 11h1m-1 24h1m-1 1h1m-1 12h1m-1 1h1m0 -66h1m-1 26h1m0 -92h1m-1 11h1m-1 1h1m-1 5h1m-1 8h1m-1 19h1m-1 12h1m-1 3h1m-1 4h1m-1 18h1m-1 3h1m-1 3h1m-1 7h1m-1 14h1m0 -89h1m-1 14h1m-1 17h1m-1 20h1m-1 15h1m-1 6h1m-1 9h1m-1 14h1m0 -143h1m-1 14h1m-1 2h1m-1 2h1m-1 23h1m-1 9h1m-1 7h1m-1 1h1m-1 2h1m-1 2h1m-1 3h1m-1 5h1m-1 1h1m-1 1h1m-1 1h1m-1 5h1m-1 2h1m-1 4h1m-1 3h1m-1 9h1m-1 10h1m-1 16h1m-1 22h1m-1 7h1m0 -127h1m-1 13h1m-1 27h1m-1 6h1m-1 7h1m-1 3h1m-1 1h1m-1 4h1m-1 10h1m-1 7h1m-1 10h1m-1 6h1m-1 4h1m-1 1h1m-1 7h1m-1 3h1m-1 1h1m-1 2h1m-1 10h1m0 -145h1m-1 7h1m-1 12h1m-1 7h1m-1 9h1m-1 2h1m-1 2h1m-1 5h1m-1 4h1m-1 6h1m-1 4h1m-1 6h1m-1 4h1m-1 7h1m-1 2h1m-1 5h1m-1 1h1m-1 3h1m-1 1h1m-1 4h1m-1 1h1m-1 4h1m-1 2h1m-1 5h1m-1 4h1m-1 2h1m-1 11h1m-1 8h1m-1 1h1m-1 5h1m-1 4h1m-1 3h1m-1 2h1m-1 3h1m-1 6h1m-1 3h1m0 -152h1m-1 36h1m-1 11h1m-1 2h1m-1 5h1m-1 1h1m-1 10h1m-1 3h1m-1 9h1m-1 4h1m-1 4h1m-1 20h1m-1 1h1m-1 2h1m-1 5h1m-1 2h1m-1 2h1m-1 7h1m0 -110h1m-1 21h1m-1 1h1m-1 3h1m-1 5h1m-1 1h1m-1 3h1m-1 2h1m-1 7h1m-1 3h1m-1 1h1m-1 2h1m-1 2h1m-1 2h1m-1 1h1m-1 13h1m-1 3h1m-1 11h1m-1 2h1m-1 3h1m-1 5h1m-1 2h1m-1 1h1m-1 2h1m-1 1h1m-1 5h1m-1 5h1m-1 8h1m-1 9h1m0 -98h1m-1 8h1m-1 4h1m-1 1h1m-1 4h1m-1 4h1m-1 11h1m-1 5h1m-1 3h1m-1 2h1m-1 11h1m-1 1h1m-1 1h1m-1 2h1m-1 1h1m-1 24h1m-1 5h1m0 -93h1m-1 4h1m-1 7h1m-1 1h1m-1 1h1m-1 3h1m-1 7h1m-1 1h1m-1 10h1m-1 1h1m-1 6h1m-1 1h1m-1 3h1m-1 2h1m-1 2h1m-1 2h1m-1 3h1m-1 11h1m-1 1h1m-1 13h1m-1 25h1m0 -88h1m-1 4h1m-1 1h1m-1 2h1m-1 2h1m-1 5h1m-1 2h1m-1 4h1m-1 1h1m-1 28h1m-1 10h1m-1 2h1m0 -66h1m-1 12h1m-1 6h1m-1 3h1m-1 4h1m-1 1h1m-1 4h1m-1 7h1m-1 2h1m-1 7h1m-1 5h1m-1 2h1m-1 1h1m-1 9h1m-1 9h1m-1 1h1m-1 9h1m-1 17h1m0 -83h1m-1 4h1m-1 4h1m-1 6h1m-1 16h1m-1 14h1m-1 14h1m-1 2h1m-1 12h1m0 -82h1m-1 1h1m-1 5h1m-1 5h1m-1 8h1m-1 5h1m-1 2h1m-1 2h1m-1 3h1m-1 8h1m-1 3h1m-1 3h1m-1 2h1m-1 4h1m-1 7h1m-1 9h1m-1 21h1m-1 1h1m-1 12h1m0 -100h1m-1 4h1m-1 3h1m-1 3h1m-1 9h1m-1 8h1m-1 12h1m-1 6h1m-1 2h1m0 -58h1m-1 6h1m-1 3h1m-1 2h1m-1 11h1m-1 6h1m-1 5h1m-1 6h1m-1 1h1m-1 5h1m-1 5h1m-1 2h1m-1 6h1m-1 8h1m-1 11h1m-1 11h1m-1 2h1m0 -75h1m-1 5h1m-1 2h1m-1 1h1m-1 5h1m-1 4h1m-1 12h1m-1 6h1m-1 4h1m-1 13h1m0 -60h1m-1 1h1m-1 3h1m-1 7h1m-1 4h1m-1 1h1m-1 4h1m-1 2h1m-1 4h1m-1 31h1m-1 7h1m0 -64h1m-1 36h1m-1 16h1m-1 24h1m0 -58h1m-1 9h1m-1 30h1m-1 57h1m0 -136h1m-1 17h1m-1 21h1m-1 4h1m-1 10h1m-1 1h1m-1 11h1m-1 3h1m-1 4h1m-1 4h1m-1 7h1m-1 14h1m-1 11h1m-1 33h1m0 -140h1m-1 12h1m-1 2h1m-1 1h1m-1 3h1m-1 3h1m-1 5h1m-1 1h1m-1 5h1m-1 2h1m-1 3h1m-1 4h1m-1 4h1m-1 2h1m-1 1h1m-1 1h1m-1 3h1m-1 11h1m-1 3h1m-1 1h1m-1 3h1m-1 1h1m-1 2h1m-1 2h1m-1 1h1m-1 7h1m-1 6h1m-1 1h1m-1 6h1m-1 2h1m0 -78h1m-1 5h1m-1 17h1m-1 8h1m-1 15h1m-1 7h1m-1 1h1m-1 22h1m0 -97h1m-1 25h1m-1 4h1m-1 33h1m-1 1h1m-1 1h1m-1 10h1m0 -63h1m-1 6h1m-1 15h1m0 -2h1m-1 16h1m-1 25h1m-1 31h1m-1 4h1m-1 5h1m0 -48h1m-1 12h1m-1 20h1m0 -85h1m-1 2h1m-1 31h1m-1 55h1m-1 1h1m-1 12h1m0 -33h1m-1 11h1m-1 26h1m0 -101h1m-1 17h1m-1 11h1m-1 11h1m-1 20h1m0 -42h1m-1 37h1m0 -19h1m-1 6h1m-1 24h1m-1 33h1m0 -113h1m-1 34h1m-1 18h1m-1 14h1m-1 25h1m-1 9h1m0 -105h1m-1 5h1m-1 9h1m-1 3h1m-1 23h1m-1 13h1m-1 9h1m-1 5h1m-1 1h1m-1 1h1m-1 2h1m-1 4h1m-1 1h1m-1 1h1m-1 3h1m-1 1h1m-1 3h1m-1 12h1m-1 1h1m-1 4h1m-1 7h1m0 -53h1m-1 3h1m-1 21h1m0 -38h1m-1 28h1m0 -53h1m-1 27h1m-1 5h1m-1 4h1m-1 1h1m-1 12h1m-1 1h1m-1 14h1m0 -69h1m-1 22h1m-1 6h1m-1 6h1m-1 4h1m-1 1h1m-1 12h1m-1 4h1m-1 2h1m-1 6h1m-1 5h1m-1 2h1m-1 1h1m-1 18h1m0 -96h1m-1 2h1m-1 3h1m-1 8h1m-1 13h1m-1 9h1m-1 4h1m-1 23h1m-1 15h1m-1 8h1m-1 13h1m0 -97h1m-1 2h1m-1 5h1m-1 27h1m-1 24h1m-1 2h1m-1 2h1m-1 6h1m-1 8h1m-1 3h1m-1 4h1m-1 7h1m-1 14h1m0 -104h1m-1 86h1m-1 1h1m-1 10h1m0 -102h1m-1 29h1m-1 27h1m-1 15h1m-1 6h1m0 -51h1m-1 33h1m0 -39h1m-1 7h1m-1 52h1m-1 1h1m-1 9h1m-1 4h1m-1 45h1m0 -136h1m-1 3h1m-1 6h1m-1 8h1m-1 2h1m-1 4h1m-1 4h1m-1 7h1m-1 9h1m-1 1h1m-1 2h1m-1 3h1m-1 1h1m-1 2h1m-1 43h1m-1 6h1m-1 7h1m0 -103h1m-1 2h1m-1 2h1m-1 3h1m-1 2h1m-1 4h1m-1 1h1m-1 3h1m-1 4h1m-1 4h1m-1 1h1m-1 1h1m-1 1h1m-1 3h1m-1 3h1m-1 1h1m-1 1h1m-1 2h1m-1 4h1m-1 2h1m-1 4h1m-1 1h1m-1 1h1m-1 3h1m-1 1h1m-1 9h1m-1 2h1m-1 13h1m-1 1h1m-1 1h1m-1 7h1m-1 3h1m-1 3h1m-1 1h1m-1 7h1m-1 7h1m-1 1h1m-1 2h1m0 -115h1m-1 32h1m-1 12h1m-1 5h1m-1 20h1m0 -44h1m-1 18h1m-1 15h1m-1 47h1m0 -88h1m-1 11h1m-1 10h1m-1 2h1m-1 18h1m-1 1h1m-1 1h1m-1 10h1m-1 3h1m-1 7h1m-1 9h1m0 -71h1m-1 11h1m-1 6h1m-1 2h1m-1 1h1m-1 3h1m-1 6h1m-1 3h1m-1 1h1m-1 2h1m-1 5h1m-1 1h1m-1 2h1m-1 1h1m-1 5h1m-1 1h1m-1 2h1m-1 1h1m-1 3h1m-1 9h1m-1 17h1m-1 9h1m-1 19h1m-1 18h1m0 -146h1m-1 5h1m-1 6h1m-1 13h1m-1 2h1m-1 1h1m-1 2h1m-1 1h1m-1 8h1m-1 9h1m-1 7h1m-1 9h1m-1 4h1m-1 6h1m-1 8h1m0 -79h1m-1 15h1m-1 2h1m-1 5h1m-1 2h1m-1 1h1m-1 6h1m-1 1h1m-1 1h1m-1 2h1m-1 3h1m-1 2h1m-1 6h1m-1 1h1m-1 8h1m-1 1h1m-1 4h1m-1 1h1m-1 4h1m-1 10h1m-1 4h1m-1 1h1m-1 8h1m-1 8h1m-1 2h1m0 -86h1m-1 4h1m-1 23h1m-1 4h1m-1 3h1m-1 1h1m-1 9h1m-1 5h1m-1 7h1m-1 8h1m-1 1h1m-1 9h1m0 -75h1m-1 18h1m-1 5h1m-1 1h1m-1 1h1m-1 4h1m-1 3h1m-1 7h1m-1 1h1m-1 3h1m-1 1h1m-1 1h1m-1 11h1m-1 2h1m-1 10h1m-1 9h1m-1 3h1m0 -72h1m-1 5h1m-1 45h1m-1 5h1m0 -56h1m-1 5h1m-1 15h1m-1 12h1m-1 4h1m-1 2h1m-1 3h1m-1 37h1m0 -90h1m-1 13h1m-1 14h1m-1 26h1m-1 1h1m-1 4h1m-1 5h1m-1 10h1m-1 18h1m-1 11h1m0 -96h1m-1 7h1m-1 19h1m-1 1h1m-1 8h1m-1 11h1m-1 3h1m-1 1h1m-1 20h1m-1 2h1m-1 7h1m0 -87h1m-1 3h1m-1 13h1m-1 28h1m-1 7h1m-1 6h1m-1 5h1m-1 7h1m0 -69h1m-1 10h1m-1 2h1m-1 9h1m-1 25h1m-1 6h1m-1 10h1m-1 1h1m-1 7h1m-1 6h1m-1 5h1m-1 4h1m0 -72h1m-1 1h1m-1 17h1m-1 6h1m-1 2h1m-1 23h1m-1 8h1m-1 21h1m-1 2h1m-1 27h1m0 -85h1m-1 4h1m-1 4h1m-1 1h1m-1 7h1m-1 12h1m-1 4h1m-1 1h1m-1 6h1m-1 27h1m0 -76h1m-1 19h1m0 -22h1m-1 1h1m-1 9h1m-1 3h1m-1 11h1m-1 7h1m-1 1h1m-1 10h1m-1 3h1m-1 4h1m-1 4h1m-1 13h1m-1 5h1" stroke="#000" stroke-width="3.0" stroke-linecap="round" fill="none" transform="scale(0.5)"/>
<path d="M185 578h1m-1 3h1m0 -25h1m1 22h1m2 -3h1m-1 9h1m0 -15h1m-1 4h1m0 3h1m0 -17h1m0 22h1m0 -44h1m0 32h1m0 -23h1m0 20h1m0 -7h1m1 18h1m0 -13h1m-1 12h1m0 -42h1m-1 43h1m-1 2h1m2 -25h1m-1 20h1m3 -9h1m0 -31h1m1 39h1m0 -39h1m1 30h1m1 -21h1m-1 4h1m-1 36h1m0 -40h1m-1 30h1m-1 3h1m0 -16h1m0 -5h1m-1 2h1m0 23h1m0 -5h1m2 1h1m-1 6h1m0 -15h1m1 0h1m2 -30h1m-1 42h1m1 -14h1m1 18h1m1 -23h1m-1 24h1m0 -34h1m-1 15h1m0 -4h1m0 14h1m-1 9h1m1 -16h1m0 -24h1m-1 28h1m1 -9h1m-1 3h1m-1 10h1m-1 7h1m0 -1h1m0 -19h1m-1 13h1m0 -13h1m0 -9h1m-1 25h1m0 -1h1m0 -19h1m-1 22h1m0 -15h1m-1 11h1m2 -15h1m-1 9h1m0 -8h1m0 7h1m-1 5h1m0 7h1m0 -27h1m-1 7h1m0 14h1m1 -23h1m-1 11h1m0 -12h1m3 32h1m0 -13h1m2 -17h1m-1 18h1m0 2h1m0 10h1m3 -26h1m-1 16h1m106 2h1m0 5h1m2 -20h1m0 -3h1m0 -14h1m-1 21h1m-1 18h1m4 -23h1m1 11h1m-1 10h1m1 -14h1m1 -24h1m-1 13h1m2 3h1m2 -11h1m0 9h1m0 -20h1m-1 34h1m-1 11h1m0 -5h1m1 -8h1m0 -8h1m-1 18h1m0 -8h1m1 -6h1m0 9h1m-1 7h1m0 -22h1m-1 12h1m1 -1h1m0 -28h1m0 17h1m-1 4h1m0 1h1m3 4h1m4 -3h1m0 11h1m0 -21h1m2 7h1m0 -4h1m-1 6h1m0 -3h1m-1 21h1m1 -13h1m-1 9h1m1 -21h1m-1 14h1m-1 4h1m-1 7h1m0 -4h1m0 -22h1m3 9h1m2 -4h1m32 16h1m1 1h1m0 -8h1m-1 4h1m-1 3h1m0 -23h1m-1 12h1m-1 4h1m0 -31h1m-1 28h1m0 15h1m0 -20h1m0 -12h1m-1 9h1m0 12h1m1 -16h1m-1 15h1m0 8h1m-1 1h1m-1 3h1m0 -32h1m-1 24h1m0 -42h1m0 7h1m-1 38h1m0 -13h1m0 -12h1m-1 13h1m-1 13h1m0 -34h1m-1 38h1m-1 1h1m0 -5h1m-1 4h1m0 -58h1m-1 21h1m-1 3h1m-1 18h1m0 -1h1m130 1h1m0 8h1m0 2h1m-1 6h1m0 -12h1m3 7h1m2 -21h1m2 24h1m0 -8h1m-1 9h1m1 -5h1m-1 3h1m0 -15h1m1 10h1m5 2h1m3 -14h1m0 20h1m-1 1h1m0 -8h1m0 7h1m1 -15h1m-1 8h1m0 1h1m2 -15h1m1 19h1m-1 2h1m2 -19h1m0 11h1m-1 6h1m1 -24h1m2 5h1m-1 17h1m1 -15h1m-1 21h1m0 -34h1m-1 21h1m0 -1h1m0 -9h1m0 -6h1m5 8h1m0 16h1m6 -8h1m0 3h1m1 -2h1m0 -3h1m2 4h1m1 -6h1m-1 9h1m0 -3h1m-1 9h1m0 -10h1m-1 2h1m1 9h1m0 -12h1m-1 7h1m0 -11h1m1 -2h1m-1 9h1m0 -10h1m-1 14h1m0 0h1m0 -9h1m-1 1h1m2 13h1m108 -23h1m3 -14h1m-1 11h1m0 -7h1m1 25h1m-1 3h1m1 -9h1m0 -21h1m-1 26h1m-1 3h1m0 -44h1m0 16h1m0 15h1m-1 12h1m1 -29h1m-1 1h1m-1 16h1m1 1h1m0 14h1m1 -6h1m-1 10h1m1 -33h1m-1 10h1m1 -18h1m0 16h1m-1 4h1m-1 15h1m0 -22h1m0 -4h1m0 4h1m0 23h1m-1 2h1m1 -3h1m2 -50h1m-1 43h1m-1 3h1m-1 3h1m1 -10h1m0 15h1m1 0h1m0 -7h1m0 -30h1m1 -20h1m-1 42h1m-1 6h1m0 -28h1m-1 24h1m-1 9h1m-1 2h1m0 -35h1m-1 4h1m0 14h1m-1 5h1m0 -21h1m-1 4h1m-1 12h1m-1 5h1m0 0h1m0 -14h1m-1 7h1m0 3h1m1 12h1m-1 8h1m0 -25h1m-1 11h1m0 -23h1m-1 4h1m0 6h1m-1 1h1m40 18h1m1 -3h1m3 7h1m0 -6h1m-1 4h1m0 -7h1m0 8h1m0 -13h1m-1 5h1m11 9h1m0 -33h1m-1 14h1m-1 13h1m0 -31h1m-1 24h1m0 -12h1m-1 17h1m-1 8h1m0 -41h1m-1 23h1m-1 2h1m-1 18h1m0 -46h1m-1 38h1m-1 2h1m0 -29h1m-1 7h1m-1 14h1m-1 1h1m-1 15h1m0 -30h1m-1 21h1m-1 2h1m0 -35h1m-1 9h1m-1 7h1m-1 4h1m-1 5h1m0 -16h1m-1 12h1m0 -33h1m-1 13h1m-1 20h1m-1 1h1m-1 9h1m-1 2h1m0 -52h1m-1 20h1m-1 12h1m-1 9h1m-1 9h1m-1 2h1m-1 1h1m-1 6h1m0 -37h1m-1 19h1m-1 2h1m-1 6h1m-1 3h1m-1 2h1m0 3h1m0 -12h1m0 -2h1m-1 1h1m-1 3h1m-1 11h1m-1 3h1m-1 1h1m0 -30h1m-1 9h1m-1 3h1m-1 7h1m0 -30h1m-1 14h1m-1 11h1m-1 12h1m0 -57h1m-1 45h1m-1 1h1m-1 6h1m-1 1h1m0 -5h1m-1 5h1m0 -20h1m-1 7h1m-1 14h1m-1 6h1m0 -33h1m-1 10h1m-1 6h1m-1 14h1m-1 1h1m0 -51h1m-1 28h1m-1 4h1m-1 12h1m-1 2h1m0 -10h1m-1 16h1m0 -1h1m0 -16h1m-1 8h1m0 -40h1m-1 20h1m-1 9h1m0 6h1m0 -30h1m-1 33h1m-1 8h1m-1 1h1m-1 1h1m-1 1h1m0 -30h1m-1 2h1m-1 5h1m0 -17h1m-1 12h1m0 -10h1m-1 23h1m-1 7h1m0 -27h1m-1 18h1m-1 7h1m-1 1h1m-1 1h1m-1 2h1m0 -44h1m-1 13h1m-1 5h1m-1 9h1m-1 10h1m-1 7h1m0 -36h1m-1 11h1m1 7h1m-1 10h1m-1 7h1m-1 3h1m-1 2h1m-1 1h1m0 -4h1m-1 7h1m0 -24h1m-1 17h1m-1 1h1m0 -10h1" stroke="#d83a3a" stroke-width="2.4" stroke-linecap="round" fill="none" transform="scale(0.5)"/>
<path d="M456 549h1m0 5h1m-1 22h1m0 -27h1m-1 1h1m-1 17h1m0 -16h1m-1 12h1m0 7h1m0 -23h1m-1 15h1m-1 17h1m0 -17h1m-1 14h1m0 -26h1m1 22h1m-1 6h1m0 -8h1m-1 3h1m0 -22h1m0 8h1m1 -3h1m0 27h1m0 -4h1m0 -17h1m0 -3h1m0 22h1m0 -28h1m0 -3h1m-1 7h1m-1 3h1m0 13h1m-1 1h1m-1 2h1m1 -18h1m-1 10h1m0 -6h1m0 -19h1m0 11h1m-1 19h1m1 -12h1m-1 1h1m0 14h1m1 7h1m1 -25h1m16 -7h1m1 -21h1m-1 40h1m-1 13h1m0 -44h1m0 -13h1m0 55h1m0 -20h1m0 -7h1m-1 1h1m-1 8h1m0 16h1m0 -59h1m-1 19h1m-1 44h1m1 -60h1m-1 29h1m-1 8h1m-1 19h1m0 -1h1m0 -17h1m0 -36h1m-1 45h1m1 -41h1m-1 29h1m-1 1h1m0 -9h1m-1 33h1m0 -58h1m-1 2h1m1 5h1m-1 49h1m0 -41h1m-1 17h1m-1 9h1m0 -24h1m-1 14h1m0 -34h1m-1 2h1m0 32h1m107 0h1m0 -5h1m-1 10h1m-1 18h1m0 -39h1m-1 38h1m0 -30h1m0 -11h1m-1 32h1m0 -24h1m0 22h1m-1 13h1m0 -38h1m1 38h1m83 1h1m0 -6h1m0 -5h1m-1 15h1m2 -11h1m-1 9h1m6 2h1m0 -8h1m6 0h1m1 4h1m55 -1h1m2 -12h1m0 8h1m1 -3h1m1 -2h1" stroke="#33e633" stroke-width="2.8" stroke-linecap="round" fill="none" transform="scale(0.5)"/>
<path d="M47.5 244H518V418H47.5Z" fill="none" stroke="#5a5a5a" stroke-width="1.2"/>
<line x1="42.7" y1="270.5" x2="47.5" y2="270.5" stroke="#5a5a5a" stroke-width="1"/>
<text transform="translate(35.5,270.5) scale(1.77,1) rotate(-90)" font-size="5.2" text-anchor="middle" fill="#222" stroke="#222" stroke-width="0.15" font-family="'Liberation Sans', sans-serif" textLength="7.0" lengthAdjust="spacingAndGlyphs">0.6</text>
<line x1="42.7" y1="290.5" x2="47.5" y2="290.5" stroke="#5a5a5a" stroke-width="1"/>
<text transform="translate(35.5,290.5) scale(1.77,1) rotate(-90)" font-size="5.2" text-anchor="middle" fill="#222" stroke="#222" stroke-width="0.15" font-family="'Liberation Sans', sans-serif" textLength="7.0" lengthAdjust="spacingAndGlyphs">0.4</text>
<line x1="42.7" y1="310.5" x2="47.5" y2="310.5" stroke="#5a5a5a" stroke-width="1"/>
<text transform="translate(35.5,310.5) scale(1.77,1) rotate(-90)" font-size="5.2" text-anchor="middle" fill="#222" stroke="#222" stroke-width="0.15" font-family="'Liberation Sans', sans-serif" textLength="7.0" lengthAdjust="spacingAndGlyphs">0.2</text>
<line x1="42.7" y1="330.5" x2="47.5" y2="330.5" stroke="#5a5a5a" stroke-width="1"/>
<text transform="translate(35.5,330.5) scale(1.77,1) rotate(-90)" font-size="5.2" text-anchor="middle" fill="#222" stroke="#222" stroke-width="0.15" font-family="'Liberation Sans', sans-serif" textLength="3.0" lengthAdjust="spacingAndGlyphs">0</text>
<line x1="42.7" y1="350.5" x2="47.5" y2="350.5" stroke="#5a5a5a" stroke-width="1"/>
<text transform="translate(35.5,350.5) scale(1.77,1) rotate(-90)" font-size="5.2" text-anchor="middle" fill="#222" stroke="#222" stroke-width="0.15" font-family="'Liberation Sans', sans-serif" textLength="9.0" lengthAdjust="spacingAndGlyphs">-0.2</text>
<line x1="42.7" y1="370.5" x2="47.5" y2="370.5" stroke="#5a5a5a" stroke-width="1"/>
<text transform="translate(35.5,370.5) scale(1.77,1) rotate(-90)" font-size="5.2" text-anchor="middle" fill="#222" stroke="#222" stroke-width="0.15" font-family="'Liberation Sans', sans-serif" textLength="9.0" lengthAdjust="spacingAndGlyphs">-0.4</text>
<line x1="42.7" y1="390.5" x2="47.5" y2="390.5" stroke="#5a5a5a" stroke-width="1"/>
<text transform="translate(35.5,390.5) scale(1.77,1) rotate(-90)" font-size="5.2" text-anchor="middle" fill="#222" stroke="#222" stroke-width="0.15" font-family="'Liberation Sans', sans-serif" textLength="9.0" lengthAdjust="spacingAndGlyphs">-0.6</text>
<text transform="translate(14.8,331) scale(1.6,1) rotate(-90)" font-size="5.6" text-anchor="middle" fill="#222" stroke="#222" stroke-width="0.15" font-family="'Liberation Sans', sans-serif" textLength="48.5" lengthAdjust="spacingAndGlyphs">Pearson correlation</text>
<text x="82.5" y="431" font-size="5.6" text-anchor="middle" fill="#1a1a1a" stroke="#1a1a1a" stroke-width="0.15" font-family="'Liberation Sans', sans-serif" transform="translate(82.5,0) scale(1.45,1) translate(-82.5,0)">1</text>
<text x="118" y="431" font-size="5.6" text-anchor="middle" fill="#1a1a1a" stroke="#1a1a1a" stroke-width="0.15" font-family="'Liberation Sans', sans-serif" transform="translate(118,0) scale(1.45,1) translate(-118,0)">2</text>
<text x="149.5" y="431" font-size="5.6" text-anchor="middle" fill="#1a1a1a" stroke="#1a1a1a" stroke-width="0.15" font-family="'Liberation Sans', sans-serif" transform="translate(149.5,0) scale(1.45,1) translate(-149.5,0)">3</text>
<text x="178" y="431" font-size="5.6" text-anchor="middle" fill="#1a1a1a" stroke="#1a1a1a" stroke-width="0.15" font-family="'Liberation Sans', sans-serif" transform="translate(178,0) scale(1.45,1) translate(-178,0)">4</text>
<text x="205" y="431" font-size="5.6" text-anchor="middle" fill="#1a1a1a" stroke="#1a1a1a" stroke-width="0.15" font-family="'Liberation Sans', sans-serif" transform="translate(205,0) scale(1.45,1) translate(-205,0)">5</text>
<text x="229.5" y="431" font-size="5.6" text-anchor="middle" fill="#1a1a1a" stroke="#1a1a1a" stroke-width="0.15" font-family="'Liberation Sans', sans-serif" transform="translate(229.5,0) scale(1.45,1) translate(-229.5,0)">6</text>
<text x="253.75" y="431" font-size="5.6" text-anchor="middle" fill="#1a1a1a" stroke="#1a1a1a" stroke-width="0.15" font-family="'Liberation Sans', sans-serif" transform="translate(253.75,0) scale(1.45,1) translate(-253.75,0)">7</text>
<text x="275.5" y="431" font-size="5.6" text-anchor="middle" fill="#1a1a1a" stroke="#1a1a1a" stroke-width="0.15" font-family="'Liberation Sans', sans-serif" transform="translate(275.5,0) scale(1.45,1) translate(-275.5,0)">8</text>
<text x="296.25" y="431" font-size="5.6" text-anchor="middle" fill="#1a1a1a" stroke="#1a1a1a" stroke-width="0.15" font-family="'Liberation Sans', sans-serif" transform="translate(296.25,0) scale(1.45,1) translate(-296.25,0)">9</text>
<text x="317.5" y="431" font-size="5.6" text-anchor="middle" fill="#1a1a1a" stroke="#1a1a1a" stroke-width="0.15" font-family="'Liberation Sans', sans-serif" transform="translate(317.5,0) scale(1.45,1) translate(-317.5,0)">10</text>
<text x="336.25" y="431" font-size="5.6" text-anchor="middle" fill="#1a1a1a" stroke="#1a1a1a" stroke-width="0.15" font-family="'Liberation Sans', sans-serif" transform="translate(336.25,0) scale(1.45,1) translate(-336.25,0)">11</text>
<text x="356.25" y="431" font-size="5.6" text-anchor="middle" fill="#1a1a1a" stroke="#1a1a1a" stroke-width="0.15" font-family="'Liberation Sans', sans-serif" transform="translate(356.25,0) scale(1.45,1) translate(-356.25,0)">12</text>
<text x="373.25" y="431" font-size="5.6" text-anchor="middle" fill="#1a1a1a" stroke="#1a1a1a" stroke-width="0.15" font-family="'Liberation Sans', sans-serif" transform="translate(373.25,0) scale(1.45,1) translate(-373.25,0)">13</text>
<text x="404" y="431" font-size="5.6" text-anchor="middle" fill="#1a1a1a" stroke="#1a1a1a" stroke-width="0.15" font-family="'Liberation Sans', sans-serif" transform="translate(404,0) scale(1.45,1) translate(-404,0)">15</text>
<text x="430" y="431" font-size="5.6" text-anchor="middle" fill="#1a1a1a" stroke="#1a1a1a" stroke-width="0.15" font-family="'Liberation Sans', sans-serif" transform="translate(430,0) scale(1.45,1) translate(-430,0)">17</text>
<text x="451.25" y="431" font-size="5.6" text-anchor="middle" fill="#1a1a1a" stroke="#1a1a1a" stroke-width="0.15" font-family="'Liberation Sans', sans-serif" transform="translate(451.25,0) scale(1.45,1) translate(-451.25,0)">19</text>
<text x="467.5" y="431" font-size="5.6" text-anchor="middle" fill="#1a1a1a" stroke="#1a1a1a" stroke-width="0.15" font-family="'Liberation Sans', sans-serif" transform="translate(467.5,0) scale(1.45,1) translate(-467.5,0)">21</text>
<text x="489.25" y="431" font-size="5.6" text-anchor="middle" fill="#1a1a1a" stroke="#1a1a1a" stroke-width="0.15" font-family="'Liberation Sans', sans-serif" transform="translate(489.25,0) scale(1.45,1) translate(-489.25,0)">23</text>
<text x="283" y="444" font-size="5.8" text-anchor="middle" fill="#222" stroke="#222" stroke-width="0.12" font-family="'Liberation Sans', sans-serif" textLength="66" lengthAdjust="spacingAndGlyphs">Genomic position</text>
<text x="0.5" y="248" font-size="17" font-weight="bold" fill="#000" font-family="'Liberation Sans', sans-serif">B</text>
<line x1="404.2" y1="484.4" x2="373.8" y2="507.2" stroke="#6c6c6c" stroke-width="1.5"/>
<line x1="369.0" y1="522.8" x2="385.0" y2="549.4" stroke="#6c6c6c" stroke-width="1.5"/>
<line x1="417.0" y1="522.5" x2="395.5" y2="549.6" stroke="#6c6c6c" stroke-width="1.5"/>
<line x1="430.8" y1="515.8" x2="462.5" y2="515.9" stroke="#6c6c6c" stroke-width="1.5"/>
<line x1="426.6" y1="523.2" x2="447.2" y2="558.7" stroke="#6c6c6c" stroke-width="1.5"/>
<line x1="456.9" y1="558.7" x2="474.6" y2="528.5" stroke="#6c6c6c" stroke-width="1.5"/>
<line x1="389.8" y1="564.8" x2="390.7" y2="595.9" stroke="#6c6c6c" stroke-width="1.5"/>
<line x1="444.7" y1="607.5" x2="403.9" y2="608.5" stroke="#6c6c6c" stroke-width="1.5" stroke-dasharray="6 3.2"/>
<line x1="383.2" y1="609.7" x2="328.2" y2="615.9" stroke="#6c6c6c" stroke-width="1.5" stroke-dasharray="6 3.2"/>
<line x1="391.1" y1="616.7" x2="392.8" y2="702.5" stroke="#6c6c6c" stroke-width="1.5" stroke-dasharray="6 3.2"/>
<line x1="384.2" y1="612.9" x2="236.8" y2="702.6" stroke="#6c6c6c" stroke-width="1.5"/>
<line x1="383.9" y1="605.4" x2="271.1" y2="552.0" stroke="#6c6c6c" stroke-width="1.5" stroke-dasharray="6 3.2"/>
<line x1="154.2" y1="584.7" x2="245.3" y2="550.9" stroke="#6c6c6c" stroke-width="1.5"/>
<line x1="254.5" y1="554.1" x2="228.4" y2="608.4" stroke="#6c6c6c" stroke-width="1.5"/>
<line x1="298.3" y1="548.9" x2="232.5" y2="611.4" stroke="#6c6c6c" stroke-width="1.5"/>
<line x1="263.9" y1="553.1" x2="308.8" y2="610.4" stroke="#6c6c6c" stroke-width="1.5"/>
<line x1="305.9" y1="551.6" x2="313.2" y2="608.6" stroke="#6c6c6c" stroke-width="1.5"/>
<line x1="183.3" y1="554.9" x2="215.2" y2="608.9" stroke="#6c6c6c" stroke-width="1.5" stroke-dasharray="6 3.2"/>
<line x1="181.6" y1="555.7" x2="225.4" y2="694.1" stroke="#6c6c6c" stroke-width="1.5" stroke-dasharray="6 3.2"/>
<line x1="150.8" y1="595.8" x2="221.7" y2="696.0" stroke="#6c6c6c" stroke-width="1.5" stroke-dasharray="6 3.2"/>
<line x1="125.5" y1="612.8" x2="208.4" y2="619.8" stroke="#6c6c6c" stroke-width="1.5"/>
<line x1="123.4" y1="617.8" x2="219.2" y2="698.3" stroke="#6c6c6c" stroke-width="1.5" stroke-dasharray="6 3.2"/>
<line x1="101.2" y1="648.2" x2="217.2" y2="701.4" stroke="#6c6c6c" stroke-width="1.5" stroke-dasharray="6 3.2"/>
<line x1="90.1" y1="680.7" x2="216.2" y2="704.5" stroke="#6c6c6c" stroke-width="1.5" stroke-dasharray="6 3.2"/>
<line x1="89.5" y1="721.2" x2="216.1" y2="708.4" stroke="#6c6c6c" stroke-width="1.5" stroke-dasharray="6 3.2"/>
<line x1="99.4" y1="755.8" x2="216.9" y2="711.7" stroke="#6c6c6c" stroke-width="1.5" stroke-dasharray="6 3.2"/>
<line x1="128.0" y1="790.1" x2="219.1" y2="715.6" stroke="#6c6c6c" stroke-width="1.5" stroke-dasharray="6 3.2"/>
<line x1="226.0" y1="714.8" x2="184.4" y2="808.0" stroke="#6c6c6c" stroke-width="1.5" stroke-dasharray="6 3.2"/>
<line x1="229.6" y1="715.5" x2="230.7" y2="828.0" stroke="#6c6c6c" stroke-width="1.5" stroke-dasharray="6 3.2"/>
<line x1="270.8" y1="786.0" x2="235.8" y2="719.0" stroke="#6c6c6c" stroke-width="1.5" stroke-dasharray="6 3.2"/>
<line x1="236.9" y1="711.2" x2="353.4" y2="778.0" stroke="#6c6c6c" stroke-width="1.5" stroke-dasharray="6 3.2"/>
<line x1="333.1" y1="722.7" x2="242.8" y2="709.0" stroke="#6c6c6c" stroke-width="1.5" stroke-dasharray="6 3.2"/>
<line x1="341.0" y1="670.8" x2="237.6" y2="704.4" stroke="#6c6c6c" stroke-width="1.5" stroke-dasharray="6 3.2"/>
<line x1="341.2" y1="664.9" x2="235.4" y2="625.8" stroke="#6c6c6c" stroke-width="1.5" stroke-dasharray="6 3.2"/>
<line x1="358.6" y1="668.1" x2="436.4" y2="669.1" stroke="#6c6c6c" stroke-width="1.5"/>
<line x1="348.4" y1="676.9" x2="343.2" y2="715.1" stroke="#6c6c6c" stroke-width="1.5"/>
<line x1="316.6" y1="626.2" x2="339.7" y2="715.3" stroke="#6c6c6c" stroke-width="1.5"/>
<line x1="308.1" y1="624.0" x2="235.3" y2="700.8" stroke="#6c6c6c" stroke-width="1.5"/>
<line x1="256.8" y1="554.9" x2="231.9" y2="693.7" stroke="#6c6c6c" stroke-width="1.5" stroke-dasharray="6 3.2"/>
<line x1="301.1" y1="550.9" x2="235.1" y2="694.7" stroke="#6c6c6c" stroke-width="1.5" stroke-dasharray="6 3.2"/>
<line x1="228.8" y1="698.5" x2="223.5" y2="635.0" stroke="#6c6c6c" stroke-width="1.5"/>
<line x1="389.9" y1="723.4" x2="370.7" y2="772.0" stroke="#6c6c6c" stroke-width="1.5"/>
<line x1="436.1" y1="754.1" x2="373.7" y2="781.4" stroke="#6c6c6c" stroke-width="1.5"/>
<line x1="444.5" y1="804.4" x2="379.1" y2="788.3" stroke="#6c6c6c" stroke-width="1.5"/>
<line x1="422.0" y1="848.2" x2="374.8" y2="795.4" stroke="#6c6c6c" stroke-width="1.5"/>
<line x1="382.3" y1="850.3" x2="369.0" y2="798.6" stroke="#6c6c6c" stroke-width="1.5"/>
<line x1="333.3" y1="853.1" x2="361.7" y2="793.1" stroke="#6c6c6c" stroke-width="1.5"/>
<line x1="337.8" y1="862.6" x2="376.5" y2="862.6" stroke="#6c6c6c" stroke-width="1.5"/>
<line x1="356.5" y1="785.9" x2="288.9" y2="792.6" stroke="#6c6c6c" stroke-width="1.5"/>
<line x1="275.0" y1="803.0" x2="275.0" y2="848.1" stroke="#6c6c6c" stroke-width="1.5"/>
<line x1="205.0" y1="630.0" x2="226.9" y2="698.9" stroke="#6c6c6c" stroke-width="1.5" stroke-dasharray="6 3.2"/>
<circle cx="481.5" cy="502.5" r="12.3" fill="none" stroke="#6c6c6c" stroke-width="1.5"/>
<circle cx="258.4" cy="533.5" r="12" fill="none" stroke="#6c6c6c" stroke-width="1.5" stroke-dasharray="6 3.2"/>
<circle cx="315.2" cy="605" r="12" fill="none" stroke="#6c6c6c" stroke-width="1.5"/>
<circle cx="446" cy="654.8" r="11.5" fill="none" stroke="#6c6c6c" stroke-width="1.5" stroke-dasharray="6 3.2"/>
<circle cx="393.6" cy="699" r="12" fill="none" stroke="#6c6c6c" stroke-width="1.5"/>
<circle cx="342.3" cy="710.6" r="12" fill="none" stroke="#6c6c6c" stroke-width="1.5"/>
<circle cx="365.5" cy="773.2" r="12.2" fill="none" stroke="#6c6c6c" stroke-width="1.5"/>
<ellipse cx="414" cy="477" rx="19.5" ry="8.5" fill="#f9dede" stroke="#b39f9f" stroke-width="0.8"/>
<ellipse cx="364" cy="514.6" rx="19.5" ry="8.5" fill="#f9dede" stroke="#b39f9f" stroke-width="0.8"/>
<circle cx="422.3" cy="515.8" r="8" fill="#fcf0f0" stroke="#d0a0a0" stroke-width="1"/><circle cx="422.3" cy="515.8" r="5.4" fill="none" stroke="#d0a0a0" stroke-width="0.8"/>
<ellipse cx="482" cy="516" rx="19.5" ry="8.5" fill="#f9dede" stroke="#b39f9f" stroke-width="0.8"/>
<ellipse cx="389.6" cy="557" rx="19.3" ry="7.8" fill="#f3a2a2" stroke="#ae7474" stroke-width="0.8"/>
<path d="M443.2 567L452 548.5L460.8 567L452 585.5Z" fill="#f9dede" stroke="#b39f9f" stroke-width="0.8"/>
<circle cx="391" cy="608.8" r="7.4" fill="#fff" stroke="#b7b7b7" stroke-width="1"/><circle cx="391" cy="608.8" r="4.800000000000001" fill="none" stroke="#b7b7b7" stroke-width="0.8"/>
<path d="M443.8 607L463.3 597.5L482.8 607L463.3 616.5Z" fill="#3ddc3d" stroke="#2b9e2b" stroke-width="0.8"/>
<path d="M159.5 547.5L179 538.0L198.5 547.5L179 557.0Z" fill="#e23b3b" stroke="#a22a2a" stroke-width="0.8"/>
<path d="M248.39999999999998 537.5L268.4 537.5L258.4 554.5Z" fill="#8fe58f" stroke="#66a466" stroke-width="0.8"/>
<path d="M296.0 534.95L313.6 534.95L304.8 550.45Z" fill="#f6c4c4" stroke="#b18d8d" stroke-width="0.8"/>
<circle cx="145.3" cy="588" r="9.5" fill="#3ddc3d" stroke="#2b9e2b" stroke-width="0.8"/>
<circle cx="222.3" cy="621" r="9" fill="#e23b3b" stroke="#a22a2a" stroke-width="0.8"/>
<path d="M304.3 609.0L324.3 609.0L314.3 626.0Z" fill="#e23b3b" stroke="#a22a2a" stroke-width="0.8"/>
<path d="M107.5 620.5L125.5 620.5L116.5 603.5Z" fill="#f18e8e" stroke="#ad6666" stroke-width="0.8"/>
<circle cx="93" cy="644.5" r="9" fill="#f9dede" stroke="#b39f9f" stroke-width="0.8"/>
<path d="M72.3 687.5L90.3 687.5L81.3 670.5Z" fill="#e23b3b" stroke="#a22a2a" stroke-width="0.8"/>
<circle cx="81.3" cy="722" r="8.25" fill="#f9dede" stroke="#b39f9f" stroke-width="0.8"/>
<circle cx="91.3" cy="758.8" r="8.6" fill="#e23b3b" stroke="#a22a2a" stroke-width="0.8"/>
<path d="M112.5 795.4L121.5 776.4L130.5 795.4L121.5 814.4Z" fill="#f18e8e" stroke="#ad6666" stroke-width="0.8"/>
<path d="M169 822.3L178 803.3L187 822.3L178 841.3Z" fill="#f9dede" stroke="#b39f9f" stroke-width="0.8"/>
<path d="M211.3 841L230.8 833L250.3 841L230.8 849Z" fill="#f9dede" stroke="#b39f9f" stroke-width="0.8"/>
<path d="M265 785.5L285 785.5L275 802.5Z" fill="#f18e8e" stroke="#ad6666" stroke-width="0.8"/>
<circle cx="275" cy="862.6" r="9.5" fill="#ee7777" stroke="#ab5555" stroke-width="0.8"/>
<circle cx="229.5" cy="707" r="8" fill="#fff" stroke="#b7b7b7" stroke-width="1"/><circle cx="229.5" cy="707" r="5.4" fill="none" stroke="#b7b7b7" stroke-width="0.8"/>
<path d="M339.6 659.5L359.6 659.5L349.6 676.5Z" fill="#e23b3b" stroke="#a22a2a" stroke-width="0.8"/>
<circle cx="446" cy="669.2" r="9.6" fill="#e63232" stroke="#a52424" stroke-width="0.8"/>
<path d="M332 715.5L352 715.5L342 732.5Z" fill="#e23b3b" stroke="#a22a2a" stroke-width="0.8"/>
<ellipse cx="393" cy="715.5" rx="20.5" ry="8" fill="#f4a8a8" stroke="#af7878" stroke-width="0.8"/>
<path d="M355.5 776.5L375.5 776.5L365.5 793.5Z" fill="#f6c4c4" stroke="#b18d8d" stroke-width="0.8"/>
<circle cx="444" cy="750.7" r="8.6" fill="#f9dede" stroke="#b39f9f" stroke-width="0.8"/>
<path d="M443.6 806.4L452.6 787.4L461.6 806.4L452.6 825.4Z" fill="#f18e8e" stroke="#ad6666" stroke-width="0.8"/>
<circle cx="427.7" cy="854.5" r="8.5" fill="#f9dede" stroke="#b39f9f" stroke-width="0.8"/>
<path d="M376.5 862.6L385.5 843.6L394.5 862.6L385.5 881.6Z" fill="#f9dede" stroke="#b39f9f" stroke-width="0.8"/>
<path d="M319.8 862.6L328.8 843.6L337.8 862.6L328.8 881.6Z" fill="#f9dede" stroke="#b39f9f" stroke-width="0.8"/>
<path d="M477.2 524.2L476.5 532.5L470.3 528.9Z" fill="#6c6c6c"/>
<path d="M390.8 600.9L387.0 593.5L394.2 593.3Z" fill="#6c6c6c"/>
<path d="M398.9 608.6L406.3 604.8L406.5 612.0Z" fill="#6c6c6c"/>
<path d="M323.2 616.5L330.3 612.1L331.1 619.2Z" fill="#6c6c6c"/>
<path d="M392.9 707.5L389.1 700.1L396.3 699.9Z" fill="#6c6c6c"/>
<path d="M266.5 549.9L274.9 549.8L271.8 556.3Z" fill="#6c6c6c"/>
<path d="M250.0 549.1L244.2 555.1L241.7 548.4Z" fill="#6c6c6c"/>
<path d="M226.2 612.9L226.2 604.6L232.7 607.7Z" fill="#6c6c6c"/>
<path d="M228.8 614.8L231.8 607.0L236.7 612.3Z" fill="#6c6c6c"/>
<path d="M217.7 613.2L210.8 608.6L217.0 605.0Z" fill="#6c6c6c"/>
<path d="M226.9 698.9L221.2 692.8L228.1 690.7Z" fill="#6c6c6c"/>
<path d="M224.6 700.1L217.3 696.0L223.2 691.9Z" fill="#6c6c6c"/>
<path d="M213.3 620.2L205.6 623.2L206.2 616.0Z" fill="#6c6c6c"/>
<path d="M223.0 701.5L214.9 699.5L219.6 693.9Z" fill="#6c6c6c"/>
<path d="M221.8 703.5L213.5 703.6L216.5 697.1Z" fill="#6c6c6c"/>
<path d="M221.1 705.4L213.1 707.6L214.4 700.5Z" fill="#6c6c6c"/>
<path d="M221.0 707.9L213.9 712.2L213.2 705.0Z" fill="#6c6c6c"/>
<path d="M221.5 710.0L215.8 716.0L213.3 709.2Z" fill="#6c6c6c"/>
<path d="M222.9 712.4L219.4 719.9L214.8 714.3Z" fill="#6c6c6c"/>
<path d="M182.4 812.5L182.1 804.2L188.7 807.1Z" fill="#6c6c6c"/>
<path d="M230.7 833.0L227.1 825.6L234.2 825.5Z" fill="#6c6c6c"/>
<path d="M233.4 714.5L240.1 719.5L233.7 722.8Z" fill="#6c6c6c"/>
<path d="M357.7 780.5L349.4 779.9L353.0 773.7Z" fill="#6c6c6c"/>
<path d="M237.9 708.3L245.9 705.8L244.8 713.0Z" fill="#6c6c6c"/>
<path d="M230.7 624.1L239.0 623.3L236.5 630.1Z" fill="#6c6c6c"/>
<path d="M231.0 698.6L228.8 690.6L235.9 691.9Z" fill="#6c6c6c"/>
<path d="M233.0 699.3L232.9 691.0L239.4 694.0Z" fill="#6c6c6c"/>
<path d="M223.1 630.0L227.3 637.1L220.1 637.7Z" fill="#6c6c6c"/>
<path d="M368.8 776.6L368.2 768.3L374.9 771.0Z" fill="#6c6c6c"/>
<path d="M374.2 787.1L382.4 785.4L380.7 792.4Z" fill="#6c6c6c"/>
<path d="M371.5 791.7L379.2 794.9L373.8 799.7Z" fill="#6c6c6c"/>
<path d="M367.7 793.7L373.1 800.1L366.1 801.9Z" fill="#6c6c6c"/>
<path d="M284.0 793.1L291.1 788.8L291.8 795.9Z" fill="#6c6c6c"/>
<path d="M275.0 853.1L271.4 845.6L278.6 845.6Z" fill="#6c6c6c"/>
<path d="M470.3 508.5L465.8 502.1L472.7 501.1Z" fill="#6c6c6c"/>
<path d="M435.0 663.5L429.6 657.8L436.3 655.8Z" fill="#6c6c6c"/>
<path d="M382.0 707.0L377.8 700.4L384.8 699.7Z" fill="#6c6c6c"/>
<path d="M241.4 703.8A12.3 12.3 0 1 0 221.4 716.3" fill="none" stroke="#6a6a6a" stroke-width="7"/>
<path d="M237.41 703.30L239.49 700.00L235.68 700.84Z" fill="#fff"/>
<path d="M236.27 701.49L237.50 697.79L234.01 699.53Z" fill="#fff"/>
<path d="M234.74 700.02L235.04 696.13L232.07 698.66Z" fill="#fff"/>
<path d="M232.90 698.96L232.24 695.11L229.97 698.28Z" fill="#fff"/>
<path d="M230.85 698.38L229.29 694.80L227.85 698.43Z" fill="#fff"/>
<path d="M228.72 698.30L226.34 695.22L225.83 699.08Z" fill="#fff"/>
<path d="M226.64 698.75L223.59 696.33L224.02 700.21Z" fill="#fff"/>
<path d="M224.73 699.69L221.18 698.08L222.54 701.73Z" fill="#fff"/>
<path d="M223.10 701.06L219.27 700.36L221.47 703.57Z" fill="#fff"/>
<path d="M221.86 702.78L217.96 703.03L220.88 705.62Z" fill="#fff"/>
<path d="M221.06 704.76L217.35 705.94L220.80 707.74Z" fill="#fff"/>
<path d="M220.77 706.86L217.45 708.91L221.24 709.83Z" fill="#fff"/>
<path d="M221.00 708.98L218.27 711.77L222.17 711.74Z" fill="#fff"/>
<path d="M221.73 710.98L219.76 714.34L223.53 713.37Z" fill="#fff"/>
<circle cx="229.5" cy="707" r="7.6" fill="#fff" stroke="#777" stroke-width="1"/><circle cx="229.5" cy="707" r="5.2" fill="none" stroke="#888" stroke-width="0.8"/>
<text x="414" y="480.4" font-size="9.5" text-anchor="middle" fill="#111" stroke="#111" stroke-width="0.22" font-family="'Liberation Sans', sans-serif">PSMD9</text>
<text x="364" y="518.0" font-size="9.5" text-anchor="middle" fill="#111" stroke="#111" stroke-width="0.22" font-family="'Liberation Sans', sans-serif">PSMC3</text>
<text x="422.3" y="519.1999999999999" font-size="9.5" text-anchor="middle" fill="#111" stroke="#111" stroke-width="0.22" font-family="'Liberation Sans', sans-serif">TFIIH</text>
<text x="482" y="519.4" font-size="9.5" text-anchor="middle" fill="#111" stroke="#111" stroke-width="0.22" font-family="'Liberation Sans', sans-serif">CCNH</text>
<text x="389.6" y="560.4" font-size="9.5" text-anchor="middle" fill="#111" stroke="#111" stroke-width="0.22" font-family="'Liberation Sans', sans-serif">PSMC5</text>
<text x="452" y="570.4" font-size="9.5" text-anchor="middle" fill="#111" stroke="#111" stroke-width="0.22" font-family="'Liberation Sans', sans-serif">ERCC3</text>
<text x="391" y="612.1999999999999" font-size="9.5" text-anchor="middle" fill="#111" stroke="#111" stroke-width="0.22" font-family="'Liberation Sans', sans-serif">26s Proteasome</text>
<text x="463.3" y="610.4" font-size="9.5" text-anchor="middle" fill="#111" stroke="#111" stroke-width="0.22" font-family="'Liberation Sans', sans-serif">PSMB1</text>
<text x="179" y="550.9" font-size="9.5" text-anchor="middle" fill="#111" stroke="#111" stroke-width="0.22" font-family="'Liberation Sans', sans-serif">USP11</text>
<text x="258.4" y="549.1" font-size="9.5" text-anchor="middle" fill="#111" stroke="#111" stroke-width="0.22" font-family="'Liberation Sans', sans-serif">MAP3K7</text>
<text x="304.8" y="546.9" font-size="9.5" text-anchor="middle" fill="#111" stroke="#111" stroke-width="0.22" font-family="'Liberation Sans', sans-serif">TBK1</text>
<text x="145.3" y="591.4" font-size="9.5" text-anchor="middle" fill="#111" stroke="#111" stroke-width="0.22" font-family="'Liberation Sans', sans-serif">TAB2</text>
<text x="222.3" y="624.4" font-size="9.5" text-anchor="middle" fill="#111" stroke="#111" stroke-width="0.22" font-family="'Liberation Sans', sans-serif">IKK (complex)</text>
<text x="314.3" y="622.9" font-size="9.5" text-anchor="middle" fill="#111" stroke="#111" stroke-width="0.22" font-family="'Liberation Sans', sans-serif">IKBKG*</text>
<text x="116.5" y="614.6" font-size="9.5" text-anchor="middle" fill="#111" stroke="#111" stroke-width="0.22" font-family="'Liberation Sans', sans-serif">PPP4R1</text>
<text x="94.3" y="647.9" font-size="9.5" text-anchor="middle" fill="#111" stroke="#111" stroke-width="0.22" font-family="'Liberation Sans', sans-serif">TICAM2</text>
<text x="81.3" y="681.6999999999999" font-size="9.5" text-anchor="middle" fill="#111" stroke="#111" stroke-width="0.22" font-family="'Liberation Sans', sans-serif">IGBP1</text>
<text x="81.3" y="725.4" font-size="9.5" text-anchor="middle" fill="#111" stroke="#111" stroke-width="0.22" font-family="'Liberation Sans', sans-serif">FASTKD1</text>
<text x="91.3" y="762.1999999999999" font-size="9.5" text-anchor="middle" fill="#111" stroke="#111" stroke-width="0.22" font-family="'Liberation Sans', sans-serif">TSC22D3</text>
<text x="121.5" y="798.8" font-size="9.5" text-anchor="middle" fill="#111" stroke="#111" stroke-width="0.22" font-family="'Liberation Sans', sans-serif">TRIM37</text>
<text x="178" y="825.6999999999999" font-size="9.5" text-anchor="middle" fill="#111" stroke="#111" stroke-width="0.22" font-family="'Liberation Sans', sans-serif">RRAS2</text>
<text x="230.8" y="844.4" font-size="9.5" text-anchor="middle" fill="#111" stroke="#111" stroke-width="0.22" font-family="'Liberation Sans', sans-serif">SENP1</text>
<text x="275" y="798.6" font-size="9.5" text-anchor="middle" fill="#111" stroke="#111" stroke-width="0.22" font-family="'Liberation Sans', sans-serif">ROCK1*</text>
<text x="275" y="866.0" font-size="9.5" text-anchor="middle" fill="#111" stroke="#111" stroke-width="0.22" font-family="'Liberation Sans', sans-serif">MYL12B</text>
<text x="229.5" y="710.4" font-size="9.5" text-anchor="middle" fill="#111" stroke="#111" stroke-width="0.22" font-family="'Liberation Sans', sans-serif">NFKB (complex)</text>
<text x="349.6" y="673.4" font-size="9.5" text-anchor="middle" fill="#111" stroke="#111" stroke-width="0.22" font-family="'Liberation Sans', sans-serif">BTK</text>
<text x="446" y="672.6" font-size="9.5" text-anchor="middle" fill="#111" stroke="#111" stroke-width="0.22" font-family="'Liberation Sans', sans-serif">WAS</text>
<text x="342" y="729.9" font-size="9.5" text-anchor="middle" fill="#111" stroke="#111" stroke-width="0.22" font-family="'Liberation Sans', sans-serif">IRAK1</text>
<text x="393" y="718.9" font-size="9.5" text-anchor="middle" fill="#111" stroke="#111" stroke-width="0.22" font-family="'Liberation Sans', sans-serif">SMARCE1</text>
<text x="365.5" y="790.9" font-size="9.5" text-anchor="middle" fill="#111" stroke="#111" stroke-width="0.22" font-family="'Liberation Sans', sans-serif">CCNB1</text>
<text x="444" y="754.1" font-size="9.5" text-anchor="middle" fill="#111" stroke="#111" stroke-width="0.22" font-family="'Liberation Sans', sans-serif">PCM1</text>
<text x="452.6" y="809.8" font-size="9.5" text-anchor="middle" fill="#111" stroke="#111" stroke-width="0.22" font-family="'Liberation Sans', sans-serif">RALBP1</text>
<text x="427.7" y="857.9" font-size="9.5" text-anchor="middle" fill="#111" stroke="#111" stroke-width="0.22" font-family="'Liberation Sans', sans-serif">ZC3HC1</text>
<text x="385.5" y="866.0" font-size="9.5" text-anchor="middle" fill="#111" stroke="#111" stroke-width="0.22" font-family="'Liberation Sans', sans-serif">MSH2</text>
<text x="328.8" y="866.0" font-size="9.5" text-anchor="middle" fill="#111" stroke="#111" stroke-width="0.22" font-family="'Liberation Sans', sans-serif">MSH6</text>
<text x="0.6" y="480.3" font-size="17.5" font-weight="bold" fill="#000" font-family="'Liberation Sans', sans-serif">C</text>
</svg>
</body></html>
